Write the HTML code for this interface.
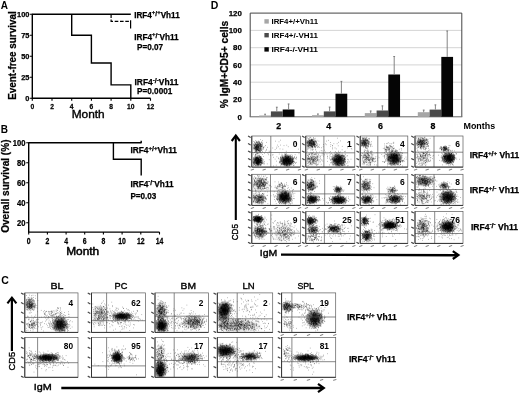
<!DOCTYPE html>
<html><head><meta charset="utf-8"><title>Figure</title>
<style>html,body{margin:0;padding:0;background:#fff}svg{display:block;will-change:transform}text{font-family:'Liberation Sans', sans-serif;fill:#000}</style>
</head><body>
<svg width="520" height="396" viewBox="0 0 520 396">
<defs><radialGradient id="g"><stop offset="0" stop-color="#000" stop-opacity="1"/><stop offset=".45" stop-color="#000" stop-opacity=".75"/><stop offset="1" stop-color="#000" stop-opacity="0"/></radialGradient></defs>
<rect width="520" height="396" fill="#fff"/>
<g id="panelA">
<text x="0.8" y="8.6" font-size="10" font-weight="bold" >A</text>
<path d="M32.3 13.8V98.3H150.5" stroke="#000" stroke-width="1.4" fill="none"/>
<path d="M29.799999999999997 98.3h2.5M29.799999999999997 77.3h2.5M29.799999999999997 56.3h2.5M29.799999999999997 35.3h2.5M29.799999999999997 14.3h2.5M32.3 98.3v2.5M52.0 98.3v2.5M71.7 98.3v2.5M91.4 98.3v2.5M111.1 98.3v2.5M130.8 98.3v2.5M150.5 98.3v2.5" stroke="#000" stroke-width="1.1" fill="none"/>
<text x="29.4" y="100.9" font-size="7.4" font-weight="bold" text-anchor="end" stroke="#000" stroke-width=".25">0</text>
<text x="29.4" y="79.9" font-size="7.4" font-weight="bold" text-anchor="end" stroke="#000" stroke-width=".25">25</text>
<text x="29.4" y="58.9" font-size="7.4" font-weight="bold" text-anchor="end" stroke="#000" stroke-width=".25">50</text>
<text x="29.4" y="37.9" font-size="7.4" font-weight="bold" text-anchor="end" stroke="#000" stroke-width=".25">75</text>
<text x="29.4" y="16.9" font-size="7.4" font-weight="bold" text-anchor="end" stroke="#000" stroke-width=".25">100</text>
<text transform="translate(32.3 108.8) scale(0.86 1)" font-size="7.8" font-weight="bold" text-anchor="middle" stroke="#000" stroke-width=".25">0</text>
<text transform="translate(52.0 108.8) scale(0.86 1)" font-size="7.8" font-weight="bold" text-anchor="middle" stroke="#000" stroke-width=".25">2</text>
<text transform="translate(71.7 108.8) scale(0.86 1)" font-size="7.8" font-weight="bold" text-anchor="middle" stroke="#000" stroke-width=".25">4</text>
<text transform="translate(91.4 108.8) scale(0.86 1)" font-size="7.8" font-weight="bold" text-anchor="middle" stroke="#000" stroke-width=".25">6</text>
<text transform="translate(111.1 108.8) scale(0.86 1)" font-size="7.8" font-weight="bold" text-anchor="middle" stroke="#000" stroke-width=".25">8</text>
<text transform="translate(130.8 108.8) scale(0.86 1)" font-size="7.8" font-weight="bold" text-anchor="middle" stroke="#000" stroke-width=".25">10</text>
<text transform="translate(150.5 108.8) scale(0.86 1)" font-size="7.8" font-weight="bold" text-anchor="middle" stroke="#000" stroke-width=".25">12</text>
<text x="71.7" y="118.0" font-size="10.5" textLength="33" lengthAdjust="spacingAndGlyphs" stroke="#000" stroke-width=".35">Month</text>
<text transform="translate(16 99.8) rotate(-90)" font-size="10.5" font-weight="bold" textLength="88.5" lengthAdjust="spacingAndGlyphs" stroke="#000" stroke-width=".25">Event-free survival</text>
<path d="M32.3 14.299999999999997H130.8" stroke="#000" stroke-width="1.4" fill="none"/>
<path d="M71.7 14.299999999999997V35.3H91.4V63.0H111.1V84.9H130.8V98.3" stroke="#000" stroke-width="1.4" fill="none"/>
<path d="M111.1 14.299999999999997V21.3H130.5" stroke="#000" stroke-width="1.2" stroke-dasharray="3.6 1.7" fill="none"/>
<path d="M130.6 20.2V28.6" stroke="#000" stroke-width="1.2" fill="none"/>
<text x="134.2" y="17.6" font-size="8.5" font-weight="bold" textLength="45.5" lengthAdjust="spacingAndGlyphs" stroke="#000" stroke-width=".25">IRF4<tspan font-size="6.2" dy="-3.3">+</tspan><tspan font-size="7.2" dy="1.3">/</tspan><tspan font-size="6.2" dy="-1.3">+</tspan><tspan dy="3.3">Vh11</tspan></text>
<text x="134.2" y="39.6" font-size="8.5" font-weight="bold" textLength="44.5" lengthAdjust="spacingAndGlyphs" stroke="#000" stroke-width=".25">IRF4<tspan font-size="6.2" dy="-3.3">+</tspan><tspan font-size="7.2" dy="1.3">/</tspan><tspan font-size="6.2" dy="-1.3">-</tspan><tspan dy="3.3">Vh11</tspan></text>
<text x="137" y="50" font-size="8.5" font-weight="bold" textLength="26" lengthAdjust="spacingAndGlyphs" stroke="#000" stroke-width=".25">P=0.07</text>
<text x="134.5" y="85.2" font-size="8.5" font-weight="bold" textLength="44" lengthAdjust="spacingAndGlyphs" stroke="#000" stroke-width=".25">IRF4<tspan font-size="6.2" dy="-3.3">-</tspan><tspan font-size="7.2" dy="1.3">/</tspan><tspan font-size="6.2" dy="-1.3">-</tspan><tspan dy="3.3">Vh11</tspan></text>
<text x="137" y="93.8" font-size="8.5" font-weight="bold" textLength="35.3" lengthAdjust="spacingAndGlyphs" stroke="#000" stroke-width=".25">P=0.0001</text>
</g>
<g id="panelB">
<text x="0.8" y="133.2" font-size="10" font-weight="bold" >B</text>
<path d="M28.7 142.2V232.1H159.5" stroke="#000" stroke-width="1.4" fill="none"/>
<path d="M26.2 222.7h2.5M26.2 202.7h2.5M26.2 182.7h2.5M26.2 162.7h2.5M26.2 142.7h2.5M28.7 232.1v2.5M47.4 232.1v2.5M66.1 232.1v2.5M84.7 232.1v2.5M103.4 232.1v2.5M122.1 232.1v2.5M140.8 232.1v2.5M159.5 232.1v2.5" stroke="#000" stroke-width="1.1" fill="none"/>
<text transform="translate(25.4 225.6) scale(0.93 1)" font-size="8.2" font-weight="bold" text-anchor="end" stroke="#000" stroke-width=".25">20</text>
<text transform="translate(25.4 205.6) scale(0.93 1)" font-size="8.2" font-weight="bold" text-anchor="end" stroke="#000" stroke-width=".25">40</text>
<text transform="translate(25.4 185.6) scale(0.93 1)" font-size="8.2" font-weight="bold" text-anchor="end" stroke="#000" stroke-width=".25">60</text>
<text transform="translate(25.4 165.6) scale(0.93 1)" font-size="8.2" font-weight="bold" text-anchor="end" stroke="#000" stroke-width=".25">80</text>
<text transform="translate(25.4 145.6) scale(0.93 1)" font-size="8.2" font-weight="bold" text-anchor="end" stroke="#000" stroke-width=".25">100</text>
<text transform="translate(28.7 244.2) scale(0.82 1)" font-size="8.4" font-weight="bold" text-anchor="middle" stroke="#000" stroke-width=".25">0</text>
<text transform="translate(47.4 244.2) scale(0.82 1)" font-size="8.4" font-weight="bold" text-anchor="middle" stroke="#000" stroke-width=".25">2</text>
<text transform="translate(66.1 244.2) scale(0.82 1)" font-size="8.4" font-weight="bold" text-anchor="middle" stroke="#000" stroke-width=".25">4</text>
<text transform="translate(84.7 244.2) scale(0.82 1)" font-size="8.4" font-weight="bold" text-anchor="middle" stroke="#000" stroke-width=".25">6</text>
<text transform="translate(103.4 244.2) scale(0.82 1)" font-size="8.4" font-weight="bold" text-anchor="middle" stroke="#000" stroke-width=".25">8</text>
<text transform="translate(122.1 244.2) scale(0.82 1)" font-size="8.4" font-weight="bold" text-anchor="middle" stroke="#000" stroke-width=".25">10</text>
<text transform="translate(140.8 244.2) scale(0.82 1)" font-size="8.4" font-weight="bold" text-anchor="middle" stroke="#000" stroke-width=".25">12</text>
<text transform="translate(159.5 244.2) scale(0.82 1)" font-size="8.4" font-weight="bold" text-anchor="middle" stroke="#000" stroke-width=".25">14</text>
<text x="66.2" y="254.6" font-size="10" textLength="33" lengthAdjust="spacingAndGlyphs" stroke="#000" stroke-width=".45">Month</text>
<text transform="translate(9.1 232.8) rotate(-90)" font-size="10.3" font-weight="bold" textLength="93.3" lengthAdjust="spacingAndGlyphs" stroke="#000" stroke-width=".25">Overall survival (%)</text>
<path d="M28.7 142.7H141.2m0 .6v-2.6" stroke="#000" stroke-width="1.4" fill="none"/>
<path d="M113.4 142.7V159.2H141.2V175.4" stroke="#000" stroke-width="1.4" fill="none"/>
<text x="130.4" y="152.9" font-size="8.5" font-weight="bold" textLength="46.6" lengthAdjust="spacingAndGlyphs" stroke="#000" stroke-width=".25">IRF4<tspan font-size="6.2" dy="-3.3">+</tspan><tspan font-size="7.2" dy="1.3">/</tspan><tspan font-size="6.2" dy="-1.3">+</tspan><tspan dy="3.3">Vh11</tspan></text>
<text x="130.4" y="186.5" font-size="8.5" font-weight="bold" textLength="43.3" lengthAdjust="spacingAndGlyphs" stroke="#000" stroke-width=".25">IRF4<tspan font-size="6.2" dy="-3.3">-</tspan><tspan font-size="7.2" dy="1.3">/</tspan><tspan font-size="6.2" dy="-1.3">-</tspan><tspan dy="3.3">Vh11</tspan></text>
<text x="130.4" y="198.5" font-size="8.5" font-weight="bold" textLength="26" lengthAdjust="spacingAndGlyphs" stroke="#000" stroke-width=".25">P=0.03</text>
</g>
<g id="panelC">
<text x="1.3" y="283.8" font-size="10.5" font-weight="bold" >C</text>
<text x="50.4" y="289.2" font-size="9.6" textLength="13" lengthAdjust="spacingAndGlyphs" stroke="#000" stroke-width=".35">BL</text>
<text x="114.6" y="289.2" font-size="9.6" textLength="12.8" lengthAdjust="spacingAndGlyphs" stroke="#000" stroke-width=".35">PC</text>
<text x="180.6" y="289.2" font-size="9.6" textLength="15.4" lengthAdjust="spacingAndGlyphs" stroke="#000" stroke-width=".35">BM</text>
<text x="242.4" y="289.2" font-size="9.6" textLength="12.2" lengthAdjust="spacingAndGlyphs" stroke="#000" stroke-width=".35">LN</text>
<text x="297.4" y="289.2" font-size="9.6" textLength="16.6" lengthAdjust="spacingAndGlyphs" stroke="#000" stroke-width=".35">SPL</text>
<rect x="24.8" y="292.9" width="53.2" height="39.5" fill="#fff" stroke="#5a5a5a" stroke-width=".7"/>
<clipPath id="c1"><rect x="24.8" y="292.9" width="53.2" height="39.5"/></clipPath><g clip-path="url(#c1)">
<ellipse cx="29.6" cy="304.4" rx="6.4" ry="7.4" fill="url(#g)" opacity="0.35"/>
<ellipse cx="59.9" cy="324.5" rx="8.8" ry="8.7" fill="url(#g)" opacity="0.87"/>
</g>
<path transform="translate(24.8 292.9) scale(.1)" d="M40 131h6M41 103h6M20 107h6M80 128h6M78 122h6M59 120h6M62 131h6M21 98h6M56 113h6M63 92h6M56 127h6M28 172h6M64 154h6M29 89h6M37 110h6M66 122h6M34 82h6M32 155h6M24 122h6M60 64h6M49 158h6M44 87h6M62 112h6M67 146h6M90 126h6M51 70h6M65 94h6M34 72h6M19 96h6M85 46h6M90 133h6M58 89h6M15 147h6M80 119h6M55 129h6M94 135h6M63 132h6M75 132h6M72 53h6M42 148h6M64 109h6M57 136h6M51 153h6M28 100h6M78 115h6M22 146h6M90 99h6M43 104h6M88 80h6M84 71h6M24 135h6M80 143h6M57 119h6M52 133h6M42 123h6M64 114h6M70 133h6M106 125h6M35 102h6M47 145h6M38 127h6M101 28h6M14 122h6M59 122h6M35 136h6M56 97h6M118 126h6M31 111h6M41 112h6M77 75h6M45 146h6M72 164h6M37 135h6M79 24h6M79 65h6M67 64h6M53 154h6M43 120h6M71 119h6M45 166h6M78 104h6M128 76h6M74 105h6M51 138h6M54 135h6M65 82h6M17 65h6M84 139h6M90 83h6M47 76h6M70 167h6M21 166h6M76 108h6M45 94h6M59 128h6M91 80h6M81 164h6M90 108h6M26 148h6M51 118h6M89 105h6M57 94h6M47 142h6M50 159h6M46 149h6M91 168h6M28 144h6M11 114h6M42 113h6M30 122h6M100 116h6M63 148h6M42 72h6M31 150h6M77 141h6M48 141h6M52 74h6M74 95h6M21 88h6M13 126h6M29 49h6M69 105h6M56 99h6M70 139h6M67 125h6M86 136h6M61 44h6M74 158h6M39 98h6M104 55h6M61 195h6M20 137h6M103 110h6M64 144h6M21 111h6M56 142h6M46 107h6M18 102h6M73 117h6M22 86h6M125 152h6M66 27h6M66 130h6M97 128h6M45 132h6M57 90h6M86 175h6M56 120h6M36 81h6M109 149h6M12 69h6M97 147h6M101 141h6M22 123h6M46 132h6M26 110h6M61 127h6M66 121h6M38 141h6M49 86h6M29 114h6M44 119h6M47 120h6M43 72h6M60 149h6M60 108h6M60 82h6M20 139h6M16 26h6M17 167h6M36 68h6M25 132h6M62 120h6M91 138h6M47 134h6M96 147h6M77 78h6M43 139h6M39 150h6M65 145h6M41 200h6M84 107h6M50 201h6M37 143h6M76 114h6M13 120h6M58 152h6M70 115h6M72 132h6M53 116h6M40 137h6M17 93h6M48 65h6M35 47h6M27 133h6M64 112h6M41 66h6M101 131h6M79 84h6M42 53h6M70 145h6M66 55h6M29 67h6M48 122h6M66 138h6M91 153h6M16 78h6M45 114h6M62 61h6M11 113h6M42 104h6M46 89h6M68 126h6M45 91h6M42 23h6M19 115h6M52 68h6M40 104h6M61 135h6M67 282h6M64 313h6M94 327h6M44 262h6M56 286h6M30 311h6M52 320h6M87 299h6M149 303h6M107 320h6M107 222h6M43 325h6M80 366h6M95 353h6M86 309h6M86 273h6M110 275h6M61 316h6M109 317h6M41 326h6M89 344h6M126 316h6M78 299h6M118 288h6M92 297h6M45 344h6M115 315h6M45 348h6M67 328h6M121 360h6M69 347h6M46 314h6M116 267h6M17 251h6M109 297h6M67 303h6M64 273h6M69 259h6M66 328h6M85 306h6M37 322h6M52 377h6M95 311h6M52 288h6M36 302h6M79 336h6M44 316h6M165 242h6M51 322h6M74 332h6M60 330h6M70 346h6M69 275h6M33 340h6M46 341h6M94 328h6M86 311h6M20 314h6M84 295h6M65 345h6M38 341h6M133 294h6M74 310h6M122 328h6M100 288h6M68 315h6M100 246h6M94 310h6M84 330h6M17 307h6M120 293h6M33 262h6M26 329h6M127 332h6M51 289h6M87 337h6M34 269h6M79 325h6M23 308h6M50 334h6M65 312h6M56 357h6M117 301h6M98 286h6M71 345h6M121 300h6M66 323h6M17 316h6M45 330h6M30 237h6M70 326h6M50 351h6M59 292h6M85 254h6M45 315h6M98 309h6M79 290h6M79 381h6M46 316h6M75 356h6M26 233h6M90 347h6M76 326h6M101 330h6M126 267h6M56 179h6M97 301h6M68 305h6M51 282h6M47 341h6M70 318h6M63 352h6M86 310h6M92 310h6M29 373h6M85 278h6M106 329h6M15 379h6M80 351h6M76 310h6M15 354h6M70 304h6M81 319h6M92 301h6M67 231h6M334 342h6M404 301h6M346 378h6M338 344h6M418 317h6M400 287h6M359 312h6M355 360h6M446 289h6M328 335h6M309 335h6M373 305h6M372 254h6M381 254h6M323 294h6M335 349h6M354 300h6M372 378h6M351 330h6M400 326h6M439 237h6M349 332h6M389 342h6M340 274h6M355 356h6M307 275h6M350 239h6M340 298h6M369 288h6M315 300h6M349 289h6M351 345h6M398 383h6M319 299h6M322 314h6M371 262h6M369 314h6M278 327h6M398 242h6M383 324h6M370 333h6M403 307h6M385 299h6M380 283h6M346 384h6M368 309h6M305 284h6M358 353h6M368 336h6M349 369h6M335 294h6M386 318h6M340 293h6M340 340h6M365 268h6M368 323h6M311 346h6M339 302h6M382 368h6M323 333h6M331 363h6M325 348h6M439 215h6M333 335h6M347 289h6M436 319h6M285 349h6M282 361h6M328 321h6M401 320h6M295 249h6M398 345h6M318 349h6M370 341h6M260 304h6M387 344h6M386 218h6M357 335h6M452 278h6M337 317h6M386 298h6M396 284h6M361 295h6M357 288h6M287 359h6M363 293h6M359 355h6M312 311h6M372 336h6M337 232h6M400 328h6M351 304h6M361 299h6M310 286h6M327 291h6M304 341h6M298 342h6M310 329h6M405 324h6M321 317h6M357 247h6M326 322h6M332 319h6M380 346h6M387 339h6M339 315h6M340 303h6M343 247h6M337 315h6M312 315h6M371 309h6M433 213h6M342 243h6M251 321h6M371 304h6M373 227h6M385 330h6M352 292h6M376 296h6M360 295h6M261 314h6M359 345h6M316 314h6M375 321h6M314 240h6M385 376h6M387 348h6M326 287h6M386 279h6M278 276h6M323 287h6M360 286h6M403 312h6M307 367h6M327 324h6M350 303h6M364 288h6M277 228h6M300 286h6M350 318h6M373 320h6M319 287h6M266 309h6M370 336h6M346 309h6M388 316h6M380 339h6M359 367h6M328 301h6M318 284h6M352 338h6M398 347h6M399 266h6M325 333h6M408 320h6M316 301h6M324 282h6M411 291h6M398 329h6M326 332h6M415 340h6M401 319h6M371 308h6M368 367h6M294 313h6M360 293h6M338 347h6M430 340h6M364 254h6M428 319h6M349 271h6M348 272h6M353 334h6M352 327h6M317 372h6M325 244h6M343 285h6M310 301h6M362 269h6M345 372h6M378 309h6M356 311h6M349 344h6M347 221h6M350 280h6M377 291h6M309 271h6M294 221h6M276 330h6M325 242h6M291 340h6M320 301h6M364 369h6M428 356h6M356 323h6M423 372h6M338 334h6M362 318h6M331 263h6M329 255h6M399 337h6M303 371h6M386 240h6M424 347h6M433 267h6M372 332h6M359 322h6M393 256h6M301 260h6M328 292h6M365 326h6M352 289h6M333 353h6M381 319h6M338 377h6M327 341h6M397 305h6M384 271h6M391 323h6M287 342h6M315 366h6M324 309h6M362 302h6M361 294h6M377 316h6M359 207h6M397 317h6M279 319h6M369 358h6M307 377h6M345 342h6M336 271h6M394 351h6M412 349h6M328 250h6M325 289h6M318 339h6M364 305h6M358 310h6M359 345h6M389 288h6M290 372h6M355 359h6M285 302h6M352 259h6M330 344h6M394 378h6M316 260h6M371 353h6M358 264h6M382 347h6M373 296h6M363 347h6M328 243h6M364 334h6M351 351h6M327 312h6M338 338h6M414 306h6M433 376h6M382 339h6M421 308h6M346 274h6M369 369h6M372 332h6M343 322h6M294 357h6M334 272h6M321 283h6M385 357h6M296 352h6M386 293h6M291 286h6M325 329h6M336 235h6M360 255h6M387 268h6M323 282h6M329 367h6M385 339h6M363 254h6M330 294h6M312 336h6M321 287h6M309 234h6M374 368h6M358 277h6M243 322h6M399 327h6M388 374h6M396 298h6M393 346h6M289 299h6M294 311h6M374 273h6M269 367h6M366 374h6M298 357h6M342 326h6M344 355h6M392 319h6M296 345h6M332 340h6M361 380h6M396 298h6M329 333h6M398 365h6M371 263h6M300 325h6M316 360h6M381 249h6M318 322h6M331 309h6M369 284h6M369 290h6M329 337h6M328 327h6M414 317h6M345 345h6M336 358h6M299 340h6M330 284h6M421 282h6M421 342h6M409 277h6M398 373h6M346 310h6M449 323h6M334 291h6M368 329h6M358 383h6M338 334h6M409 276h6M297 272h6M309 243h6M369 242h6M371 373h6M286 303h6M274 346h6M321 305h6M353 337h6M337 316h6M329 320h6M304 318h6M274 296h6M427 319h6M300 326h6M312 250h6M321 345h6M366 312h6M314 273h6M404 325h6M313 232h6M305 312h6M359 309h6M340 261h6M309 382h6M320 349h6M283 305h6M361 356h6M306 339h6M366 286h6M370 280h6M319 315h6M242 311h6M311 258h6M334 346h6M334 366h6M304 264h6M413 331h6M388 283h6M383 326h6M376 317h6M399 290h6M312 257h6M397 286h6M309 278h6M333 265h6M339 291h6M329 278h6M352 297h6M355 325h6M364 229h6M329 284h6M382 253h6M322 304h6M337 355h6M333 354h6M292 244h6M399 333h6M370 320h6M370 267h6M388 294h6M390 319h6M272 265h6M396 310h6M335 325h6M334 294h6M355 321h6M411 317h6M419 357h6M356 321h6M345 287h6M348 290h6M416 337h6M333 240h6M348 299h6M307 271h6M261 338h6M349 310h6M408 321h6M357 301h6M326 375h6M391 383h6M337 317h6M315 354h6M295 338h6M394 371h6M313 359h6M322 286h6M298 361h6M416 292h6M320 302h6M451 355h6M329 245h6M324 362h6M425 305h6M323 295h6M275 351h6M307 357h6M282 265h6M362 285h6M382 316h6M304 340h6M384 240h6M423 335h6M381 242h6M322 302h6M394 258h6M315 235h6M341 329h6M283 292h6M371 378h6M377 304h6M304 279h6M324 321h6M349 381h6M362 273h6M412 353h6M355 287h6M276 275h6M387 284h6M298 323h6M360 339h6M377 371h6M317 354h6M311 343h6M358 325h6M389 315h6M395 350h6M356 293h6M321 295h6M343 315h6M470 341h6M381 282h6M322 303h6M358 275h6M415 293h6M394 223h6M350 326h6M358 339h6M362 322h6M275 287h6M257 340h6M363 308h6M318 293h6M424 384h6M348 366h6M287 239h6M331 281h6M328 323h6M471 289h6M353 326h6M349 352h6M421 266h6M357 305h6M365 255h6M280 224h6M372 323h6M354 222h6M336 286h6M294 279h6M378 337h6M350 336h6M327 318h6M352 337h6M348 310h6M345 290h6M440 336h6M407 254h6M378 349h6M426 367h6M381 269h6M316 326h6M371 275h6M335 300h6M353 329h6M339 267h6M400 379h6M346 356h6M368 342h6M370 285h6M374 355h6M430 345h6M337 292h6M318 320h6M349 342h6M441 314h6M378 334h6M362 307h6M346 283h6M358 315h6M363 282h6M352 317h6M375 274h6M367 354h6M374 301h6M331 306h6M380 377h6M265 187h6M302 211h6M213 185h6M269 223h6M194 177h6M311 171h6M284 215h6M268 177h6M272 196h6M299 182h6M352 159h6M264 205h6M343 188h6M314 189h6M327 253h6M248 217h6M212 232h6M360 206h6M198 216h6M356 235h6M332 154h6M229 244h6M191 236h6M406 226h6M354 196h6M191 202h6M262 204h6M324 201h6M289 217h6M276 256h6M307 207h6M262 188h6M369 209h6M202 189h6M267 193h6M351 173h6M310 209h6M195 206h6M270 219h6M245 213h6M161 175h6M330 234h6M275 188h6M351 147h6M221 223h6M321 176h6M146 245h6M287 180h6M280 230h6M97 236h6M327 147h6M329 156h6M355 216h6M432 188h6M276 234h6M232 185h6M250 203h6M201 218h6M314 207h6M394 196h6M367 190h6M328 151h6M290 200h6M242 188h6M252 185h6M124 188h6M238 190h6M203 201h6M330 198h6M242 242h6M344 230h6M356 196h6M267 236h6M238 202h6M302 215h6M257 232h6M264 225h6M350 223h6M327 173h6M185 188h6M309 246h6M192 213h6M217 185h6M257 224h6M291 238h6M208 229h6M340 207h6M238 293h6M154 299h6M186 381h6M223 328h6M252 285h6M261 330h6M132 339h6M242 333h6M297 299h6M240 345h6M164 363h6M135 264h6M240 272h6M206 251h6M216 271h6M230 255h6M236 305h6M216 313h6M219 263h6M76 317h6M163 298h6M235 237h6M172 291h6M156 328h6M205 283h6M160 347h6M177 339h6M236 241h6M155 316h6M230 346h6M255 356h6M192 307h6M254 299h6M269 253h6M247 309h6M108 354h6" stroke="#000" stroke-width="6" opacity=".72" fill="none"/>
<path d="M37.6 292.9V332.4M24.8 317.4H78.0" stroke="#555" stroke-width=".7" fill="none"/>
<path d="M21.5 293.2l1.7 .9M21.5 302.8l1.7 .9M21.5 312.3l1.7 .9M21.5 321.9l1.7 .9M21.5 331.5l1.7 .9" stroke="#4a4a4a" stroke-width="1.3" stroke-linecap="round" fill="none"/>
<path d="M24.8 292.9V332.4H78.0" stroke="#2a2a2a" stroke-width=".9" fill="none"/>
<text x="73.0" y="306.0" font-size="8.3" font-weight="bold" text-anchor="end" >4</text>
<rect x="91.5" y="292.9" width="54.0" height="39.5" fill="#fff" stroke="#5a5a5a" stroke-width=".7"/>
<clipPath id="c2"><rect x="91.5" y="292.9" width="54.0" height="39.5"/></clipPath><g clip-path="url(#c2)">
<ellipse cx="122.3" cy="316.2" rx="11.3" ry="4.3" fill="url(#g)" opacity="0.87"/>
<ellipse cx="99.6" cy="314.6" rx="9.5" ry="11.3" fill="url(#g)" opacity="0.14"/>
</g>
<path transform="translate(91.5 292.9) scale(.1)" d="M323 233h6M252 223h6M385 216h6M129 216h6M246 230h6M287 215h6M264 253h6M233 271h6M279 211h6M348 244h6M254 247h6M213 214h6M365 228h6M241 243h6M354 232h6M215 226h6M329 248h6M402 228h6M283 232h6M369 214h6M374 178h6M348 219h6M331 246h6M247 231h6M320 244h6M260 213h6M209 283h6M297 228h6M231 251h6M280 261h6M351 233h6M345 211h6M291 221h6M242 233h6M300 261h6M135 219h6M260 223h6M329 241h6M309 223h6M333 240h6M213 227h6M237 209h6M315 234h6M313 215h6M297 215h6M327 246h6M397 258h6M266 224h6M259 239h6M409 247h6M194 208h6M241 243h6M307 238h6M399 216h6M264 271h6M325 217h6M203 202h6M182 234h6M310 252h6M300 219h6M269 270h6M217 236h6M309 245h6M287 242h6M349 230h6M284 229h6M258 228h6M292 237h6M376 258h6M284 244h6M322 248h6M308 238h6M283 217h6M352 258h6M341 241h6M321 224h6M216 246h6M318 222h6M258 258h6M215 267h6M340 279h6M270 232h6M281 236h6M297 218h6M362 217h6M281 244h6M280 224h6M326 225h6M243 231h6M296 266h6M251 252h6M267 226h6M291 238h6M352 267h6M275 259h6M358 249h6M268 250h6M302 240h6M293 246h6M365 255h6M297 252h6M382 214h6M383 206h6M335 244h6M383 238h6M283 217h6M243 248h6M295 218h6M335 217h6M285 223h6M392 261h6M299 202h6M321 234h6M325 244h6M291 251h6M350 237h6M286 223h6M343 211h6M299 218h6M236 244h6M306 233h6M352 203h6M304 238h6M350 211h6M344 237h6M377 255h6M335 275h6M307 224h6M290 214h6M306 195h6M303 241h6M358 226h6M379 220h6M300 195h6M268 217h6M382 243h6M252 243h6M331 228h6M308 227h6M280 198h6M303 257h6M379 227h6M270 228h6M352 239h6M278 240h6M297 242h6M287 204h6M310 247h6M252 230h6M351 225h6M275 272h6M349 252h6M260 264h6M225 223h6M344 258h6M261 220h6M317 195h6M339 243h6M285 243h6M346 238h6M333 262h6M284 236h6M281 252h6M287 242h6M314 234h6M393 231h6M378 248h6M373 229h6M353 247h6M277 238h6M301 232h6M372 219h6M224 199h6M285 220h6M308 243h6M394 238h6M330 219h6M336 258h6M374 195h6M351 263h6M348 204h6M292 244h6M328 217h6M263 251h6M241 260h6M308 238h6M241 221h6M341 205h6M410 206h6M247 233h6M331 246h6M289 229h6M296 222h6M180 251h6M320 236h6M276 237h6M307 231h6M362 200h6M320 212h6M292 261h6M254 231h6M278 251h6M259 201h6M333 226h6M292 253h6M264 225h6M315 240h6M282 252h6M418 225h6M399 193h6M377 226h6M314 226h6M276 208h6M288 257h6M363 226h6M281 219h6M248 267h6M340 235h6M283 213h6M372 247h6M260 251h6M253 245h6M260 225h6M332 241h6M357 217h6M385 258h6M307 241h6M269 230h6M242 234h6M317 258h6M354 248h6M289 228h6M291 237h6M212 247h6M230 223h6M308 223h6M389 231h6M385 255h6M283 240h6M371 226h6M312 222h6M310 226h6M311 252h6M376 235h6M317 249h6M293 212h6M362 215h6M353 214h6M397 213h6M349 261h6M260 261h6M267 199h6M343 246h6M297 185h6M305 227h6M289 227h6M219 222h6M396 262h6M289 219h6M327 253h6M343 210h6M315 235h6M378 255h6M333 256h6M288 262h6M286 240h6M353 215h6M273 199h6M315 232h6M291 242h6M203 232h6M312 228h6M346 266h6M285 215h6M278 234h6M336 216h6M357 213h6M348 241h6M330 273h6M294 229h6M331 249h6M241 238h6M271 245h6M375 234h6M302 236h6M162 247h6M335 236h6M288 219h6M298 256h6M302 258h6M181 224h6M321 232h6M226 220h6M369 208h6M259 212h6M280 245h6M337 194h6M379 221h6M278 264h6M303 209h6M276 219h6M258 226h6M351 239h6M239 285h6M259 235h6M309 247h6M291 241h6M411 234h6M254 239h6M268 226h6M317 239h6M293 249h6M298 208h6M351 226h6M367 220h6M336 239h6M174 204h6M252 259h6M214 250h6M361 242h6M341 223h6M307 237h6M328 246h6M297 219h6M280 240h6M225 209h6M287 222h6M294 182h6M291 228h6M346 195h6M292 242h6M331 255h6M359 213h6M339 226h6M268 262h6M276 216h6M287 216h6M357 240h6M376 240h6M277 252h6M275 224h6M299 233h6M366 221h6M325 232h6M245 212h6M296 240h6M323 242h6M310 224h6M328 213h6M241 226h6M237 223h6M270 222h6M305 217h6M286 200h6M314 216h6M327 179h6M268 237h6M187 226h6M312 235h6M233 237h6M315 214h6M344 232h6M308 224h6M334 234h6M364 241h6M277 228h6M353 226h6M326 243h6M298 188h6M314 237h6M314 218h6M367 230h6M276 219h6M325 212h6M258 271h6M372 253h6M375 244h6M224 255h6M369 242h6M210 256h6M375 223h6M314 247h6M303 254h6M311 246h6M312 204h6M258 293h6M321 258h6M364 265h6M335 221h6M308 196h6M298 250h6M200 236h6M348 258h6M261 220h6M214 213h6M334 272h6M250 259h6M329 223h6M417 184h6M304 237h6M413 267h6M420 235h6M356 259h6M333 239h6M298 225h6M246 270h6M285 193h6M320 232h6M316 267h6M302 227h6M270 232h6M285 236h6M463 240h6M265 270h6M350 248h6M343 248h6M341 260h6M358 258h6M282 233h6M271 251h6M349 224h6M336 283h6M369 211h6M303 245h6M306 240h6M366 239h6M252 246h6M302 235h6M279 206h6M245 226h6M254 180h6M365 210h6M271 243h6M187 258h6M269 245h6M283 238h6M313 233h6M216 204h6M305 260h6M280 243h6M315 242h6M357 204h6M321 229h6M292 216h6M268 213h6M252 281h6M392 233h6M344 214h6M168 197h6M314 260h6M305 213h6M295 213h6M238 228h6M287 217h6M263 215h6M319 259h6M297 276h6M226 238h6M249 229h6M312 243h6M364 222h6M245 229h6M322 219h6M352 265h6M236 240h6M358 196h6M318 228h6M236 258h6M318 223h6M329 245h6M346 244h6M328 210h6M286 235h6M169 274h6M288 212h6M216 237h6M309 221h6M286 215h6M270 231h6M275 246h6M300 235h6M328 257h6M337 237h6M299 217h6M290 246h6M319 225h6M241 203h6M323 252h6M326 206h6M297 237h6M261 239h6M297 216h6M245 248h6M325 215h6M257 250h6M337 227h6M387 227h6M255 254h6M298 239h6M309 213h6M31 207h6M140 167h6M138 228h6M34 230h6M104 172h6M34 239h6M46 143h6M70 225h6M57 158h6M89 129h6M103 241h6M151 261h6M95 230h6M82 151h6M142 243h6M68 160h6M143 243h6M31 250h6M160 216h6M97 196h6M54 270h6M210 223h6M75 256h6M68 253h6M115 166h6M36 213h6M115 231h6M133 148h6M101 186h6M85 233h6M40 205h6M32 230h6M45 192h6M90 184h6M129 185h6M116 231h6M37 206h6M45 199h6M69 307h6M63 295h6M99 152h6M124 236h6M72 204h6M91 202h6M58 198h6M129 186h6M96 159h6M51 148h6M72 251h6M93 192h6M106 199h6M96 230h6M103 94h6M26 255h6M76 328h6M71 189h6M143 244h6M160 242h6M72 253h6M48 195h6M57 206h6M113 193h6M94 192h6M117 80h6M72 225h6M35 267h6M90 280h6M121 249h6M74 163h6M71 194h6M91 194h6M208 137h6M130 193h6M70 263h6M81 157h6M98 207h6M36 180h6M101 232h6M68 324h6M98 186h6M90 211h6M23 319h6M73 203h6M57 265h6M82 301h6M113 298h6M76 235h6M62 208h6M41 184h6M131 230h6M132 259h6M119 266h6M55 256h6M67 190h6M130 324h6M40 303h6M115 175h6M92 235h6M96 199h6M27 218h6M116 256h6M108 271h6M39 215h6M95 266h6M87 242h6M86 321h6M184 228h6M21 183h6M90 302h6M100 250h6M123 227h6M45 212h6M95 203h6M53 199h6M18 166h6M77 199h6M82 286h6M93 215h6M32 163h6M96 174h6M98 164h6M86 213h6M122 197h6M65 229h6M83 300h6M70 190h6M67 240h6M90 251h6M23 339h6M157 215h6M30 224h6M98 106h6M81 144h6M100 285h6M123 142h6M138 262h6M65 242h6M144 200h6M80 189h6M129 110h6M140 169h6M119 136h6M42 187h6M115 137h6M106 185h6M132 201h6M101 208h6M155 199h6M79 315h6M84 251h6M50 227h6M54 142h6M22 273h6M98 142h6M156 182h6M65 229h6M33 137h6M50 275h6M120 139h6M131 218h6M101 219h6M98 167h6M43 182h6M65 247h6M30 296h6M54 188h6M110 238h6M66 164h6M39 138h6M128 270h6M158 241h6M94 254h6M120 204h6M95 323h6M10 147h6M40 254h6M130 200h6M108 214h6M93 190h6M79 217h6M128 327h6M80 265h6M125 255h6M114 170h6M10 299h6M131 170h6M134 250h6M39 274h6M52 180h6M16 206h6M123 184h6M157 251h6M58 157h6M12 244h6M135 164h6M80 203h6M70 242h6M168 185h6M116 271h6M69 209h6M25 270h6M58 184h6M83 174h6M37 202h6M142 207h6M102 144h6M64 141h6M76 247h6M91 171h6M114 264h6M99 195h6M79 185h6M75 233h6M68 265h6M189 190h6M95 258h6M107 205h6M61 267h6M107 242h6M47 248h6M114 208h6M107 324h6M32 149h6M71 244h6M83 159h6M20 189h6M81 176h6M18 304h6M45 209h6M58 188h6M82 202h6M106 158h6M18 314h6M77 255h6M130 244h6M82 139h6M14 265h6M109 245h6M11 111h6M36 158h6M87 166h6M147 186h6M57 260h6M94 172h6M115 312h6M29 204h6M157 152h6M335 294h6M372 279h6M58 255h6M199 193h6M154 297h6M238 362h6M319 154h6M363 323h6M273 191h6M455 186h6M261 154h6M138 165h6M384 320h6M227 183h6M263 277h6M109 194h6M259 294h6M277 280h6M138 122h6M302 207h6M256 236h6M320 215h6M422 258h6M325 290h6M379 278h6M85 222h6M466 282h6M329 281h6M202 220h6M201 319h6M308 352h6M322 359h6M318 192h6M453 275h6M395 268h6M235 265h6M151 192h6M175 228h6M126 251h6M302 366h6M464 254h6M363 244h6M311 254h6M212 260h6M113 280h6M239 197h6M231 286h6M197 282h6M330 341h6M154 250h6M324 338h6M297 297h6M114 224h6M446 241h6M500 217h6M240 169h6M337 271h6M484 265h6M243 179h6M261 308h6M348 323h6M362 254h6M334 266h6M127 350h6M309 199h6M311 272h6M376 335h6M433 204h6M71 272h6M305 275h6M151 231h6M290 297h6M504 272h6M205 127h6M384 249h6M258 202h6M348 158h6M281 263h6M302 328h6M259 261h6M361 171h6M238 260h6M372 212h6M356 277h6M110 175h6M116 264h6M292 296h6M358 226h6M384 301h6M320 283h6M132 276h6M159 191h6M232 264h6M264 238h6M162 267h6M190 179h6M280 336h6M226 198h6M418 350h6M238 245h6M284 311h6M317 156h6M151 188h6M316 262h6M462 241h6M303 260h6M284 384h6M300 337h6M409 223h6M343 235h6M281 265h6M272 230h6M437 242h6M345 349h6M337 313h6M419 316h6M455 178h6M480 258h6M81 221h6M119 255h6M109 201h6M301 265h6M184 243h6M259 260h6M269 244h6M364 168h6M216 264h6M226 226h6M222 268h6M404 246h6M241 276h6M243 149h6M298 235h6M208 291h6M274 225h6M35 161h6M271 250h6M317 269h6M218 186h6M151 249h6M146 298h6M126 157h6M249 158h6M445 201h6M264 243h6M181 159h6M69 304h6M380 376h6M112 287h6M268 303h6M214 296h6M366 290h6M426 247h6M436 218h6M450 104h6M271 212h6M270 313h6M347 262h6M453 175h6M182 340h6M305 142h6M306 191h6M429 320h6M210 328h6M179 307h6M332 249h6M116 241h6M22 225h6M70 323h6M165 122h6M333 277h6M215 373h6M353 260h6M200 93h6M321 309h6M206 178h6M265 164h6M270 299h6M433 271h6M291 298h6M421 239h6M137 212h6M134 207h6M256 275h6" stroke="#000" stroke-width="6" opacity=".72" fill="none"/>
<path d="M106.6 292.9V332.4M91.5 320.7H145.5" stroke="#555" stroke-width=".7" fill="none"/>
<path d="M88.2 293.2l1.7 .9M88.2 302.8l1.7 .9M88.2 312.3l1.7 .9M88.2 321.9l1.7 .9M88.2 331.5l1.7 .9" stroke="#4a4a4a" stroke-width="1.3" stroke-linecap="round" fill="none"/>
<path d="M91.5 292.9V332.4H145.5" stroke="#2a2a2a" stroke-width=".9" fill="none"/>
<text x="140.5" y="306.0" font-size="8.3" font-weight="bold" text-anchor="end" >62</text>
<rect x="155.0" y="292.9" width="53.4" height="39.5" fill="#fff" stroke="#5a5a5a" stroke-width=".7"/>
<clipPath id="c3"><rect x="155.0" y="292.9" width="53.4" height="39.5"/></clipPath><g clip-path="url(#c3)">
<ellipse cx="161.4" cy="325.7" rx="7.0" ry="7.8" fill="url(#g)" opacity="0.92"/>
<ellipse cx="161.4" cy="311.5" rx="6.5" ry="11.3" fill="url(#g)" opacity="0.32"/>
<ellipse cx="193.4" cy="322.1" rx="11.7" ry="7.8" fill="url(#g)" opacity="0.28"/>
</g>
<path transform="translate(155.0 292.9) scale(.1)" d="M69 330h6M52 342h6M92 354h6M112 317h6M70 342h6M53 362h6M51 292h6M62 312h6M90 314h6M68 320h6M74 305h6M99 277h6M51 302h6M84 329h6M79 316h6M41 288h6M53 308h6M73 340h6M95 324h6M40 290h6M66 340h6M126 334h6M30 370h6M100 375h6M63 361h6M48 325h6M57 361h6M66 302h6M71 351h6M41 350h6M41 296h6M71 319h6M32 269h6M64 336h6M49 334h6M15 341h6M77 337h6M44 330h6M68 365h6M72 336h6M40 358h6M101 310h6M84 338h6M62 282h6M120 261h6M73 314h6M100 312h6M65 349h6M78 309h6M85 341h6M95 309h6M62 313h6M37 336h6M77 378h6M53 341h6M100 323h6M66 332h6M42 292h6M99 333h6M61 283h6M67 369h6M27 296h6M99 378h6M113 308h6M83 301h6M80 314h6M70 375h6M74 319h6M65 337h6M47 335h6M83 383h6M24 358h6M141 334h6M67 368h6M47 310h6M74 307h6M99 327h6M49 360h6M37 371h6M94 332h6M95 384h6M107 327h6M62 366h6M17 306h6M79 347h6M74 343h6M22 321h6M72 319h6M65 349h6M33 307h6M30 267h6M88 320h6M94 314h6M131 352h6M68 331h6M57 356h6M127 313h6M29 348h6M97 275h6M42 292h6M81 345h6M40 288h6M85 255h6M84 322h6M124 362h6M45 318h6M55 302h6M66 361h6M16 319h6M111 353h6M38 299h6M37 271h6M100 330h6M42 277h6M51 309h6M118 311h6M67 365h6M85 321h6M82 312h6M61 294h6M35 275h6M79 345h6M69 355h6M80 332h6M36 348h6M101 349h6M103 311h6M33 371h6M45 336h6M58 328h6M55 309h6M70 260h6M35 288h6M40 238h6M56 353h6M82 284h6M102 269h6M46 315h6M103 331h6M60 299h6M66 329h6M87 376h6M87 328h6M59 383h6M70 327h6M120 382h6M81 324h6M44 364h6M49 361h6M39 331h6M76 332h6M71 341h6M28 289h6M60 295h6M43 329h6M101 308h6M81 334h6M52 295h6M59 302h6M80 266h6M99 354h6M82 379h6M82 268h6M65 343h6M42 288h6M77 345h6M50 319h6M48 308h6M62 365h6M13 316h6M114 338h6M68 356h6M32 285h6M12 277h6M71 357h6M51 304h6M76 349h6M72 261h6M47 240h6M71 298h6M43 379h6M105 344h6M72 333h6M45 326h6M123 297h6M43 333h6M91 356h6M33 323h6M55 285h6M66 311h6M92 342h6M39 330h6M52 305h6M48 364h6M51 268h6M39 355h6M131 291h6M53 316h6M20 341h6M62 337h6M133 318h6M88 356h6M44 307h6M112 352h6M68 290h6M91 346h6M132 378h6M89 337h6M66 308h6M73 336h6M84 365h6M73 309h6M89 381h6M38 342h6M81 346h6M79 324h6M118 279h6M43 310h6M14 340h6M62 309h6M110 368h6M51 350h6M62 367h6M82 326h6M81 303h6M88 379h6M52 347h6M12 360h6M91 292h6M118 331h6M10 280h6M91 318h6M98 274h6M61 361h6M42 351h6M52 339h6M25 354h6M104 289h6M96 225h6M56 268h6M73 302h6M46 298h6M73 311h6M35 320h6M76 298h6M98 270h6M76 314h6M113 305h6M43 281h6M125 349h6M30 316h6M34 380h6M77 257h6M70 359h6M64 344h6M60 335h6M70 303h6M74 333h6M62 304h6M32 336h6M89 244h6M47 374h6M92 303h6M106 293h6M50 320h6M12 292h6M27 323h6M53 306h6M44 353h6M111 313h6M114 383h6M105 338h6M17 351h6M51 334h6M71 295h6M71 304h6M138 253h6M35 341h6M45 248h6M72 356h6M39 378h6M79 369h6M16 327h6M105 327h6M69 306h6M98 303h6M67 256h6M65 335h6M128 276h6M47 320h6M24 280h6M25 350h6M62 356h6M30 348h6M50 330h6M93 329h6M53 270h6M66 355h6M44 325h6M76 372h6M54 269h6M52 273h6M73 322h6M96 314h6M74 334h6M78 276h6M86 358h6M35 379h6M64 351h6M81 358h6M44 307h6M75 349h6M82 339h6M48 366h6M78 365h6M43 332h6M49 316h6M70 339h6M38 239h6M39 346h6M37 342h6M52 294h6M60 326h6M94 281h6M36 367h6M92 310h6M39 340h6M19 310h6M56 241h6M82 354h6M97 277h6M23 299h6M33 316h6M70 343h6M110 289h6M91 333h6M26 333h6M19 384h6M40 363h6M105 306h6M35 332h6M30 359h6M69 300h6M42 353h6M39 320h6M90 373h6M84 331h6M118 351h6M77 348h6M87 337h6M58 271h6M129 281h6M125 371h6M44 337h6M63 257h6M53 338h6M101 285h6M74 330h6M68 333h6M52 279h6M78 341h6M82 372h6M24 244h6M34 342h6M63 353h6M166 309h6M58 306h6M71 346h6M33 374h6M100 343h6M60 319h6M11 351h6M32 310h6M95 295h6M47 358h6M123 303h6M99 304h6M76 345h6M27 364h6M121 329h6M72 286h6M121 330h6M23 355h6M17 303h6M134 305h6M43 307h6M45 347h6M110 292h6M78 263h6M112 324h6M41 382h6M60 376h6M38 329h6M75 320h6M112 302h6M96 376h6M35 308h6M76 321h6M66 311h6M61 345h6M87 300h6M60 300h6M58 276h6M94 351h6M60 303h6M49 304h6M169 284h6M26 348h6M83 271h6M48 330h6M63 307h6M59 317h6M103 324h6M63 309h6M43 301h6M99 336h6M117 363h6M70 322h6M28 336h6M53 271h6M70 345h6M70 311h6M78 366h6M54 346h6M96 310h6M69 301h6M83 314h6M100 300h6M118 316h6M37 295h6M85 297h6M121 373h6M80 277h6M63 302h6M134 308h6M90 373h6M33 315h6M72 344h6M27 335h6M60 361h6M12 307h6M47 316h6M87 305h6M151 302h6M90 364h6M94 320h6M37 318h6M85 332h6M82 348h6M35 294h6M110 310h6M37 294h6M95 287h6M36 365h6M68 329h6M43 319h6M48 327h6M88 282h6M34 253h6M112 325h6M63 325h6M96 339h6M91 321h6M60 325h6M13 292h6M85 329h6M123 377h6M35 324h6M96 320h6M60 315h6M107 240h6M104 365h6M61 347h6M33 367h6M162 295h6M108 325h6M53 310h6M58 283h6M63 347h6M74 344h6M15 294h6M84 363h6M27 307h6M29 351h6M75 329h6M43 340h6M65 301h6M74 304h6M94 350h6M42 348h6M66 302h6M34 268h6M27 340h6M102 305h6M69 340h6M89 343h6M103 355h6M39 341h6M64 348h6M54 357h6M106 298h6M46 337h6M79 332h6M90 285h6M88 369h6M99 343h6M56 342h6M61 104h6M46 183h6M48 137h6M57 166h6M66 183h6M69 236h6M68 206h6M28 34h6M52 220h6M54 153h6M27 231h6M48 198h6M97 213h6M129 178h6M92 221h6M44 188h6M47 133h6M72 145h6M113 147h6M48 190h6M48 188h6M46 112h6M108 208h6M68 161h6M59 201h6M23 144h6M37 250h6M33 245h6M50 325h6M61 187h6M103 230h6M91 130h6M97 271h6M61 160h6M32 237h6M72 185h6M27 268h6M89 184h6M107 136h6M89 134h6M105 171h6M100 164h6M75 244h6M37 190h6M39 229h6M46 166h6M58 245h6M33 184h6M54 157h6M40 177h6M69 106h6M70 124h6M64 302h6M35 182h6M56 236h6M50 93h6M16 194h6M71 240h6M48 219h6M32 252h6M61 150h6M69 275h6M39 121h6M34 126h6M62 203h6M59 195h6M98 170h6M27 68h6M71 150h6M56 206h6M77 105h6M35 189h6M59 244h6M49 79h6M98 101h6M35 205h6M32 313h6M71 213h6M51 299h6M79 148h6M100 98h6M46 200h6M68 136h6M110 261h6M36 204h6M45 163h6M93 192h6M60 190h6M29 248h6M42 252h6M50 162h6M107 195h6M45 158h6M81 281h6M82 165h6M31 151h6M60 198h6M44 251h6M35 148h6M78 210h6M52 235h6M22 269h6M128 285h6M67 286h6M65 253h6M58 195h6M79 95h6M57 273h6M91 202h6M69 256h6M73 88h6M36 170h6M68 162h6M61 271h6M91 216h6M64 188h6M74 198h6M42 225h6M39 183h6M53 126h6M81 182h6M29 181h6M23 259h6M79 287h6M47 221h6M35 141h6M61 206h6M91 171h6M96 235h6M38 176h6M37 273h6M47 230h6M90 172h6M49 203h6M41 120h6M35 202h6M69 275h6M10 211h6M30 244h6M84 192h6M107 166h6M48 131h6M44 191h6M83 251h6M56 148h6M54 163h6M50 165h6M38 182h6M49 177h6M23 193h6M80 218h6M48 127h6M26 125h6M45 169h6M12 219h6M19 150h6M43 227h6M117 167h6M56 165h6M58 177h6M135 130h6M60 145h6M74 159h6M80 130h6M125 196h6M12 221h6M50 126h6M76 159h6M85 157h6M90 193h6M74 193h6M53 167h6M77 221h6M52 299h6M113 127h6M95 182h6M70 145h6M112 143h6M61 148h6M120 249h6M25 162h6M74 163h6M53 131h6M71 130h6M88 307h6M54 268h6M74 151h6M54 137h6M67 221h6M91 171h6M29 181h6M112 199h6M62 80h6M51 213h6M36 253h6M47 141h6M47 181h6M93 157h6M12 181h6M79 263h6M31 260h6M83 208h6M41 141h6M36 232h6M70 239h6M116 186h6M62 282h6M26 163h6M53 166h6M68 143h6M97 117h6M40 100h6M23 215h6M82 175h6M88 216h6M47 183h6M74 287h6M51 204h6M79 247h6M76 239h6M33 172h6M131 198h6M66 199h6M68 119h6M44 177h6M68 142h6M61 149h6M25 152h6M40 228h6M102 215h6M57 158h6M18 159h6M109 243h6M70 173h6M64 207h6M63 207h6M41 188h6M53 239h6M28 251h6M61 160h6M64 192h6M57 207h6M47 101h6M84 184h6M112 205h6M44 213h6M128 240h6M32 181h6M17 219h6M80 134h6M77 232h6M87 152h6M44 129h6M26 201h6M65 251h6M71 169h6M22 263h6M68 184h6M35 133h6M82 137h6M80 217h6M53 105h6M75 256h6M40 122h6M95 193h6M46 247h6M56 208h6M52 148h6M70 143h6M12 159h6M99 240h6M126 235h6M110 198h6M51 209h6M36 222h6M51 199h6M39 179h6M92 175h6M44 200h6M89 176h6M30 108h6M25 239h6M61 209h6M95 200h6M77 161h6M17 217h6M61 214h6M33 179h6M122 144h6M66 251h6M57 192h6M51 250h6M61 167h6M76 174h6M49 262h6M92 191h6M87 227h6M80 188h6M66 206h6M80 203h6M48 182h6M77 137h6M63 223h6M68 172h6M63 162h6M92 167h6M16 126h6M72 196h6M50 121h6M59 144h6M45 186h6M42 201h6M42 163h6M57 258h6M109 232h6M42 186h6M90 226h6M17 183h6M42 223h6M417 274h6M496 283h6M512 287h6M380 357h6M356 276h6M461 291h6M409 250h6M477 326h6M403 316h6M358 276h6M302 305h6M449 321h6M432 316h6M336 248h6M417 298h6M436 283h6M338 307h6M355 237h6M352 263h6M326 274h6M434 372h6M474 278h6M444 290h6M405 269h6M380 236h6M478 266h6M415 273h6M398 253h6M364 323h6M415 227h6M428 248h6M399 310h6M350 282h6M371 306h6M432 338h6M401 360h6M334 353h6M370 318h6M377 295h6M336 305h6M490 297h6M383 293h6M421 285h6M384 300h6M452 325h6M329 271h6M385 321h6M435 285h6M495 287h6M457 340h6M467 299h6M414 241h6M291 272h6M422 328h6M379 328h6M414 344h6M301 264h6M334 257h6M470 261h6M341 279h6M430 277h6M423 311h6M351 213h6M336 250h6M470 268h6M328 305h6M387 261h6M441 323h6M399 267h6M338 223h6M404 306h6M336 293h6M295 313h6M362 276h6M417 288h6M436 310h6M445 296h6M271 338h6M295 328h6M397 245h6M387 322h6M331 294h6M345 258h6M352 335h6M420 291h6M380 297h6M399 298h6M294 323h6M339 204h6M421 251h6M377 289h6M353 310h6M370 283h6M334 283h6M330 294h6M453 326h6M406 246h6M438 324h6M492 216h6M385 281h6M441 255h6M364 371h6M436 225h6M385 338h6M352 312h6M389 243h6M351 331h6M446 272h6M443 268h6M397 291h6M318 303h6M364 199h6M340 263h6M340 259h6M348 209h6M431 295h6M397 283h6M387 283h6M327 241h6M388 327h6M396 347h6M312 283h6M352 334h6M473 274h6M422 284h6M332 288h6M329 345h6M415 332h6M403 210h6M426 295h6M259 295h6M437 350h6M330 319h6M401 286h6M369 310h6M414 314h6M363 247h6M453 336h6M354 291h6M426 232h6M410 374h6M398 268h6M491 292h6M395 277h6M393 231h6M317 242h6M431 289h6M445 223h6M352 341h6M342 228h6M345 280h6M383 336h6M454 345h6M415 275h6M358 242h6M451 335h6M389 262h6M419 309h6M392 252h6M397 273h6M423 312h6M407 277h6M464 318h6M451 320h6M419 305h6M328 230h6M335 313h6M432 298h6M389 354h6M363 231h6M303 281h6M421 317h6M372 320h6M381 267h6M364 318h6M434 254h6M332 296h6M495 252h6M318 306h6M411 271h6M383 308h6M293 291h6M415 323h6M445 289h6M308 338h6M424 270h6M438 327h6M377 211h6M359 266h6M340 289h6M327 305h6M483 251h6M438 274h6M412 287h6M451 268h6M422 265h6M396 291h6M441 238h6M313 339h6M404 350h6M330 299h6M416 352h6M381 277h6M421 288h6M345 318h6M284 257h6M455 275h6M367 304h6M443 310h6M334 272h6M439 288h6M351 322h6M444 366h6M328 268h6M348 304h6M359 330h6M244 325h6M350 282h6M414 299h6M331 343h6M414 275h6M395 254h6M320 282h6M403 295h6M344 245h6M297 346h6M403 265h6M446 310h6M362 271h6M443 303h6M469 304h6M354 271h6M347 300h6M397 312h6M408 256h6M373 260h6M409 247h6M354 263h6M352 283h6M463 283h6M309 282h6M423 311h6M396 360h6M442 295h6M447 246h6M375 262h6M393 347h6M358 346h6M331 340h6M296 263h6M436 289h6M392 291h6M393 286h6M333 282h6M390 261h6M408 352h6M299 273h6M369 292h6M389 267h6M382 292h6M380 344h6M391 241h6M303 312h6M366 271h6M314 281h6M379 268h6M366 322h6M425 310h6M375 246h6M424 343h6M450 332h6M398 305h6M383 335h6M370 365h6M424 281h6M384 237h6M346 282h6M511 264h6M432 294h6M369 313h6M281 324h6M484 302h6M381 297h6M418 275h6M390 309h6M366 305h6M401 316h6M333 274h6M362 333h6M397 235h6M318 358h6M402 248h6M337 297h6M458 347h6M365 282h6M484 258h6M465 303h6M389 336h6M409 263h6M305 292h6M411 338h6M249 338h6M416 344h6M425 299h6M406 305h6M351 288h6M391 276h6M308 242h6M410 310h6M390 252h6M428 278h6M276 345h6M307 369h6M412 277h6M262 268h6M461 338h6M397 233h6M364 282h6M408 288h6M402 236h6M351 341h6M309 323h6M504 314h6M312 334h6M288 303h6M363 334h6M445 298h6M477 325h6M359 258h6M512 278h6M405 288h6M359 237h6M376 288h6M435 274h6M303 255h6M382 300h6M422 279h6M412 297h6M472 290h6M391 311h6M447 260h6M359 282h6M273 336h6M440 293h6M489 346h6M431 243h6M463 306h6M322 294h6M423 325h6M393 274h6M424 266h6M380 318h6M309 305h6M282 260h6M320 289h6M421 290h6M431 295h6M373 309h6M372 296h6M438 272h6M444 254h6M373 232h6M356 346h6M402 335h6M308 257h6M408 320h6M427 234h6M411 289h6M390 308h6M369 234h6M329 242h6M316 287h6M452 267h6M344 252h6M294 294h6M359 284h6M334 309h6M322 311h6M350 319h6M338 307h6M407 289h6M469 298h6M338 316h6M341 273h6M385 298h6M473 232h6M371 331h6M376 303h6M463 250h6M386 319h6M353 232h6M332 298h6M394 355h6M453 239h6M438 323h6M468 287h6M355 297h6M464 313h6M372 321h6M194 218h6M384 189h6M213 258h6M169 243h6M235 246h6M249 330h6M176 253h6M103 316h6M293 362h6M308 260h6M209 258h6M145 320h6M192 235h6M280 282h6M194 263h6M201 353h6M318 234h6M237 355h6M217 378h6M275 314h6M78 325h6M266 309h6M277 306h6M200 328h6M245 216h6M160 285h6M266 149h6M79 336h6M120 262h6M193 308h6M350 369h6M161 347h6M145 294h6M253 312h6M177 353h6M234 275h6M219 215h6M296 295h6M275 383h6M172 260h6M240 325h6M226 330h6M276 175h6M186 159h6M217 252h6M286 286h6M235 349h6M286 205h6M186 295h6M373 265h6M226 291h6M301 271h6M263 252h6M197 230h6M291 244h6M283 299h6M316 122h6M164 206h6M227 322h6M438 365h6M346 298h6M210 307h6M69 330h6M240 312h6M159 213h6M190 274h6M267 256h6M267 315h6M149 270h6M118 244h6M311 235h6M386 305h6M309 282h6M307 339h6M248 246h6M225 250h6M184 179h6M201 295h6M202 232h6M272 302h6M206 294h6M164 326h6M163 257h6M250 252h6M358 176h6M249 203h6M264 201h6M285 307h6M374 345h6M204 331h6M204 270h6M201 174h6M287 159h6M221 306h6" stroke="#000" stroke-width="6" opacity=".72" fill="none"/>
<path d="M174.2 292.9V332.4M155.0 316.2H208.4" stroke="#555" stroke-width=".7" fill="none"/>
<path d="M151.7 293.2l1.7 .9M151.7 302.8l1.7 .9M151.7 312.3l1.7 .9M151.7 321.9l1.7 .9M151.7 331.5l1.7 .9" stroke="#4a4a4a" stroke-width="1.3" stroke-linecap="round" fill="none"/>
<path d="M155.0 292.9V332.4H208.4" stroke="#2a2a2a" stroke-width=".9" fill="none"/>
<text x="203.4" y="306.0" font-size="8.3" font-weight="bold" text-anchor="end" >2</text>
<rect x="217.3" y="292.9" width="55.4" height="39.5" fill="#fff" stroke="#5a5a5a" stroke-width=".7"/>
<clipPath id="c4"><rect x="217.3" y="292.9" width="55.4" height="39.5"/></clipPath><g clip-path="url(#c4)">
<ellipse cx="223.9" cy="310.3" rx="7.9" ry="10.0" fill="url(#g)" opacity="0.92" transform="rotate(20 223.9 310.3)"/>
<ellipse cx="238.4" cy="325.7" rx="24.4" ry="7.4" fill="url(#g)" opacity="0.21"/>
<ellipse cx="223.9" cy="322.5" rx="7.3" ry="8.7" fill="url(#g)" opacity="0.21"/>
</g>
<path transform="translate(217.3 292.9) scale(.1)" d="M94 109h6M34 194h6M78 253h6M39 199h6M12 147h6M99 155h6M69 128h6M123 132h6M41 149h6M24 257h6M88 142h6M80 195h6M76 174h6M99 130h6M33 141h6M19 189h6M111 248h6M76 193h6M63 111h6M106 118h6M78 171h6M90 184h6M78 150h6M14 138h6M73 225h6M127 149h6M24 191h6M12 275h6M99 114h6M24 232h6M67 125h6M20 123h6M137 204h6M75 122h6M84 158h6M17 221h6M94 142h6M116 189h6M80 186h6M96 213h6M44 199h6M51 174h6M136 149h6M38 144h6M30 221h6M125 174h6M78 161h6M78 209h6M79 214h6M132 189h6M92 174h6M64 183h6M59 187h6M40 157h6M64 117h6M50 144h6M85 107h6M75 123h6M36 171h6M98 199h6M56 149h6M135 122h6M126 125h6M44 168h6M33 240h6M83 177h6M97 186h6M22 210h6M96 245h6M41 200h6M69 287h6M28 111h6M98 208h6M100 48h6M83 171h6M62 183h6M95 171h6M42 147h6M13 101h6M142 169h6M35 251h6M99 191h6M94 171h6M21 204h6M46 242h6M63 155h6M80 170h6M69 132h6M70 190h6M127 194h6M149 183h6M42 157h6M83 108h6M98 144h6M16 121h6M58 261h6M105 197h6M53 156h6M106 163h6M65 219h6M45 138h6M81 179h6M70 150h6M36 250h6M136 122h6M66 178h6M88 116h6M59 178h6M39 178h6M63 191h6M67 152h6M56 221h6M97 181h6M34 212h6M71 217h6M70 134h6M82 149h6M91 223h6M94 233h6M63 132h6M83 227h6M86 126h6M11 166h6M49 135h6M65 223h6M110 187h6M45 196h6M47 108h6M43 239h6M100 185h6M106 168h6M52 89h6M61 214h6M79 176h6M36 214h6M86 113h6M121 163h6M79 178h6M97 196h6M104 197h6M58 146h6M100 147h6M100 175h6M48 126h6M34 246h6M91 183h6M57 170h6M32 224h6M79 156h6M87 134h6M33 154h6M149 151h6M85 106h6M68 184h6M111 127h6M56 139h6M23 266h6M60 169h6M37 200h6M133 253h6M133 147h6M101 187h6M91 233h6M113 111h6M78 154h6M80 180h6M125 119h6M43 161h6M83 160h6M64 175h6M103 181h6M102 100h6M113 81h6M81 174h6M77 143h6M39 203h6M78 177h6M46 176h6M106 187h6M72 119h6M83 136h6M76 80h6M14 242h6M83 116h6M18 190h6M76 187h6M52 191h6M110 212h6M82 113h6M57 244h6M107 128h6M52 230h6M37 186h6M81 257h6M40 81h6M68 207h6M55 168h6M34 219h6M34 129h6M29 117h6M65 174h6M129 186h6M72 192h6M52 238h6M68 181h6M62 172h6M49 214h6M66 176h6M53 205h6M36 207h6M36 195h6M126 206h6M81 123h6M90 183h6M106 157h6M56 256h6M84 164h6M23 157h6M79 206h6M44 117h6M49 119h6M53 181h6M127 205h6M140 121h6M105 226h6M68 213h6M57 261h6M120 110h6M43 228h6M65 142h6M50 182h6M82 149h6M74 206h6M52 115h6M77 144h6M48 160h6M58 198h6M87 202h6M118 146h6M81 196h6M41 132h6M80 182h6M32 135h6M104 227h6M48 231h6M38 155h6M103 171h6M20 184h6M158 86h6M90 122h6M78 110h6M163 176h6M78 144h6M40 142h6M46 250h6M52 243h6M29 163h6M75 102h6M194 208h6M86 144h6M63 123h6M106 169h6M58 179h6M21 168h6M53 190h6M53 170h6M68 220h6M28 206h6M36 153h6M68 181h6M46 210h6M19 228h6M84 181h6M60 216h6M30 188h6M105 176h6M54 118h6M93 145h6M140 228h6M27 145h6M107 221h6M16 205h6M16 261h6M38 192h6M92 161h6M43 220h6M84 177h6M54 252h6M90 205h6M101 111h6M78 154h6M100 157h6M97 134h6M107 153h6M56 197h6M55 170h6M74 261h6M19 113h6M74 221h6M49 172h6M25 267h6M78 121h6M34 101h6M116 173h6M121 224h6M69 205h6M78 222h6M42 138h6M46 171h6M77 118h6M15 240h6M150 163h6M79 176h6M27 193h6M38 243h6M86 166h6M105 154h6M85 213h6M10 144h6M65 209h6M71 175h6M59 157h6M82 129h6M92 167h6M91 158h6M78 184h6M89 204h6M100 178h6M68 162h6M26 153h6M91 219h6M33 176h6M112 125h6M73 191h6M87 193h6M39 67h6M138 181h6M89 242h6M86 126h6M112 188h6M76 200h6M82 228h6M40 97h6M71 175h6M94 177h6M29 256h6M94 239h6M113 153h6M64 169h6M43 123h6M90 124h6M77 200h6M63 156h6M79 201h6M97 126h6M50 150h6M17 118h6M29 198h6M60 148h6M47 145h6M104 194h6M29 220h6M98 136h6M56 141h6M46 224h6M45 159h6M88 125h6M41 193h6M132 108h6M94 170h6M100 215h6M127 210h6M65 134h6M10 179h6M71 214h6M101 115h6M56 158h6M60 207h6M109 203h6M13 105h6M22 169h6M42 217h6M109 167h6M97 185h6M61 235h6M29 157h6M129 160h6M71 181h6M72 113h6M58 124h6M98 197h6M108 132h6M81 185h6M112 156h6M72 241h6M140 156h6M51 98h6M89 210h6M91 141h6M83 256h6M67 168h6M98 209h6M117 173h6M82 163h6M51 154h6M49 191h6M55 173h6M58 112h6M129 150h6M112 235h6M52 169h6M69 146h6M110 183h6M109 156h6M23 221h6M73 124h6M44 215h6M72 141h6M72 222h6M64 158h6M13 282h6M33 244h6M55 188h6M73 161h6M73 111h6M14 162h6M46 162h6M68 150h6M13 242h6M37 139h6M74 122h6M21 198h6M95 190h6M162 247h6M120 154h6M77 257h6M26 244h6M56 116h6M77 139h6M104 135h6M99 93h6M49 217h6M52 183h6M119 141h6M22 161h6M79 166h6M15 212h6M31 148h6M54 203h6M64 134h6M146 163h6M95 177h6M51 166h6M53 183h6M83 134h6M18 266h6M118 223h6M78 163h6M119 172h6M28 192h6M46 129h6M139 124h6M62 178h6M97 116h6M64 157h6M115 239h6M28 201h6M90 177h6M62 159h6M24 128h6M75 245h6M134 180h6M123 81h6M76 117h6M119 114h6M48 115h6M67 213h6M84 141h6M78 177h6M89 198h6M122 249h6M33 198h6M107 141h6M53 131h6M40 222h6M46 170h6M76 223h6M93 134h6M127 236h6M87 257h6M107 208h6M72 205h6M27 179h6M22 191h6M12 271h6M65 197h6M40 150h6M69 161h6M65 132h6M97 167h6M33 179h6M42 156h6M63 129h6M71 136h6M19 173h6M78 109h6M50 176h6M75 194h6M66 201h6M62 134h6M93 164h6M57 201h6M79 236h6M49 150h6M106 121h6M15 183h6M60 128h6M85 205h6M102 171h6M62 156h6M107 93h6M32 194h6M41 161h6M63 197h6M68 121h6M160 174h6M150 121h6M73 167h6M99 281h6M114 143h6M51 132h6M45 178h6M44 154h6M94 251h6M19 111h6M34 223h6M26 249h6M57 237h6M42 150h6M92 210h6M63 202h6M19 238h6M49 235h6M78 182h6M73 121h6M84 215h6M103 169h6M39 146h6M56 169h6M113 148h6M40 196h6M63 276h6M97 145h6M44 128h6M65 185h6M73 147h6M61 168h6M85 184h6M57 115h6M117 188h6M61 170h6M109 174h6M76 166h6M101 139h6M58 219h6M96 213h6M52 242h6M69 240h6M43 114h6M97 172h6M66 129h6M134 142h6M91 117h6M27 264h6M155 183h6M65 89h6M94 133h6M58 121h6M75 168h6M102 191h6M102 240h6M109 241h6M61 197h6M91 110h6M16 190h6M25 155h6M28 171h6M67 152h6M72 72h6M88 121h6M51 185h6M91 215h6M137 133h6M65 246h6M96 133h6M87 157h6M29 210h6M77 125h6M15 247h6M28 191h6M55 224h6M71 131h6M61 123h6M149 213h6M37 222h6M91 174h6M83 192h6M79 255h6M57 168h6M42 222h6M67 211h6M106 158h6M50 232h6M85 218h6M63 155h6M42 152h6M86 114h6M116 156h6M66 201h6M75 92h6M92 202h6M41 217h6M110 145h6M90 100h6M37 229h6M26 198h6M21 143h6M72 256h6M70 210h6M160 94h6M139 228h6M65 185h6M77 149h6M68 168h6M78 210h6M90 210h6M107 373h6M248 310h6M414 292h6M86 311h6M257 353h6M224 349h6M136 308h6M226 284h6M232 315h6M286 295h6M155 309h6M172 295h6M184 284h6M270 349h6M210 321h6M116 296h6M188 298h6M85 333h6M210 314h6M124 326h6M137 314h6M232 351h6M293 308h6M342 290h6M193 370h6M467 332h6M173 315h6M81 323h6M166 303h6M341 302h6M394 355h6M281 308h6M157 263h6M241 319h6M253 306h6M264 279h6M327 225h6M350 316h6M194 278h6M105 350h6M133 326h6M307 285h6M160 290h6M63 305h6M330 329h6M284 323h6M166 330h6M404 340h6M276 263h6M126 354h6M342 315h6M187 313h6M297 328h6M373 366h6M179 308h6M186 299h6M167 325h6M307 276h6M62 302h6M179 342h6M127 376h6M155 320h6M217 365h6M243 328h6M154 333h6M255 316h6M209 268h6M155 366h6M363 325h6M167 360h6M145 372h6M335 293h6M188 288h6M241 314h6M51 293h6M238 278h6M327 342h6M192 373h6M113 350h6M67 317h6M280 310h6M199 349h6M374 370h6M260 319h6M57 383h6M411 257h6M304 326h6M287 338h6M191 327h6M207 365h6M183 310h6M281 348h6M258 337h6M368 364h6M234 321h6M282 266h6M155 304h6M229 315h6M474 351h6M211 317h6M342 354h6M310 367h6M172 306h6M134 331h6M318 293h6M154 284h6M424 353h6M234 288h6M101 306h6M215 286h6M187 367h6M213 331h6M196 305h6M64 325h6M102 310h6M41 324h6M308 300h6M246 278h6M273 345h6M170 356h6M118 329h6M390 327h6M91 365h6M268 318h6M17 266h6M49 376h6M242 300h6M334 375h6M121 343h6M36 340h6M404 281h6M217 307h6M201 330h6M241 357h6M266 362h6M319 363h6M139 341h6M171 300h6M419 337h6M216 258h6M186 353h6M189 310h6M368 317h6M176 324h6M186 362h6M272 325h6M173 320h6M391 317h6M280 276h6M245 350h6M346 338h6M273 338h6M232 301h6M274 324h6M279 353h6M227 313h6M244 287h6M240 298h6M259 331h6M188 288h6M216 305h6M196 350h6M312 285h6M310 372h6M331 336h6M202 384h6M177 277h6M221 337h6M101 287h6M421 331h6M294 308h6M50 322h6M353 305h6M21 322h6M181 328h6M101 317h6M153 356h6M227 356h6M206 257h6M304 356h6M203 269h6M159 341h6M357 316h6M152 302h6M319 356h6M18 367h6M114 279h6M42 304h6M79 305h6M228 341h6M161 275h6M168 305h6M21 332h6M56 270h6M372 358h6M365 331h6M168 325h6M66 352h6M240 317h6M13 324h6M384 375h6M304 316h6M226 346h6M232 362h6M141 251h6M65 349h6M325 327h6M268 330h6M230 312h6M168 366h6M183 326h6M338 360h6M170 336h6M104 332h6M245 327h6M229 339h6M219 311h6M109 320h6M382 320h6M142 312h6M85 343h6M107 357h6M308 346h6M321 325h6M25 325h6M279 277h6M82 363h6M258 372h6M282 330h6M257 355h6M208 320h6M245 317h6M467 302h6M50 285h6M323 314h6M228 320h6M241 280h6M220 309h6M327 348h6M77 296h6M272 367h6M293 322h6M330 250h6M154 295h6M102 346h6M241 337h6M197 348h6M295 309h6M311 297h6M399 285h6M181 292h6M216 371h6M362 340h6M149 357h6M314 326h6M477 305h6M69 320h6M273 383h6M23 333h6M347 305h6M163 287h6M294 355h6M275 335h6M318 323h6M288 354h6M351 344h6M221 351h6M45 269h6M385 332h6M99 308h6M195 330h6M130 360h6M95 382h6M283 272h6M80 329h6M241 313h6M213 333h6M88 329h6M456 306h6M102 349h6M356 362h6M143 325h6M233 320h6M255 363h6M271 327h6M291 330h6M343 357h6M437 268h6M222 317h6M133 330h6M270 345h6M196 284h6M272 347h6M442 358h6M213 289h6M507 305h6M233 352h6M266 371h6M99 305h6M230 287h6M145 373h6M244 324h6M149 329h6M208 292h6M297 285h6M351 316h6M243 299h6M409 373h6M441 357h6M359 307h6M354 313h6M206 282h6M218 341h6M205 291h6M310 358h6M202 353h6M320 295h6M208 265h6M98 342h6M115 340h6M251 259h6M158 378h6M213 331h6M134 274h6M191 298h6M224 263h6M365 384h6M129 338h6M112 356h6M119 323h6M355 345h6M175 277h6M36 367h6M268 329h6M350 332h6M131 324h6M201 327h6M487 347h6M242 319h6M136 294h6M44 265h6M108 260h6M363 369h6M284 243h6M214 294h6M19 319h6M339 342h6M50 305h6M127 366h6M201 295h6M110 261h6M118 357h6M199 355h6M84 358h6M31 326h6M188 331h6M101 356h6M471 378h6M105 308h6M292 332h6M126 369h6M269 362h6M191 370h6M159 290h6M210 280h6M350 352h6M24 333h6M305 315h6M257 308h6M203 324h6M265 295h6M85 338h6M154 345h6M155 283h6M293 336h6M292 316h6M171 370h6M268 325h6M221 348h6M125 337h6M104 265h6M233 331h6M283 346h6M289 354h6M93 368h6M509 308h6M70 350h6M313 361h6M382 281h6M253 343h6M350 297h6M213 315h6M192 322h6M194 268h6M206 330h6M168 208h6M133 305h6M114 381h6M314 321h6M102 343h6M144 377h6M334 323h6M279 301h6M34 356h6M393 317h6M152 267h6M450 287h6M102 321h6M345 329h6M208 328h6M305 326h6M228 325h6M87 373h6M133 283h6M162 328h6M302 278h6M69 333h6M253 290h6M84 333h6M194 273h6M113 377h6M92 363h6M40 377h6M389 306h6M134 349h6M72 346h6M346 336h6M246 322h6M322 300h6M388 327h6M174 272h6M161 335h6M349 273h6M196 304h6M77 328h6M126 357h6M268 316h6M224 295h6M93 303h6M204 299h6M163 298h6M236 289h6M208 331h6M317 302h6M83 277h6M295 306h6M320 325h6M180 265h6M135 354h6M142 350h6M27 362h6M520 365h6M246 286h6M151 305h6M231 259h6M114 354h6M226 352h6M305 289h6M60 343h6M214 330h6M120 362h6M265 366h6M171 351h6M203 296h6M201 272h6M190 333h6M287 292h6M62 303h6M501 332h6M126 304h6M407 288h6M197 325h6M128 303h6M23 299h6M355 375h6M179 351h6M261 331h6M195 368h6M273 320h6M184 359h6M144 303h6M180 311h6M350 339h6M200 310h6M367 342h6M442 358h6M186 309h6M178 333h6M298 344h6M385 276h6M213 280h6M96 307h6M138 295h6M41 366h6M174 360h6M87 249h6M144 357h6M148 341h6M90 374h6M258 363h6M179 370h6M218 311h6M139 329h6M109 287h6M224 351h6M178 356h6M386 285h6M239 295h6M138 333h6M303 346h6M169 364h6M371 344h6M12 322h6M177 273h6M203 353h6M181 321h6M373 307h6M105 329h6M335 347h6M218 311h6M347 357h6M17 339h6M278 306h6M67 317h6M15 346h6M153 268h6M208 367h6M69 315h6M412 334h6M148 334h6M297 294h6M199 272h6M34 276h6M304 338h6M291 368h6M215 335h6M255 343h6M92 318h6M287 160h6M221 148h6M336 170h6M370 213h6M366 222h6M397 251h6M374 116h6M443 207h6M309 80h6M353 134h6M260 14h6M476 79h6M182 189h6M367 104h6M303 174h6M322 193h6M390 133h6M124 303h6M261 91h6M387 197h6M236 316h6M43 244h6M300 178h6M339 142h6M340 70h6M260 282h6M18 240h6M56 100h6M402 130h6M240 56h6M291 145h6M233 52h6M321 186h6M431 192h6M473 238h6M292 87h6M352 222h6M132 74h6M381 120h6M466 172h6M243 68h6M371 41h6M159 69h6M493 272h6M279 132h6M382 241h6M214 306h6M281 234h6M41 154h6M227 291h6M280 72h6M521 111h6M304 73h6M379 170h6M272 130h6M241 109h6M148 239h6M403 64h6M175 185h6M269 140h6M332 146h6M425 224h6M365 264h6M278 120h6M344 85h6M422 16h6M289 131h6M184 233h6M260 188h6M245 168h6M254 162h6M293 112h6M353 145h6M196 87h6M353 247h6M158 129h6M354 228h6M383 78h6M308 218h6M331 142h6M172 169h6M297 160h6M471 237h6M216 173h6M270 164h6M486 219h6M309 113h6M286 182h6M249 232h6M306 78h6M274 149h6M414 233h6M466 263h6M339 165h6M100 295h6M24 278h6M88 320h6M29 343h6M76 236h6M82 336h6M84 283h6M39 340h6M74 295h6M53 255h6M103 326h6M43 356h6M58 256h6M99 351h6M53 247h6M64 199h6M68 356h6M75 267h6M90 276h6M108 282h6M134 282h6M72 259h6M23 309h6M78 257h6M85 279h6M48 293h6M79 325h6M107 311h6M42 269h6M78 248h6M60 281h6M63 303h6M101 361h6M95 336h6M30 337h6M109 242h6M150 273h6M68 264h6M47 338h6M75 281h6M104 259h6M38 273h6M41 323h6M58 254h6M51 217h6M72 300h6M86 286h6M79 259h6M67 302h6M25 319h6M71 298h6M50 375h6M66 265h6M38 319h6M59 264h6M42 333h6M69 337h6M65 249h6M95 308h6M44 283h6M34 329h6M52 315h6M75 285h6M78 286h6M27 279h6M27 326h6M88 273h6M87 305h6M98 259h6M67 257h6M43 350h6M82 326h6M40 215h6M103 332h6M42 349h6M60 320h6M60 359h6M49 211h6M56 303h6M75 267h6M58 251h6M58 299h6M74 361h6M80 250h6M68 295h6M33 324h6M129 322h6M92 338h6M62 334h6M39 303h6M89 347h6M56 284h6M82 293h6M71 327h6M41 330h6M79 285h6M24 271h6M64 333h6M72 251h6M94 311h6M80 257h6M29 331h6M112 310h6M60 278h6M63 344h6M42 337h6M42 319h6M111 268h6M96 295h6M35 304h6M87 268h6M57 273h6M41 288h6M93 276h6M107 281h6M43 338h6M112 270h6M85 250h6M53 281h6M89 247h6M49 269h6M69 248h6M73 237h6M93 244h6M107 263h6M30 314h6M133 319h6M88 249h6M99 301h6M66 350h6M38 339h6M93 271h6M70 300h6M85 258h6M58 299h6M67 297h6M74 288h6M50 336h6M45 283h6M37 251h6" stroke="#000" stroke-width="6" opacity=".72" fill="none"/>
<path d="M237.2 292.9V332.4M217.3 318.8H272.7" stroke="#555" stroke-width=".7" fill="none"/>
<path d="M214.0 293.2l1.7 .9M214.0 302.8l1.7 .9M214.0 312.3l1.7 .9M214.0 321.9l1.7 .9M214.0 331.5l1.7 .9" stroke="#4a4a4a" stroke-width="1.3" stroke-linecap="round" fill="none"/>
<path d="M217.3 292.9V332.4H272.7" stroke="#2a2a2a" stroke-width=".9" fill="none"/>
<text x="267.7" y="306.0" font-size="8.3" font-weight="bold" text-anchor="end" >2</text>
<rect x="281.6" y="292.9" width="54.1" height="39.5" fill="#fff" stroke="#5a5a5a" stroke-width=".7"/>
<clipPath id="c5"><rect x="281.6" y="292.9" width="54.1" height="39.5"/></clipPath><g clip-path="url(#c5)">
<ellipse cx="287.0" cy="306.7" rx="7.1" ry="5.6" fill="url(#g)" opacity="0.39"/>
<ellipse cx="314.6" cy="319.0" rx="9.5" ry="10.0" fill="url(#g)" opacity="0.83"/>
</g>
<path transform="translate(281.6 292.9) scale(.1)" d="M68 137h6M49 149h6M48 155h6M111 147h6M45 180h6M76 96h6M96 143h6M81 109h6M26 121h6M71 109h6M31 162h6M33 141h6M25 95h6M51 135h6M80 160h6M37 109h6M51 142h6M48 123h6M22 119h6M51 125h6M107 131h6M68 126h6M48 113h6M38 100h6M20 149h6M50 123h6M77 124h6M67 128h6M84 162h6M56 165h6M70 177h6M50 99h6M60 144h6M42 132h6M45 106h6M108 118h6M19 98h6M27 137h6M101 153h6M30 106h6M18 136h6M81 126h6M105 186h6M59 83h6M88 135h6M75 163h6M22 139h6M59 119h6M76 134h6M41 185h6M59 179h6M49 164h6M30 141h6M88 83h6M71 131h6M88 142h6M51 105h6M147 119h6M43 120h6M44 143h6M11 164h6M45 153h6M44 128h6M32 145h6M66 113h6M43 165h6M81 135h6M30 169h6M39 147h6M35 155h6M109 142h6M17 133h6M50 129h6M90 167h6M117 151h6M75 117h6M34 161h6M58 109h6M35 60h6M53 107h6M52 108h6M24 125h6M142 108h6M16 124h6M87 158h6M75 130h6M57 118h6M48 117h6M114 148h6M30 135h6M39 168h6M52 122h6M75 146h6M32 118h6M58 97h6M24 163h6M81 166h6M39 123h6M45 126h6M94 132h6M96 120h6M65 178h6M30 121h6M34 97h6M44 121h6M123 126h6M83 137h6M62 156h6M36 139h6M58 179h6M98 142h6M11 160h6M52 167h6M55 142h6M74 119h6M32 195h6M26 161h6M75 158h6M97 104h6M83 86h6M55 146h6M86 165h6M24 131h6M48 120h6M27 121h6M90 172h6M77 180h6M56 110h6M33 143h6M86 168h6M25 162h6M36 153h6M82 175h6M37 144h6M67 127h6M56 153h6M126 149h6M36 91h6M23 151h6M75 149h6M72 122h6M104 109h6M69 131h6M44 156h6M93 142h6M32 132h6M51 174h6M80 178h6M77 118h6M82 162h6M49 149h6M43 106h6M50 157h6M42 81h6M28 165h6M60 166h6M29 127h6M22 118h6M69 141h6M38 145h6M12 128h6M10 110h6M103 172h6M93 123h6M73 109h6M36 144h6M72 85h6M49 141h6M17 152h6M57 119h6M105 144h6M76 185h6M38 132h6M67 201h6M71 143h6M13 116h6M57 145h6M24 132h6M28 153h6M73 124h6M39 107h6M38 193h6M53 159h6M71 175h6M43 115h6M86 161h6M32 165h6M53 137h6M111 151h6M63 130h6M59 164h6M67 119h6M67 135h6M63 133h6M41 82h6M75 126h6M63 81h6M61 163h6M59 105h6M84 124h6M35 143h6M43 189h6M49 192h6M67 106h6M53 139h6M99 170h6M134 121h6M39 197h6M25 147h6M104 112h6M42 119h6M70 148h6M52 154h6M28 128h6M68 189h6M52 139h6M95 140h6M94 144h6M90 142h6M24 116h6M67 186h6M112 130h6M132 109h6M26 161h6M65 154h6M15 147h6M83 136h6M86 138h6M64 130h6M10 134h6M69 118h6M95 132h6M29 169h6M48 99h6M39 115h6M47 114h6M55 149h6M35 133h6M48 159h6M30 157h6M243 127h6M126 125h6M83 121h6M114 127h6M157 138h6M183 136h6M175 134h6M117 140h6M246 147h6M106 136h6M91 142h6M166 123h6M138 126h6M177 115h6M180 134h6M205 129h6M177 166h6M231 135h6M103 140h6M208 88h6M169 136h6M179 131h6M169 152h6M198 125h6M165 163h6M131 122h6M195 132h6M193 151h6M238 137h6M180 129h6M165 146h6M110 113h6M153 115h6M138 149h6M58 139h6M107 126h6M147 114h6M98 131h6M20 96h6M157 147h6M276 125h6M135 125h6M202 145h6M127 137h6M176 148h6M156 127h6M132 109h6M192 141h6M237 134h6M153 115h6M115 118h6M195 131h6M55 128h6M162 113h6M176 138h6M122 108h6M160 134h6M164 154h6M185 114h6M219 120h6M214 131h6M243 114h6M216 137h6M129 141h6M299 135h6M136 127h6M247 134h6M257 120h6M248 105h6M169 125h6M151 149h6M145 135h6M277 143h6M155 118h6M70 136h6M225 147h6M190 164h6M219 93h6M130 142h6M156 143h6M315 118h6M296 129h6M99 131h6M226 121h6M262 116h6M167 144h6M166 121h6M177 140h6M271 151h6M278 129h6M88 129h6M156 114h6M150 129h6M181 144h6M129 148h6M180 141h6M245 110h6M264 119h6M199 147h6M227 105h6M336 312h6M324 257h6M332 335h6M306 217h6M282 236h6M319 276h6M326 182h6M261 291h6M361 199h6M370 150h6M430 287h6M258 283h6M328 240h6M314 250h6M325 219h6M305 286h6M352 200h6M308 331h6M360 335h6M271 213h6M236 172h6M313 212h6M282 229h6M321 298h6M354 180h6M394 245h6M286 259h6M312 197h6M397 234h6M303 285h6M402 282h6M291 280h6M377 278h6M358 238h6M326 184h6M298 209h6M330 328h6M232 200h6M289 256h6M380 225h6M295 315h6M346 284h6M366 226h6M339 230h6M298 266h6M348 202h6M296 288h6M337 291h6M316 224h6M363 288h6M206 300h6M296 291h6M398 247h6M287 272h6M333 286h6M269 271h6M368 292h6M357 315h6M294 316h6M339 215h6M317 273h6M344 322h6M338 237h6M424 245h6M294 302h6M311 224h6M283 314h6M283 265h6M310 252h6M294 267h6M356 308h6M314 207h6M265 261h6M222 321h6M331 266h6M269 231h6M297 291h6M312 288h6M352 173h6M319 318h6M307 266h6M324 205h6M424 254h6M357 240h6M390 313h6M381 304h6M360 324h6M347 267h6M365 220h6M219 297h6M336 228h6M318 217h6M293 269h6M335 298h6M326 289h6M359 229h6M256 229h6M319 236h6M425 230h6M350 226h6M359 203h6M371 269h6M312 206h6M402 234h6M392 151h6M277 343h6M407 261h6M373 288h6M314 267h6M280 200h6M335 294h6M336 205h6M366 265h6M362 248h6M318 308h6M389 206h6M281 305h6M345 263h6M287 307h6M338 271h6M346 237h6M347 267h6M361 278h6M274 229h6M318 313h6M301 312h6M376 300h6M427 260h6M343 316h6M347 306h6M324 325h6M345 174h6M377 252h6M291 247h6M317 313h6M344 258h6M329 220h6M302 240h6M320 208h6M312 306h6M349 261h6M345 250h6M278 301h6M427 284h6M359 372h6M277 285h6M315 248h6M258 257h6M347 188h6M320 239h6M286 289h6M401 280h6M374 295h6M327 287h6M387 242h6M323 199h6M249 224h6M368 277h6M341 320h6M253 323h6M333 296h6M390 224h6M292 279h6M327 235h6M324 228h6M335 244h6M403 214h6M355 264h6M398 217h6M309 339h6M301 244h6M312 217h6M383 329h6M323 227h6M271 291h6M306 286h6M225 242h6M357 280h6M205 274h6M335 260h6M315 241h6M336 284h6M192 260h6M370 251h6M383 219h6M413 304h6M392 332h6M278 256h6M350 308h6M333 202h6M383 253h6M349 246h6M325 199h6M359 233h6M252 279h6M328 304h6M365 206h6M322 261h6M333 213h6M333 305h6M383 326h6M362 147h6M318 236h6M203 330h6M369 260h6M345 283h6M320 323h6M409 298h6M305 272h6M372 293h6M300 304h6M361 287h6M311 260h6M247 259h6M310 247h6M317 246h6M333 265h6M303 255h6M326 283h6M349 245h6M294 187h6M275 279h6M290 333h6M323 243h6M323 236h6M302 264h6M267 267h6M326 220h6M374 277h6M377 231h6M276 207h6M261 176h6M398 239h6M338 237h6M323 331h6M254 216h6M335 220h6M360 319h6M368 294h6M322 306h6M295 207h6M318 249h6M383 216h6M379 226h6M275 185h6M328 196h6M339 263h6M312 174h6M307 281h6M252 292h6M330 236h6M338 290h6M329 226h6M364 230h6M345 304h6M386 332h6M374 267h6M321 269h6M358 223h6M396 189h6M373 203h6M282 238h6M317 200h6M356 255h6M388 215h6M251 291h6M320 304h6M228 204h6M333 348h6M276 175h6M310 324h6M398 199h6M303 178h6M293 217h6M348 312h6M433 244h6M365 270h6M335 347h6M360 331h6M343 299h6M352 256h6M299 242h6M330 243h6M315 229h6M367 249h6M324 251h6M386 236h6M391 222h6M396 288h6M308 281h6M379 218h6M320 274h6M321 247h6M330 274h6M363 327h6M315 340h6M324 195h6M311 245h6M376 170h6M302 255h6M358 278h6M367 253h6M319 315h6M404 278h6M336 222h6M421 278h6M356 188h6M356 370h6M323 251h6M396 252h6M366 348h6M279 223h6M359 266h6M331 253h6M335 276h6M309 248h6M340 212h6M349 162h6M357 255h6M279 321h6M279 353h6M298 315h6M327 333h6M320 307h6M316 176h6M347 282h6M347 336h6M298 196h6M341 229h6M325 260h6M294 309h6M324 341h6M340 308h6M317 231h6M307 221h6M349 267h6M283 191h6M293 178h6M292 192h6M360 208h6M304 255h6M331 279h6M363 289h6M315 317h6M346 229h6M394 207h6M350 317h6M335 276h6M335 290h6M339 261h6M360 175h6M341 247h6M414 273h6M301 290h6M313 207h6M318 283h6M381 308h6M340 253h6M338 315h6M324 313h6M296 260h6M363 292h6M338 237h6M253 241h6M293 242h6M397 226h6M366 259h6M282 265h6M362 207h6M280 243h6M361 233h6M348 281h6M330 281h6M384 252h6M344 212h6M299 256h6M364 230h6M270 302h6M431 145h6M284 266h6M350 218h6M344 310h6M318 293h6M335 219h6M304 233h6M386 312h6M340 190h6M309 242h6M248 259h6M342 201h6M312 240h6M408 290h6M362 264h6M275 302h6M301 174h6M361 245h6M330 283h6M320 279h6M384 246h6M315 261h6M357 242h6M333 230h6M326 285h6M295 252h6M268 229h6M333 284h6M286 256h6M290 274h6M341 280h6M321 196h6M306 200h6M301 258h6M375 231h6M297 269h6M242 349h6M265 306h6M371 303h6M325 293h6M315 303h6M302 224h6M346 240h6M358 222h6M341 216h6M325 356h6M284 205h6M262 250h6M398 240h6M369 252h6M303 350h6M375 178h6M288 279h6M357 250h6M343 284h6M315 305h6M294 294h6M368 269h6M315 259h6M236 272h6M270 170h6M362 219h6M345 262h6M256 220h6M318 281h6M333 204h6M307 265h6M276 241h6M307 165h6M402 299h6M310 303h6M286 329h6M314 267h6M305 264h6M343 262h6M295 294h6M353 260h6M374 227h6M383 253h6M393 240h6M319 270h6M376 325h6M310 228h6M362 316h6M359 246h6M383 259h6M337 288h6M306 159h6M339 292h6M348 285h6M336 307h6M334 327h6M332 296h6M307 274h6M347 266h6M394 262h6M377 276h6M375 220h6M314 303h6M295 278h6M353 269h6M348 284h6M320 279h6M308 240h6M263 256h6M258 262h6M338 212h6M333 273h6M315 219h6M325 279h6M368 347h6M247 276h6M348 232h6M343 354h6M334 321h6M374 240h6M233 312h6M394 181h6M321 229h6M338 263h6M377 234h6M410 184h6M339 380h6M325 288h6M367 245h6M249 270h6M360 169h6M309 285h6M229 252h6M263 200h6M347 311h6M378 231h6M351 181h6M268 285h6M313 215h6M251 250h6M423 170h6M286 311h6M249 232h6M332 311h6M326 342h6M328 255h6M348 276h6M267 218h6M320 276h6M278 228h6M298 275h6M312 287h6M346 219h6M317 204h6M334 297h6M288 181h6M351 247h6M328 281h6M345 302h6M310 161h6M309 246h6M312 278h6M319 319h6M303 260h6M314 356h6M289 215h6M314 295h6M330 252h6M268 167h6M321 249h6M404 277h6M347 304h6M292 205h6M314 327h6M371 234h6M277 302h6M376 211h6M397 225h6M361 251h6M316 233h6M359 288h6M364 248h6M294 357h6M402 252h6M281 328h6M335 263h6M366 276h6M334 350h6M250 289h6M288 264h6M322 272h6M227 292h6M428 242h6M368 288h6M342 237h6M356 272h6M391 298h6M42 204h6M112 325h6M70 286h6M144 355h6M68 295h6M83 356h6M81 341h6M73 320h6M24 312h6M66 305h6M57 318h6M46 301h6M36 265h6M47 293h6M30 221h6M117 344h6M52 327h6M29 250h6M75 328h6M42 307h6M98 314h6M70 328h6M24 316h6M44 241h6M93 301h6M96 379h6M11 262h6M99 358h6M77 320h6M87 331h6M23 334h6M96 293h6M35 290h6M46 326h6M89 308h6M55 245h6M51 272h6M47 320h6M36 289h6M28 299h6M55 343h6M85 289h6M42 315h6M81 302h6M59 308h6M29 317h6M83 309h6M28 308h6M61 319h6M51 337h6M99 337h6M72 351h6M63 302h6M18 308h6M104 274h6M89 263h6M74 372h6M66 267h6M74 303h6M90 289h6M83 344h6M73 309h6M86 301h6M50 316h6M100 290h6M80 285h6M41 314h6M21 278h6M26 287h6M238 268h6M336 180h6M211 85h6M325 153h6M364 162h6M213 153h6M198 123h6M343 157h6M341 156h6M282 156h6M261 152h6M393 175h6M171 243h6M378 221h6M290 171h6M266 182h6M327 177h6M244 140h6M404 243h6M217 153h6M294 200h6M289 187h6M320 221h6M212 220h6M325 198h6M199 169h6M280 202h6M341 204h6M213 226h6M301 213h6M296 150h6M466 203h6M346 160h6M282 220h6M325 245h6M374 136h6M197 222h6M335 167h6M277 156h6M412 171h6M207 212h6M291 191h6M271 176h6M175 198h6M252 163h6M317 226h6M157 172h6M331 216h6M237 190h6M322 213h6M256 170h6M263 221h6M366 161h6M287 186h6M238 173h6M352 207h6M252 153h6M289 122h6M316 182h6M210 169h6M253 167h6M239 229h6" stroke="#000" stroke-width="6" opacity=".72" fill="none"/>
<path d="M291.9 292.9V332.4M281.6 317.0H335.7" stroke="#555" stroke-width=".7" fill="none"/>
<path d="M278.3 293.2l1.7 .9M278.3 302.8l1.7 .9M278.3 312.3l1.7 .9M278.3 321.9l1.7 .9M278.3 331.5l1.7 .9" stroke="#4a4a4a" stroke-width="1.3" stroke-linecap="round" fill="none"/>
<path d="M281.0 335.4l2.4 -.8M294.1 335.4l2.4 -.8M307.3 335.4l2.4 -.8M320.4 335.4l2.4 -.8M333.6 335.4l2.4 -.8" stroke="#888" stroke-width="1.1" stroke-linecap="round" fill="none"/>
<path d="M281.6 292.9V332.4H335.7" stroke="#2a2a2a" stroke-width=".9" fill="none"/>
<text x="328.9" y="306.0" font-size="8.3" font-weight="bold" text-anchor="end" >19</text>
<rect x="24.8" y="337.4" width="53.2" height="39.9" fill="#fff" stroke="#5a5a5a" stroke-width=".7"/>
<clipPath id="c6"><rect x="24.8" y="337.4" width="53.2" height="39.9"/></clipPath><g clip-path="url(#c6)">
<ellipse cx="47.1" cy="357.7" rx="13.5" ry="4.4" fill="url(#g)" opacity="0.92"/>
</g>
<path transform="translate(24.8 337.4) scale(.1)" d="M163 218h6M235 231h6M218 203h6M226 167h6M369 199h6M203 182h6M214 234h6M176 212h6M285 221h6M197 170h6M247 214h6M202 195h6M329 173h6M191 192h6M127 190h6M173 227h6M115 177h6M238 174h6M100 191h6M148 185h6M212 212h6M182 198h6M265 200h6M267 192h6M252 227h6M137 260h6M202 197h6M212 212h6M148 204h6M186 230h6M116 216h6M203 189h6M230 199h6M224 208h6M295 196h6M324 152h6M333 226h6M317 207h6M239 184h6M303 181h6M173 203h6M236 210h6M151 197h6M252 226h6M268 211h6M206 193h6M190 201h6M254 194h6M347 184h6M272 199h6M213 196h6M315 198h6M255 205h6M268 214h6M323 189h6M172 235h6M300 205h6M204 208h6M301 189h6M310 202h6M200 196h6M94 209h6M142 193h6M167 208h6M266 204h6M233 211h6M320 214h6M318 202h6M243 191h6M258 187h6M251 191h6M200 226h6M231 218h6M207 168h6M312 200h6M182 221h6M153 189h6M292 190h6M291 198h6M209 205h6M191 223h6M289 205h6M259 213h6M324 173h6M284 220h6M203 204h6M201 227h6M152 215h6M300 214h6M193 195h6M93 184h6M289 186h6M122 199h6M131 212h6M169 221h6M215 177h6M175 191h6M170 227h6M161 210h6M186 214h6M135 174h6M253 230h6M138 197h6M191 186h6M281 204h6M137 199h6M303 190h6M190 188h6M232 193h6M276 188h6M133 212h6M28 185h6M239 208h6M187 195h6M254 273h6M173 200h6M194 214h6M223 214h6M322 198h6M204 210h6M350 197h6M325 226h6M55 185h6M162 211h6M303 204h6M232 244h6M244 244h6M167 234h6M191 158h6M171 194h6M219 218h6M264 213h6M176 237h6M295 204h6M187 202h6M208 190h6M221 191h6M261 191h6M252 209h6M232 213h6M159 252h6M180 217h6M223 195h6M328 224h6M205 214h6M264 233h6M284 200h6M207 181h6M238 220h6M198 216h6M230 195h6M148 224h6M377 214h6M156 184h6M238 216h6M315 158h6M335 206h6M231 211h6M200 198h6M287 171h6M215 214h6M122 200h6M316 210h6M265 217h6M236 210h6M173 199h6M335 180h6M212 179h6M190 189h6M147 208h6M165 213h6M333 155h6M212 164h6M215 210h6M235 226h6M232 171h6M314 185h6M217 209h6M169 205h6M314 171h6M120 195h6M212 179h6M82 221h6M246 178h6M258 202h6M232 178h6M209 212h6M115 183h6M282 241h6M263 202h6M156 196h6M207 212h6M207 250h6M304 162h6M151 203h6M283 211h6M54 172h6M305 214h6M379 218h6M251 232h6M195 193h6M161 208h6M250 221h6M311 215h6M298 198h6M164 217h6M285 229h6M213 194h6M200 210h6M220 200h6M238 198h6M243 192h6M128 197h6M339 188h6M279 229h6M189 208h6M83 214h6M317 207h6M101 192h6M177 205h6M240 195h6M204 188h6M258 207h6M244 194h6M253 197h6M241 200h6M182 182h6M109 177h6M251 266h6M122 188h6M222 271h6M210 181h6M249 243h6M51 181h6M299 181h6M216 191h6M270 175h6M242 207h6M257 211h6M232 169h6M203 185h6M255 199h6M232 224h6M216 235h6M274 175h6M187 227h6M192 226h6M188 201h6M286 173h6M228 194h6M233 236h6M253 177h6M282 194h6M233 225h6M204 222h6M234 186h6M204 177h6M295 206h6M282 182h6M275 180h6M240 203h6M187 209h6M225 186h6M177 178h6M307 206h6M201 216h6M170 181h6M245 234h6M241 206h6M330 173h6M410 182h6M218 177h6M149 198h6M373 185h6M185 208h6M161 198h6M273 161h6M204 197h6M192 201h6M113 195h6M191 183h6M300 242h6M272 186h6M310 213h6M173 215h6M188 214h6M279 225h6M158 201h6M223 179h6M248 216h6M138 192h6M155 178h6M158 230h6M182 195h6M283 223h6M309 163h6M269 169h6M184 195h6M188 241h6M213 226h6M212 202h6M254 212h6M254 169h6M254 209h6M260 202h6M248 178h6M292 180h6M309 223h6M219 197h6M271 197h6M150 208h6M148 194h6M333 219h6M195 202h6M183 203h6M134 216h6M224 191h6M185 254h6M196 194h6M187 193h6M303 216h6M249 210h6M153 156h6M315 217h6M236 208h6M235 203h6M207 160h6M258 204h6M283 209h6M205 215h6M234 194h6M200 195h6M205 194h6M283 260h6M216 225h6M102 140h6M194 200h6M178 177h6M171 193h6M232 196h6M150 196h6M315 186h6M227 223h6M174 192h6M400 227h6M191 206h6M229 206h6M251 197h6M87 184h6M232 176h6M203 232h6M237 190h6M231 223h6M118 179h6M182 194h6M218 192h6M230 205h6M152 191h6M147 209h6M239 216h6M169 193h6M87 203h6M124 210h6M289 212h6M261 207h6M246 221h6M300 242h6M207 219h6M276 211h6M239 178h6M289 186h6M183 186h6M257 184h6M251 214h6M229 196h6M259 228h6M195 183h6M186 186h6M208 200h6M82 231h6M173 195h6M103 165h6M161 207h6M275 168h6M237 232h6M206 221h6M242 185h6M284 191h6M245 195h6M210 206h6M304 170h6M155 205h6M282 199h6M211 213h6M319 185h6M125 198h6M270 178h6M292 221h6M271 187h6M144 216h6M239 216h6M141 146h6M291 222h6M206 203h6M251 217h6M211 193h6M163 223h6M229 137h6M244 192h6M145 193h6M145 194h6M190 213h6M161 168h6M186 176h6M268 199h6M121 186h6M221 202h6M110 200h6M241 222h6M290 201h6M143 196h6M263 185h6M300 184h6M154 219h6M217 209h6M204 204h6M187 240h6M263 201h6M252 219h6M191 206h6M235 192h6M176 199h6M205 195h6M104 204h6M263 204h6M328 220h6M201 190h6M253 196h6M124 205h6M205 199h6M260 207h6M346 189h6M217 209h6M196 193h6M330 175h6M244 169h6M244 166h6M152 225h6M317 205h6M57 223h6M238 182h6M201 177h6M217 201h6M230 218h6M184 160h6M152 179h6M200 195h6M220 229h6M225 182h6M204 186h6M208 214h6M154 217h6M332 232h6M322 205h6M141 242h6M220 207h6M201 185h6M261 176h6M139 214h6M200 187h6M253 230h6M206 200h6M257 221h6M286 216h6M182 213h6M223 170h6M298 214h6M306 202h6M267 202h6M233 220h6M226 215h6M221 227h6M263 171h6M324 211h6M192 191h6M344 205h6M254 214h6M187 237h6M351 188h6M292 172h6M202 204h6M226 214h6M248 210h6M215 209h6M189 241h6M227 227h6M229 200h6M212 178h6M349 211h6M231 194h6M301 197h6M195 193h6M317 209h6M214 191h6M301 209h6M203 220h6M276 184h6M293 224h6M208 178h6M290 196h6M211 198h6M207 219h6M157 213h6M293 223h6M267 208h6M211 201h6M170 235h6M216 184h6M274 232h6M240 197h6M156 215h6M209 190h6M260 178h6M268 157h6M186 176h6M209 218h6M145 229h6M182 194h6M283 189h6M311 199h6M218 185h6M293 202h6M194 185h6M185 201h6M180 218h6M221 191h6M251 230h6M98 210h6M289 206h6M273 174h6M179 222h6M218 204h6M261 210h6M251 194h6M206 228h6M194 176h6M203 220h6M331 206h6M187 215h6M242 225h6M255 217h6M254 211h6M169 200h6M320 228h6M282 211h6M217 210h6M204 224h6M205 189h6M127 232h6M179 187h6M248 237h6M264 197h6M68 168h6M47 200h6M54 229h6M67 270h6M75 188h6M60 167h6M37 186h6M80 173h6M13 161h6M22 192h6M46 155h6M33 183h6M64 222h6M88 189h6M70 202h6M25 175h6M110 193h6M96 230h6M96 192h6M78 188h6M25 155h6M65 138h6M63 166h6M63 147h6M76 190h6M14 145h6M55 137h6M62 217h6M37 252h6M91 211h6M65 217h6M47 249h6M40 104h6M54 216h6M75 157h6M90 168h6M70 227h6M58 242h6M41 276h6M66 183h6M121 199h6M12 253h6M94 177h6M28 242h6M55 163h6M41 202h6M79 258h6M38 257h6M15 226h6M50 216h6M43 172h6M61 242h6M43 159h6M19 219h6M68 223h6M38 183h6M99 185h6M57 237h6M97 213h6M63 272h6M43 131h6M34 187h6M88 211h6M85 203h6M55 177h6M22 218h6M63 221h6M40 183h6M64 222h6M105 166h6M79 233h6M47 204h6M52 257h6M436 258h6M206 279h6M267 241h6M289 277h6M194 276h6M42 203h6M201 252h6M107 297h6M195 252h6M223 273h6M179 272h6M158 197h6M269 252h6M299 181h6M236 225h6M211 234h6M196 224h6M311 188h6M89 259h6M392 221h6M152 207h6M143 290h6M283 278h6M255 255h6M179 214h6M278 331h6M196 290h6M169 248h6M366 244h6M279 228h6M381 205h6M273 239h6M243 259h6M335 277h6M313 259h6M139 293h6M353 263h6M292 239h6M108 280h6M167 312h6M283 246h6M176 251h6M143 234h6M358 237h6M378 244h6M261 215h6M202 232h6M112 313h6M275 244h6M136 248h6M140 214h6M211 321h6M83 266h6M181 148h6M110 242h6M231 221h6M373 265h6M174 191h6M241 224h6M311 211h6M325 231h6M242 238h6M278 286h6M181 216h6M382 280h6M384 280h6M237 303h6M171 232h6M193 270h6M156 241h6M156 239h6M319 285h6M208 334h6M168 263h6M187 171h6M128 289h6M89 347h6M216 256h6M329 248h6M173 226h6M148 266h6M187 264h6M102 232h6M396 259h6M217 288h6M249 299h6M130 273h6M138 270h6M429 299h6M155 261h6M264 222h6M246 210h6M306 278h6M212 271h6M423 241h6M71 258h6M188 220h6M300 281h6M275 303h6M173 233h6M260 154h6M208 249h6M146 255h6M313 225h6M272 242h6M212 251h6M350 265h6M282 252h6M47 279h6M224 250h6M183 194h6" stroke="#000" stroke-width="6" opacity=".72" fill="none"/>
<path d="M37.6 337.4V377.3M24.8 362.7H78.0" stroke="#555" stroke-width=".7" fill="none"/>
<path d="M21.5 337.7l1.7 .9M21.5 347.4l1.7 .9M21.5 357.1l1.7 .9M21.5 366.7l1.7 .9M21.5 376.4l1.7 .9" stroke="#4a4a4a" stroke-width="1.3" stroke-linecap="round" fill="none"/>
<path d="M24.8 337.4V377.3H78.0" stroke="#2a2a2a" stroke-width=".9" fill="none"/>
<text x="73.0" y="349.3" font-size="8.3" font-weight="bold" text-anchor="end" >80</text>
<rect x="91.5" y="337.4" width="54.0" height="39.9" fill="#fff" stroke="#5a5a5a" stroke-width=".7"/>
<clipPath id="c7"><rect x="91.5" y="337.4" width="54.0" height="39.9"/></clipPath><g clip-path="url(#c7)">
<ellipse cx="116.9" cy="357.4" rx="5.9" ry="6.1" fill="url(#g)" opacity="0.92"/>
</g>
<path transform="translate(91.5 337.4) scale(.1)" d="M293 248h6M295 150h6M268 168h6M249 185h6M238 178h6M241 220h6M296 224h6M254 195h6M247 199h6M238 194h6M276 193h6M232 196h6M256 197h6M247 218h6M253 172h6M269 180h6M274 221h6M267 207h6M218 194h6M257 216h6M224 195h6M213 204h6M256 202h6M297 219h6M249 184h6M242 220h6M278 186h6M251 187h6M272 204h6M235 175h6M288 162h6M206 117h6M307 185h6M276 214h6M276 229h6M241 199h6M280 214h6M234 179h6M216 206h6M240 158h6M239 208h6M259 193h6M258 216h6M222 177h6M280 219h6M217 180h6M292 219h6M250 226h6M290 237h6M217 164h6M240 198h6M244 206h6M293 228h6M280 199h6M298 211h6M260 199h6M205 257h6M253 223h6M314 194h6M223 226h6M260 174h6M279 199h6M229 132h6M227 209h6M226 225h6M312 208h6M260 197h6M277 200h6M281 237h6M277 173h6M272 192h6M262 225h6M236 205h6M293 177h6M249 218h6M248 226h6M227 159h6M264 195h6M262 225h6M282 190h6M243 147h6M228 206h6M260 160h6M275 198h6M283 190h6M280 170h6M204 178h6M272 210h6M203 203h6M272 244h6M275 213h6M212 209h6M201 191h6M244 173h6M227 195h6M269 182h6M262 218h6M253 250h6M245 180h6M203 228h6M272 194h6M262 196h6M277 199h6M260 197h6M230 140h6M268 166h6M264 216h6M304 179h6M258 224h6M236 184h6M266 254h6M283 224h6M228 217h6M284 166h6M254 194h6M271 153h6M273 199h6M247 143h6M198 185h6M271 210h6M274 154h6M259 235h6M212 216h6M234 214h6M256 156h6M226 233h6M251 232h6M263 223h6M243 205h6M244 223h6M238 228h6M296 167h6M249 213h6M301 229h6M256 153h6M276 184h6M259 210h6M216 227h6M278 214h6M270 208h6M216 186h6M276 190h6M254 209h6M256 206h6M267 199h6M224 192h6M279 181h6M266 207h6M230 125h6M253 179h6M237 224h6M233 208h6M257 204h6M307 147h6M279 195h6M246 181h6M255 200h6M229 242h6M234 195h6M220 203h6M263 228h6M280 186h6M296 196h6M295 244h6M243 171h6M268 237h6M264 228h6M270 222h6M289 191h6M216 196h6M233 168h6M249 218h6M205 159h6M275 176h6M243 235h6M284 208h6M268 127h6M268 209h6M217 204h6M266 196h6M275 222h6M255 193h6M222 229h6M238 207h6M294 219h6M220 197h6M235 156h6M232 214h6M263 194h6M258 168h6M233 195h6M275 191h6M249 208h6M293 166h6M268 204h6M252 206h6M201 200h6M247 167h6M276 196h6M245 219h6M229 180h6M276 222h6M307 187h6M215 160h6M222 202h6M247 181h6M227 181h6M244 230h6M270 235h6M275 219h6M285 211h6M295 229h6M302 205h6M233 265h6M246 213h6M244 181h6M265 170h6M249 236h6M257 221h6M271 209h6M256 215h6M228 214h6M225 179h6M238 164h6M201 209h6M267 216h6M312 204h6M273 179h6M272 169h6M306 174h6M243 219h6M195 234h6M228 204h6M280 203h6M278 186h6M269 142h6M294 182h6M231 199h6M299 181h6M253 190h6M229 165h6M269 218h6M233 205h6M265 209h6M249 200h6M261 171h6M250 220h6M239 234h6M247 170h6M246 163h6M270 157h6M254 193h6M245 210h6M261 184h6M275 187h6M277 234h6M263 223h6M218 214h6M214 194h6M272 129h6M233 179h6M228 200h6M270 169h6M237 150h6M235 144h6M213 211h6M277 178h6M263 179h6M282 245h6M188 176h6M236 186h6M295 240h6M253 216h6M211 191h6M246 195h6M261 158h6M226 255h6M207 201h6M273 212h6M255 157h6M241 158h6M306 208h6M273 204h6M243 230h6M277 216h6M269 218h6M246 210h6M255 192h6M271 255h6M199 237h6M242 231h6M226 194h6M281 197h6M263 167h6M223 243h6M258 197h6M217 172h6M226 198h6M250 183h6M235 202h6M284 162h6M216 229h6M215 188h6M256 247h6M199 123h6M251 227h6M257 178h6M258 145h6M275 238h6M248 221h6M225 238h6M236 178h6M233 152h6M271 252h6M215 194h6M265 184h6M212 208h6M280 202h6M225 191h6M202 197h6M286 228h6M251 210h6M240 202h6M237 203h6M240 204h6M272 199h6M219 212h6M247 186h6M268 177h6M278 214h6M235 181h6M250 175h6M279 140h6M257 190h6M224 216h6M240 211h6M242 192h6M267 224h6M280 198h6M293 190h6M217 150h6M215 176h6M206 208h6M254 198h6M260 196h6M247 191h6M254 169h6M287 240h6M254 259h6M228 223h6M210 215h6M234 226h6M256 224h6M269 213h6M246 241h6M263 212h6M291 192h6M300 228h6M255 161h6M286 191h6M256 202h6M279 216h6M205 182h6M263 204h6M274 214h6M297 180h6M288 209h6M261 217h6M244 218h6M248 218h6M233 230h6M213 182h6M252 205h6M232 188h6M260 227h6M288 186h6M252 191h6M213 187h6M283 164h6M329 225h6M299 204h6M192 211h6M296 184h6M287 219h6M274 219h6M269 216h6M285 210h6M270 210h6M257 176h6M206 172h6M221 160h6M272 190h6M287 282h6M274 187h6M264 194h6M261 254h6M296 233h6M261 246h6M275 223h6M222 183h6M258 193h6M240 146h6M234 196h6M262 171h6M250 247h6M258 147h6M249 199h6M287 204h6M290 208h6M285 235h6M294 204h6M271 303h6M221 204h6M266 180h6M276 195h6M275 204h6M229 227h6M307 224h6M261 153h6M262 198h6M233 148h6M265 225h6M272 260h6M203 208h6M253 237h6M253 173h6M252 211h6M234 178h6M261 222h6M247 212h6M240 190h6M259 225h6M296 196h6M265 251h6M276 190h6M264 161h6M198 179h6M235 164h6M281 187h6M256 201h6M248 168h6M305 147h6M253 218h6M248 196h6M262 205h6M245 228h6M267 239h6M256 146h6M210 186h6M266 156h6M239 232h6M263 180h6M251 202h6M243 191h6M237 205h6M295 238h6M221 261h6M251 162h6M214 203h6M260 182h6M233 193h6M261 217h6M268 136h6M238 206h6M264 220h6M215 241h6M222 194h6M241 187h6M233 221h6M274 209h6M220 182h6M252 210h6M239 192h6M323 201h6M246 134h6M234 243h6M276 167h6M274 204h6M233 220h6M238 191h6M254 205h6M242 207h6M254 204h6M264 182h6M218 197h6M286 208h6M260 179h6M224 166h6M230 189h6M213 196h6M213 217h6M253 152h6M239 205h6M264 220h6M245 195h6M248 214h6M236 195h6M258 190h6M225 235h6M267 175h6M388 167h6M180 188h6M283 287h6M344 237h6M249 243h6M186 170h6M283 218h6M261 153h6M262 131h6M312 208h6M197 182h6M447 374h6M193 280h6M31 267h6M245 221h6M174 138h6M261 184h6M281 264h6M235 236h6M257 220h6M206 220h6M276 211h6M211 130h6M166 291h6M318 223h6M265 199h6M294 258h6M226 224h6M314 123h6M175 177h6M159 184h6M182 186h6M279 145h6M251 281h6M258 142h6M200 269h6M225 174h6M301 169h6M163 240h6M245 173h6M278 266h6M323 213h6M277 234h6M136 296h6M196 178h6M184 156h6M324 208h6M202 110h6M256 205h6M169 202h6M111 242h6M155 234h6M251 95h6M162 173h6M302 239h6M290 296h6M223 180h6M107 153h6M285 163h6M180 258h6M64 282h6M338 112h6M278 207h6M310 189h6M235 283h6M201 230h6M290 201h6M308 235h6M304 117h6M169 223h6M329 284h6M245 168h6M165 104h6M208 238h6M239 129h6M237 210h6M190 285h6M276 266h6M251 156h6M323 266h6M202 137h6M303 177h6M160 203h6M284 168h6M247 260h6M298 125h6M296 302h6M311 203h6M271 124h6M202 180h6M395 208h6M173 298h6M333 120h6M230 118h6M319 86h6M379 151h6M168 320h6M283 226h6M306 155h6M307 193h6M419 208h6M441 179h6M369 216h6M466 214h6M401 216h6M374 205h6M362 205h6M424 236h6M392 221h6M440 183h6M398 168h6M382 212h6M353 198h6M424 231h6M340 211h6M389 159h6M379 214h6M405 217h6M397 216h6M380 185h6M401 170h6M437 198h6M380 187h6M380 206h6M396 220h6M375 202h6M366 194h6M440 201h6M428 202h6M377 186h6M376 210h6M411 259h6M448 219h6M380 205h6M382 248h6M386 226h6M370 218h6M373 194h6M409 206h6M403 202h6M383 201h6M403 185h6M420 207h6M386 228h6M390 167h6M438 196h6M443 211h6M382 225h6M417 221h6M406 233h6" stroke="#000" stroke-width="6" opacity=".72" fill="none"/>
<path d="M106.6 337.4V377.3M91.5 365.9H145.5" stroke="#555" stroke-width=".7" fill="none"/>
<path d="M88.2 337.7l1.7 .9M88.2 347.4l1.7 .9M88.2 357.1l1.7 .9M88.2 366.7l1.7 .9M88.2 376.4l1.7 .9" stroke="#4a4a4a" stroke-width="1.3" stroke-linecap="round" fill="none"/>
<path d="M91.5 337.4V377.3H145.5" stroke="#2a2a2a" stroke-width=".9" fill="none"/>
<text x="140.5" y="349.3" font-size="8.3" font-weight="bold" text-anchor="end" >95</text>
<rect x="155.0" y="337.4" width="53.4" height="39.9" fill="#fff" stroke="#5a5a5a" stroke-width=".7"/>
<clipPath id="c8"><rect x="155.0" y="337.4" width="53.4" height="39.9"/></clipPath><g clip-path="url(#c8)">
<ellipse cx="160.3" cy="370.1" rx="6.5" ry="10.5" fill="url(#g)" opacity="0.92"/>
<ellipse cx="160.3" cy="354.2" rx="5.9" ry="12.3" fill="url(#g)" opacity="0.1"/>
<ellipse cx="190.8" cy="357.7" rx="11.2" ry="5.7" fill="url(#g)" opacity="0.45"/>
</g>
<path transform="translate(155.0 337.4) scale(.1)" d="M79 312h6M11 325h6M55 282h6M40 379h6M27 282h6M80 319h6M60 374h6M99 270h6M70 338h6M47 300h6M68 234h6M64 286h6M63 293h6M68 316h6M33 352h6M74 253h6M17 315h6M43 388h6M98 349h6M84 312h6M15 341h6M61 381h6M35 253h6M48 350h6M47 304h6M56 318h6M92 267h6M61 256h6M52 347h6M63 341h6M32 260h6M80 311h6M74 198h6M126 334h6M62 384h6M54 250h6M49 307h6M61 318h6M69 271h6M38 303h6M65 248h6M56 373h6M55 339h6M64 348h6M19 321h6M29 283h6M48 376h6M79 300h6M95 358h6M70 353h6M105 377h6M94 274h6M39 327h6M53 324h6M124 318h6M48 321h6M44 261h6M85 328h6M63 329h6M31 253h6M45 352h6M50 361h6M31 313h6M57 322h6M41 333h6M35 352h6M59 293h6M25 272h6M45 334h6M39 322h6M57 337h6M108 344h6M72 304h6M38 363h6M36 296h6M11 340h6M50 352h6M29 270h6M84 328h6M75 274h6M17 210h6M61 373h6M38 290h6M47 290h6M12 325h6M57 291h6M54 267h6M44 311h6M40 323h6M17 265h6M30 361h6M26 284h6M109 315h6M42 286h6M94 351h6M19 249h6M84 347h6M38 364h6M17 343h6M81 368h6M43 308h6M41 359h6M42 320h6M82 322h6M60 321h6M53 224h6M26 344h6M35 298h6M31 283h6M51 288h6M41 372h6M82 344h6M86 374h6M40 364h6M57 362h6M17 344h6M38 310h6M52 325h6M101 324h6M60 376h6M96 282h6M61 265h6M38 314h6M87 347h6M76 305h6M44 310h6M97 257h6M51 276h6M60 317h6M49 350h6M75 257h6M15 322h6M20 358h6M29 311h6M41 348h6M16 262h6M39 346h6M60 332h6M52 301h6M46 383h6M65 386h6M32 332h6M35 265h6M78 314h6M60 261h6M46 321h6M42 374h6M66 333h6M59 306h6M33 314h6M24 319h6M50 379h6M38 333h6M52 298h6M51 244h6M84 300h6M52 242h6M69 267h6M91 278h6M32 358h6M89 234h6M65 256h6M40 359h6M33 335h6M59 354h6M43 324h6M37 345h6M76 280h6M20 329h6M109 337h6M56 325h6M95 228h6M103 270h6M95 320h6M69 301h6M40 336h6M44 276h6M45 357h6M31 343h6M15 331h6M20 363h6M23 356h6M84 288h6M54 286h6M66 362h6M89 292h6M56 352h6M58 265h6M54 204h6M104 318h6M116 277h6M67 364h6M12 311h6M66 358h6M64 203h6M98 254h6M64 370h6M25 252h6M60 306h6M50 317h6M49 341h6M38 325h6M37 285h6M62 287h6M68 325h6M83 354h6M71 332h6M54 378h6M72 263h6M55 374h6M57 266h6M75 355h6M85 335h6M56 367h6M64 337h6M74 364h6M50 289h6M78 371h6M63 297h6M56 281h6M124 295h6M28 301h6M15 334h6M46 327h6M54 304h6M56 323h6M32 312h6M37 265h6M52 238h6M67 325h6M57 381h6M79 306h6M62 383h6M48 344h6M64 277h6M60 308h6M45 347h6M71 284h6M45 317h6M26 344h6M47 293h6M79 322h6M20 322h6M47 340h6M116 353h6M93 318h6M66 350h6M50 338h6M40 359h6M49 344h6M57 250h6M65 285h6M58 307h6M45 254h6M16 300h6M23 338h6M13 337h6M68 291h6M26 310h6M113 331h6M70 336h6M52 276h6M43 379h6M91 298h6M53 348h6M48 241h6M61 281h6M44 297h6M95 234h6M34 363h6M96 292h6M69 317h6M102 287h6M70 302h6M50 305h6M49 329h6M35 340h6M16 365h6M26 238h6M76 310h6M38 370h6M64 259h6M38 295h6M65 352h6M57 221h6M38 325h6M32 317h6M28 273h6M87 234h6M81 272h6M45 231h6M71 279h6M123 282h6M59 358h6M25 287h6M22 353h6M61 375h6M12 282h6M49 305h6M61 380h6M56 289h6M51 292h6M47 323h6M17 338h6M73 359h6M20 332h6M78 304h6M72 303h6M52 299h6M11 287h6M57 313h6M52 299h6M77 318h6M64 304h6M89 322h6M65 252h6M34 342h6M15 256h6M49 251h6M83 347h6M44 384h6M33 270h6M78 327h6M46 376h6M49 357h6M59 382h6M68 304h6M95 310h6M101 266h6M54 220h6M42 349h6M62 343h6M84 254h6M72 333h6M89 328h6M70 324h6M25 303h6M48 263h6M51 304h6M104 315h6M56 331h6M72 250h6M29 284h6M86 341h6M30 362h6M44 342h6M26 322h6M113 230h6M39 340h6M47 348h6M85 273h6M108 200h6M68 374h6M34 285h6M21 317h6M21 360h6M33 351h6M72 371h6M80 329h6M98 310h6M40 326h6M60 335h6M46 375h6M113 308h6M12 305h6M14 266h6M24 377h6M57 360h6M50 375h6M78 337h6M12 274h6M60 277h6M48 319h6M92 294h6M57 305h6M32 347h6M80 259h6M57 351h6M24 308h6M62 323h6M92 285h6M46 352h6M51 315h6M50 346h6M74 277h6M28 273h6M65 239h6M122 301h6M53 350h6M48 315h6M111 233h6M60 292h6M43 324h6M59 353h6M36 362h6M40 363h6M91 356h6M13 330h6M59 266h6M25 346h6M44 320h6M41 327h6M98 285h6M68 350h6M34 275h6M28 354h6M58 375h6M63 332h6M54 338h6M54 358h6M29 377h6M99 323h6M69 271h6M56 259h6M81 329h6M83 380h6M32 365h6M50 353h6M35 357h6M49 330h6M67 319h6M111 222h6M73 328h6M65 256h6M70 352h6M99 366h6M36 292h6M21 304h6M50 386h6M100 330h6M70 319h6M17 352h6M33 251h6M15 324h6M67 308h6M26 327h6M100 358h6M59 354h6M46 286h6M25 330h6M45 327h6M29 290h6M20 276h6M46 360h6M50 327h6M72 381h6M45 385h6M55 284h6M68 373h6M60 326h6M46 358h6M17 303h6M59 385h6M53 284h6M130 342h6M32 299h6M56 264h6M78 331h6M41 337h6M20 336h6M63 383h6M110 298h6M64 290h6M57 381h6M71 313h6M104 369h6M88 331h6M91 320h6M78 329h6M53 255h6M81 354h6M35 330h6M70 357h6M86 334h6M59 340h6M34 302h6M46 253h6M83 272h6M96 371h6M111 299h6M45 306h6M76 285h6M44 218h6M54 337h6M110 288h6M81 354h6M78 275h6M81 335h6M33 308h6M97 249h6M74 325h6M37 241h6M68 298h6M42 342h6M50 380h6M25 252h6M79 311h6M14 378h6M68 246h6M56 263h6M97 360h6M10 366h6M29 303h6M39 378h6M68 355h6M40 303h6M84 298h6M45 354h6M48 374h6M69 358h6M120 301h6M114 266h6M30 208h6M34 289h6M74 387h6M121 302h6M84 318h6M43 234h6M78 282h6M72 295h6M67 281h6M64 261h6M30 334h6M77 267h6M27 249h6M104 341h6M63 306h6M109 355h6M50 386h6M70 313h6M43 327h6M94 258h6M70 254h6M77 335h6M24 250h6M16 344h6M49 358h6M79 283h6M42 363h6M34 376h6M71 371h6M36 365h6M47 338h6M72 300h6M52 211h6M33 357h6M22 224h6M15 150h6M71 197h6M16 190h6M21 229h6M63 131h6M41 163h6M38 233h6M61 135h6M65 89h6M57 149h6M38 164h6M59 84h6M63 335h6M74 133h6M63 261h6M25 261h6M44 275h6M31 226h6M38 238h6M77 186h6M31 227h6M63 105h6M68 157h6M50 111h6M59 216h6M31 213h6M60 113h6M57 92h6M102 190h6M81 114h6M88 158h6M83 190h6M62 227h6M38 144h6M82 193h6M39 105h6M77 159h6M20 190h6M65 297h6M61 24h6M29 210h6M41 164h6M51 249h6M62 158h6M37 224h6M35 191h6M64 210h6M73 183h6M104 212h6M34 115h6M35 243h6M25 256h6M64 133h6M28 161h6M72 163h6M71 177h6M88 139h6M50 103h6M45 110h6M15 154h6M70 39h6M21 87h6M62 199h6M61 156h6M34 178h6M31 154h6M63 153h6M83 43h6M13 224h6M39 140h6M39 163h6M49 188h6M76 272h6M31 179h6M28 171h6M60 165h6M59 204h6M26 164h6M79 220h6M78 120h6M36 223h6M53 184h6M44 219h6M57 111h6M62 147h6M46 199h6M57 134h6M24 142h6M50 99h6M37 299h6M37 171h6M22 149h6M59 176h6M10 169h6M28 229h6M50 257h6M62 101h6M77 139h6M50 172h6M20 233h6M57 108h6M19 193h6M83 190h6M61 143h6M80 198h6M33 132h6M128 160h6M64 210h6M48 288h6M28 119h6M94 219h6M72 161h6M52 175h6M64 133h6M79 266h6M40 113h6M56 307h6M29 243h6M36 124h6M80 157h6M52 207h6M81 181h6M92 129h6M40 206h6M69 69h6M45 206h6M49 269h6M13 179h6M32 77h6M47 164h6M43 132h6M75 109h6M37 88h6M82 84h6M96 115h6M52 259h6M26 242h6M20 141h6M67 187h6M61 185h6M92 77h6M36 217h6M16 129h6M114 244h6M66 172h6M49 118h6M31 112h6M21 175h6M64 115h6M56 93h6M62 150h6M51 179h6M86 180h6M37 177h6M63 198h6M79 122h6M23 203h6M25 193h6M122 238h6M16 121h6M63 152h6M71 182h6M61 199h6M14 233h6M17 118h6M63 147h6M23 45h6M67 103h6M44 182h6M354 214h6M437 222h6M309 202h6M346 181h6M389 193h6M369 220h6M458 188h6M392 260h6M434 211h6M322 208h6M327 193h6M275 196h6M261 229h6M383 193h6M359 207h6M345 211h6M349 215h6M318 205h6M438 182h6M319 228h6M373 208h6M366 193h6M332 217h6M366 221h6M379 262h6M362 241h6M365 263h6M405 184h6M434 189h6M406 184h6M375 208h6M427 147h6M265 230h6M394 190h6M362 158h6M339 187h6M400 210h6M350 234h6M326 224h6M346 216h6M343 241h6M337 257h6M396 182h6M336 239h6M429 172h6M366 220h6M473 222h6M348 228h6M362 182h6M356 198h6M347 206h6M375 184h6M390 163h6M390 217h6M378 165h6M334 210h6M380 224h6M284 205h6M410 174h6M299 192h6M345 197h6M418 212h6M265 225h6M362 227h6M356 241h6M365 192h6M300 229h6M351 159h6M399 239h6M256 219h6M390 250h6M417 185h6M380 224h6M286 242h6M382 227h6M315 226h6M356 197h6M359 214h6M284 205h6M376 162h6M440 272h6M390 205h6M307 176h6M298 228h6M315 210h6M336 228h6M420 229h6M390 233h6M441 182h6M371 188h6M360 199h6M363 224h6M295 137h6M371 233h6M339 243h6M467 207h6M347 218h6M395 166h6M382 151h6M306 211h6M373 174h6M360 239h6M278 220h6M420 170h6M416 217h6M343 206h6M356 206h6M348 186h6M402 250h6M348 242h6M320 172h6M389 211h6M380 180h6M338 232h6M435 212h6M376 136h6M326 239h6M450 183h6M234 218h6M294 194h6M328 195h6M311 222h6M372 171h6M281 260h6M385 211h6M275 262h6M307 208h6M374 186h6M364 193h6M257 169h6M327 191h6M378 249h6M346 263h6M336 208h6M346 161h6M354 200h6M317 225h6M377 197h6M314 213h6M318 183h6M333 230h6M343 201h6M341 221h6M349 227h6M349 227h6M342 186h6M377 200h6M335 243h6M333 185h6M340 243h6M292 236h6M382 195h6M340 186h6M258 181h6M289 163h6M335 221h6M311 197h6M319 200h6M375 237h6M385 215h6M423 224h6M380 220h6M396 178h6M313 208h6M270 198h6M340 214h6M389 240h6M241 211h6M372 243h6M326 216h6M348 181h6M367 231h6M338 208h6M408 201h6M340 213h6M377 216h6M415 217h6M297 163h6M351 250h6M357 194h6M368 219h6M415 172h6M392 210h6M395 234h6M247 230h6M379 185h6M349 233h6M282 229h6M393 252h6M314 189h6M403 198h6M375 137h6M470 157h6M275 219h6M379 184h6M248 220h6M366 181h6M361 190h6M305 224h6M355 207h6M295 187h6M341 190h6M371 206h6M344 201h6M374 232h6M302 231h6M398 226h6M328 211h6M456 170h6M395 199h6M435 209h6M395 189h6M330 248h6M293 192h6M342 172h6M385 173h6M357 199h6M248 209h6M280 206h6M242 191h6M394 213h6M409 248h6M390 200h6M349 222h6M294 178h6M354 252h6M301 212h6M320 224h6M371 205h6M398 199h6M274 261h6M349 214h6M392 184h6M332 185h6M382 216h6M364 171h6M315 167h6M288 186h6M369 218h6M267 222h6M372 247h6M396 166h6M378 212h6M370 186h6M424 208h6M326 157h6M342 169h6M283 249h6M351 231h6M408 225h6M334 174h6M346 209h6M347 197h6M361 167h6M406 174h6M360 182h6M420 190h6M310 195h6M397 172h6M291 191h6M391 127h6M399 265h6M346 230h6M348 156h6M334 222h6M300 197h6M322 216h6M475 207h6M291 250h6M340 194h6M379 226h6M365 215h6M363 173h6M392 229h6M316 158h6M325 210h6M423 211h6M196 189h6M358 212h6M280 196h6M361 224h6M394 249h6M321 194h6M333 218h6M452 210h6M362 181h6M292 253h6M350 243h6M395 192h6M367 181h6M385 201h6M393 239h6M326 227h6M376 191h6M368 238h6M363 231h6M372 239h6M348 196h6M386 144h6M329 246h6M318 255h6M434 192h6M318 216h6M399 252h6M430 186h6M397 191h6M408 218h6M425 203h6M395 171h6M307 219h6M360 229h6M468 188h6M297 177h6M325 236h6M374 197h6M388 201h6M368 205h6M289 227h6M364 265h6M360 189h6M364 185h6M353 195h6M372 180h6M350 194h6M307 203h6M390 225h6M371 202h6M402 197h6M389 158h6M296 185h6M411 198h6M378 175h6M281 281h6M437 252h6M356 187h6M368 198h6M333 138h6M367 145h6M330 163h6M454 170h6M336 215h6M340 211h6M402 187h6M381 201h6M291 212h6M303 233h6M356 209h6M405 182h6M316 243h6M392 216h6M257 205h6M309 188h6M275 160h6M334 215h6M331 200h6M360 241h6M327 208h6M493 204h6M397 172h6M303 192h6M509 187h6M427 191h6M294 154h6M364 233h6M316 193h6M301 185h6M407 190h6M304 221h6M370 203h6M460 212h6M415 171h6M353 239h6M394 229h6M282 197h6M441 244h6M201 153h6M426 226h6M424 128h6M361 226h6M419 178h6M410 226h6M330 247h6M421 229h6M333 212h6M355 249h6M482 181h6M459 216h6M322 185h6M435 213h6M323 199h6M337 201h6M449 186h6M341 122h6M383 230h6M463 187h6M342 193h6M293 204h6M317 198h6M365 225h6M360 269h6M374 218h6M384 201h6M407 208h6M288 190h6M434 160h6M448 207h6M371 238h6M369 191h6M244 187h6M296 223h6M362 178h6M418 228h6M472 211h6M293 207h6M397 228h6M289 217h6M392 215h6M273 192h6M351 198h6M405 193h6M262 146h6M382 182h6M355 234h6M330 203h6M282 171h6M321 304h6M206 230h6M297 217h6M273 219h6M322 213h6M222 167h6M195 160h6M254 294h6M147 194h6M195 265h6M238 223h6M178 226h6M234 197h6M398 267h6M252 257h6M480 273h6M217 238h6M373 265h6M241 245h6M162 223h6M228 227h6M393 242h6M375 240h6M127 305h6M216 234h6M369 315h6M281 308h6M221 275h6M182 292h6M214 275h6M155 317h6M418 226h6M273 188h6M248 162h6M334 236h6M375 240h6M245 195h6M326 233h6M155 160h6M356 234h6M260 210h6M218 239h6M285 176h6M497 289h6M89 243h6M372 205h6M140 268h6M209 239h6M421 240h6M391 198h6M97 219h6M230 276h6M308 134h6M163 216h6M199 205h6M236 248h6M127 190h6M182 303h6M251 160h6M312 289h6M116 174h6M308 242h6M323 325h6M329 292h6M221 314h6M202 257h6M79 218h6M340 190h6M223 124h6M234 169h6M272 214h6M203 221h6M228 239h6M242 300h6M365 106h6M392 228h6M300 191h6M323 270h6M214 179h6M315 263h6M183 125h6M163 260h6M385 187h6M214 181h6M299 197h6M423 270h6M249 217h6M361 218h6M231 244h6M365 314h6M235 174h6M183 230h6M326 100h6M327 260h6M286 160h6M276 211h6M180 271h6M383 249h6M321 291h6M271 216h6M405 206h6M240 256h6M229 188h6M369 238h6M204 208h6M322 282h6M287 299h6M267 322h6M352 178h6M260 256h6M267 186h6M312 235h6" stroke="#000" stroke-width="6" opacity=".72" fill="none"/>
<path d="M174.2 337.4V377.3M155.0 360.5H208.4" stroke="#555" stroke-width=".7" fill="none"/>
<path d="M151.7 337.7l1.7 .9M151.7 347.4l1.7 .9M151.7 357.1l1.7 .9M151.7 366.7l1.7 .9M151.7 376.4l1.7 .9" stroke="#4a4a4a" stroke-width="1.3" stroke-linecap="round" fill="none"/>
<path d="M155.0 337.4V377.3H208.4" stroke="#2a2a2a" stroke-width=".9" fill="none"/>
<text x="203.4" y="349.3" font-size="8.3" font-weight="bold" text-anchor="end" >17</text>
<rect x="217.3" y="337.4" width="55.4" height="39.9" fill="#fff" stroke="#5a5a5a" stroke-width=".7"/>
<clipPath id="c9"><rect x="217.3" y="337.4" width="55.4" height="39.9"/></clipPath><g clip-path="url(#c9)">
<ellipse cx="225.1" cy="351.0" rx="12.2" ry="7.0" fill="url(#g)" opacity="0.92"/>
<ellipse cx="250.0" cy="356.6" rx="10.4" ry="4.6" fill="url(#g)" opacity="0.52"/>
</g>
<path transform="translate(217.3 337.4) scale(.1)" d="M57 165h6M76 141h6M132 128h6M79 132h6M129 114h6M100 111h6M83 170h6M35 150h6M83 142h6M108 137h6M106 193h6M41 100h6M120 147h6M189 115h6M119 117h6M52 116h6M34 104h6M61 130h6M82 161h6M30 132h6M31 162h6M29 123h6M36 169h6M13 98h6M58 123h6M29 171h6M49 68h6M68 92h6M43 119h6M30 121h6M57 155h6M217 112h6M54 171h6M172 160h6M65 197h6M84 173h6M50 95h6M152 106h6M22 139h6M29 156h6M83 128h6M49 182h6M154 171h6M85 190h6M108 113h6M145 120h6M169 94h6M114 131h6M57 126h6M43 130h6M34 200h6M57 142h6M61 176h6M110 167h6M71 155h6M43 140h6M26 123h6M98 119h6M33 130h6M96 148h6M15 121h6M16 103h6M208 174h6M117 126h6M125 185h6M145 158h6M25 212h6M120 163h6M97 147h6M57 80h6M175 219h6M104 157h6M77 160h6M70 132h6M112 80h6M154 123h6M108 155h6M165 189h6M87 82h6M112 131h6M35 162h6M27 111h6M77 163h6M67 124h6M88 123h6M104 171h6M84 150h6M39 178h6M101 121h6M72 109h6M53 146h6M114 119h6M16 158h6M100 235h6M178 139h6M90 147h6M85 102h6M59 196h6M46 122h6M11 115h6M141 147h6M48 123h6M120 117h6M32 125h6M31 159h6M75 168h6M46 215h6M106 128h6M92 68h6M13 69h6M61 205h6M94 88h6M110 128h6M155 143h6M186 162h6M188 50h6M117 160h6M157 154h6M97 145h6M86 153h6M163 83h6M51 88h6M43 144h6M85 148h6M115 149h6M57 131h6M17 121h6M70 147h6M71 85h6M66 154h6M80 122h6M26 142h6M83 145h6M54 175h6M84 162h6M59 149h6M65 172h6M42 152h6M92 84h6M138 116h6M12 114h6M121 122h6M117 105h6M88 80h6M58 177h6M45 141h6M62 150h6M53 102h6M55 125h6M17 130h6M21 119h6M91 142h6M61 148h6M167 146h6M80 132h6M92 155h6M125 150h6M40 131h6M32 178h6M36 83h6M61 108h6M84 140h6M27 86h6M55 94h6M63 141h6M51 140h6M51 187h6M134 96h6M106 128h6M73 90h6M50 130h6M48 63h6M81 124h6M65 99h6M24 144h6M42 157h6M96 151h6M28 105h6M10 138h6M57 173h6M54 176h6M57 167h6M125 144h6M80 125h6M59 157h6M158 113h6M137 120h6M55 124h6M70 110h6M39 127h6M22 133h6M126 108h6M82 111h6M56 166h6M108 138h6M36 177h6M110 147h6M104 128h6M110 171h6M123 102h6M20 146h6M104 134h6M65 123h6M126 67h6M76 116h6M102 124h6M163 140h6M42 83h6M56 133h6M155 146h6M80 106h6M82 104h6M47 92h6M132 172h6M95 83h6M26 104h6M84 241h6M119 131h6M26 91h6M32 140h6M58 150h6M99 99h6M115 135h6M157 130h6M52 131h6M136 150h6M134 167h6M89 207h6M66 127h6M131 98h6M88 165h6M24 75h6M204 106h6M155 158h6M108 112h6M107 111h6M102 110h6M94 144h6M43 163h6M104 129h6M70 120h6M100 141h6M146 104h6M59 125h6M163 145h6M139 153h6M87 146h6M131 148h6M108 132h6M33 145h6M51 152h6M144 182h6M94 101h6M52 97h6M95 135h6M82 76h6M149 150h6M77 123h6M51 108h6M128 71h6M83 159h6M117 87h6M151 129h6M60 145h6M132 138h6M56 141h6M95 198h6M76 105h6M178 181h6M155 104h6M43 91h6M68 176h6M126 136h6M88 149h6M68 101h6M37 186h6M24 98h6M106 124h6M57 139h6M68 82h6M127 141h6M169 161h6M44 120h6M37 65h6M116 113h6M130 140h6M70 185h6M25 189h6M56 202h6M139 118h6M172 148h6M95 122h6M74 121h6M58 159h6M121 173h6M142 132h6M118 126h6M108 154h6M98 109h6M13 188h6M34 115h6M98 122h6M100 177h6M110 91h6M117 181h6M79 149h6M61 165h6M49 135h6M41 112h6M140 133h6M126 85h6M13 106h6M181 171h6M199 121h6M111 146h6M63 153h6M76 150h6M23 187h6M126 104h6M105 117h6M16 106h6M240 137h6M73 174h6M93 100h6M195 204h6M121 108h6M74 138h6M17 217h6M78 117h6M63 124h6M141 142h6M102 132h6M115 102h6M16 116h6M56 116h6M84 172h6M28 86h6M72 156h6M156 164h6M85 136h6M120 132h6M61 148h6M102 151h6M101 87h6M47 83h6M121 215h6M34 130h6M91 112h6M170 141h6M195 206h6M104 111h6M150 126h6M34 128h6M139 109h6M65 162h6M62 162h6M144 119h6M13 97h6M147 152h6M82 122h6M136 120h6M226 145h6M91 134h6M67 172h6M51 183h6M36 163h6M24 127h6M118 110h6M106 134h6M148 162h6M91 129h6M28 178h6M64 95h6M34 76h6M30 120h6M90 163h6M122 78h6M51 153h6M95 134h6M34 156h6M72 127h6M71 127h6M93 168h6M81 114h6M70 129h6M103 158h6M166 162h6M204 148h6M46 177h6M110 109h6M24 180h6M118 69h6M36 152h6M29 82h6M48 117h6M91 81h6M90 123h6M52 147h6M161 147h6M127 141h6M44 140h6M121 147h6M39 97h6M35 125h6M32 138h6M50 138h6M74 133h6M97 118h6M121 141h6M73 135h6M134 133h6M161 138h6M89 134h6M92 149h6M41 159h6M216 151h6M82 109h6M34 109h6M90 113h6M163 121h6M27 106h6M70 130h6M126 112h6M94 164h6M60 80h6M88 166h6M97 134h6M65 97h6M57 139h6M78 106h6M207 173h6M130 154h6M54 98h6M80 185h6M101 117h6M124 113h6M60 150h6M84 143h6M87 166h6M29 72h6M25 59h6M182 114h6M73 144h6M33 119h6M89 134h6M120 126h6M38 89h6M92 121h6M142 50h6M111 97h6M57 127h6M34 125h6M91 208h6M75 156h6M120 105h6M102 121h6M124 116h6M134 106h6M49 160h6M131 161h6M185 166h6M75 163h6M30 159h6M97 129h6M35 167h6M51 108h6M41 143h6M183 188h6M65 121h6M109 108h6M53 181h6M94 89h6M91 149h6M78 91h6M119 190h6M111 133h6M96 170h6M46 174h6M89 140h6M99 144h6M24 183h6M48 126h6M106 131h6M70 122h6M109 114h6M31 144h6M154 152h6M38 93h6M121 150h6M72 154h6M108 150h6M148 86h6M39 117h6M20 196h6M95 147h6M119 127h6M121 128h6M117 152h6M147 87h6M25 110h6M30 146h6M128 123h6M134 162h6M43 155h6M154 119h6M91 154h6M104 133h6M75 109h6M183 183h6M68 108h6M99 184h6M78 108h6M127 142h6M32 127h6M84 99h6M91 174h6M134 173h6M117 132h6M110 173h6M78 151h6M42 135h6M49 101h6M98 204h6M87 111h6M85 161h6M108 152h6M176 141h6M144 117h6M27 118h6M52 163h6M117 135h6M27 139h6M53 123h6M108 228h6M223 136h6M198 122h6M229 133h6M120 189h6M130 190h6M87 87h6M85 107h6M122 68h6M23 98h6M82 167h6M60 94h6M49 130h6M140 139h6M152 45h6M174 204h6M48 220h6M104 142h6M93 129h6M30 103h6M51 81h6M70 150h6M49 177h6M88 164h6M28 141h6M90 202h6M94 123h6M134 138h6M77 139h6M130 186h6M51 135h6M207 128h6M50 106h6M199 199h6M133 143h6M37 181h6M63 142h6M67 140h6M12 119h6M66 132h6M53 168h6M63 107h6M153 131h6M137 152h6M62 166h6M54 59h6M53 128h6M146 154h6M88 177h6M82 174h6M125 202h6M135 117h6M111 171h6M113 205h6M340 182h6M368 215h6M325 202h6M333 196h6M343 183h6M361 198h6M408 197h6M331 166h6M432 186h6M302 185h6M326 189h6M406 181h6M315 182h6M355 157h6M373 183h6M259 221h6M264 205h6M327 177h6M248 176h6M362 189h6M299 211h6M328 192h6M285 162h6M304 197h6M307 197h6M314 186h6M324 198h6M221 190h6M317 181h6M372 214h6M380 206h6M347 193h6M362 177h6M320 197h6M319 165h6M322 182h6M296 203h6M377 192h6M272 187h6M317 169h6M297 193h6M298 199h6M264 204h6M293 193h6M327 180h6M375 154h6M335 203h6M314 189h6M272 189h6M334 178h6M326 183h6M277 189h6M289 208h6M289 219h6M325 190h6M291 199h6M277 158h6M346 147h6M379 179h6M400 195h6M403 160h6M305 195h6M299 191h6M318 204h6M393 146h6M355 166h6M403 160h6M286 200h6M317 204h6M343 174h6M248 214h6M315 188h6M311 185h6M291 191h6M337 165h6M251 201h6M367 179h6M318 180h6M344 188h6M299 174h6M346 197h6M305 198h6M178 181h6M334 149h6M298 195h6M385 198h6M267 208h6M312 207h6M259 157h6M250 202h6M382 195h6M334 188h6M335 169h6M384 206h6M371 188h6M366 210h6M445 212h6M290 174h6M367 200h6M352 191h6M287 193h6M256 196h6M434 205h6M285 172h6M440 203h6M301 202h6M310 168h6M332 200h6M387 164h6M396 185h6M231 210h6M373 201h6M365 172h6M350 157h6M294 241h6M405 198h6M350 192h6M356 194h6M281 183h6M234 172h6M318 198h6M433 157h6M427 181h6M305 188h6M431 168h6M308 201h6M372 198h6M331 210h6M279 222h6M302 198h6M281 178h6M374 202h6M317 206h6M481 140h6M227 194h6M244 211h6M286 190h6M286 232h6M399 156h6M358 184h6M397 197h6M290 181h6M328 224h6M331 179h6M307 207h6M311 226h6M369 193h6M331 183h6M212 214h6M399 186h6M340 163h6M316 194h6M322 191h6M374 205h6M364 178h6M301 190h6M249 161h6M342 190h6M330 214h6M223 198h6M315 164h6M358 219h6M255 191h6M373 191h6M304 210h6M243 189h6M295 189h6M265 194h6M386 199h6M264 180h6M289 160h6M362 200h6M317 220h6M361 178h6M328 187h6M326 217h6M387 171h6M421 158h6M313 240h6M359 214h6M333 201h6M295 220h6M317 180h6M254 235h6M254 170h6M350 191h6M410 203h6M342 174h6M353 161h6M290 218h6M340 167h6M296 188h6M342 194h6M366 130h6M361 152h6M304 193h6M377 178h6M262 174h6M339 239h6M267 180h6M292 213h6M354 187h6M341 223h6M313 168h6M328 165h6M337 208h6M309 209h6M385 228h6M309 202h6M366 207h6M373 200h6M360 209h6M350 202h6M340 189h6M239 189h6M328 180h6M305 216h6M314 145h6M301 188h6M386 197h6M352 180h6M299 159h6M357 191h6M293 192h6M380 210h6M365 214h6M339 191h6M327 201h6M245 197h6M329 173h6M300 214h6M308 189h6M398 171h6M325 182h6M302 187h6M353 185h6M372 206h6M275 192h6M318 165h6M242 211h6M341 216h6M402 206h6M345 217h6M321 183h6M374 204h6M302 182h6M266 233h6M309 181h6M298 180h6M333 192h6M365 140h6M333 225h6M329 179h6M422 180h6M360 196h6M320 171h6M334 195h6M414 160h6M253 202h6M255 134h6M311 214h6M240 160h6M398 173h6M284 187h6M403 187h6M364 187h6M276 196h6M240 211h6M250 193h6M224 189h6M346 176h6M419 191h6M348 161h6M302 195h6M362 203h6M260 161h6M273 213h6M243 166h6M332 190h6M323 174h6M343 188h6M317 195h6M315 187h6M380 205h6M330 193h6M391 164h6M235 191h6M245 169h6M337 195h6M310 175h6M257 176h6M287 190h6M370 185h6M272 199h6M384 197h6M305 183h6M311 169h6M370 184h6M418 215h6M303 242h6M303 175h6M242 191h6M345 183h6M321 200h6M289 189h6M313 221h6M358 188h6M277 188h6M288 183h6M343 207h6M374 179h6M335 190h6M366 235h6M374 209h6M338 201h6M232 197h6M319 190h6M360 254h6M339 166h6M308 207h6M360 194h6M352 175h6M397 149h6M310 175h6M304 195h6M331 210h6M416 201h6M282 191h6M290 175h6M307 210h6M289 197h6M291 208h6M381 162h6M361 173h6M342 189h6M366 166h6M416 198h6M296 216h6M390 201h6M303 175h6M284 223h6M329 190h6M309 215h6M309 208h6M242 175h6M342 172h6M417 150h6M345 201h6M347 190h6M321 262h6M339 178h6M199 228h6M325 227h6M325 213h6M390 180h6M218 214h6M417 161h6M303 189h6M314 203h6M321 203h6M288 159h6M412 196h6M345 168h6M348 190h6M349 193h6M376 219h6M310 183h6M361 162h6M293 184h6M228 229h6M314 187h6M271 202h6M305 167h6M342 222h6M256 190h6M429 187h6M293 223h6M337 210h6M404 204h6M342 230h6M256 168h6M316 179h6M319 153h6M250 205h6M317 199h6M308 191h6M255 226h6M264 197h6M123 275h6M126 256h6M186 173h6M236 281h6M74 250h6M157 247h6M170 188h6M171 278h6M202 279h6M112 265h6M256 262h6M186 262h6M216 199h6M160 298h6M81 285h6M123 239h6M60 217h6M276 191h6M179 196h6M356 291h6M91 206h6M140 275h6M322 326h6M73 270h6M253 226h6M121 302h6M36 261h6M159 245h6M168 183h6M243 238h6M350 351h6M122 349h6M299 221h6M141 315h6M97 243h6M56 226h6M97 271h6M190 242h6M37 270h6M223 256h6M295 238h6M245 271h6M290 334h6M56 175h6M263 274h6M198 238h6M95 315h6M210 234h6M170 273h6M43 230h6M213 266h6M36 273h6M352 288h6M42 238h6M108 223h6M88 232h6M157 201h6M252 274h6M349 298h6M256 283h6M155 209h6M228 264h6M105 278h6M197 229h6M302 237h6M178 309h6M117 245h6M209 244h6M119 207h6M187 242h6M243 306h6M164 295h6M100 333h6M114 253h6M131 236h6M240 259h6M83 295h6M170 286h6M186 238h6M83 315h6M146 327h6M381 313h6M389 217h6M119 211h6M40 200h6M249 223h6M135 286h6M128 331h6M277 293h6M322 284h6M184 310h6M264 197h6M270 307h6M181 325h6M56 269h6M101 221h6M192 193h6M164 292h6M96 210h6M219 302h6M252 235h6M128 323h6M248 275h6M188 253h6M223 292h6M170 272h6M37 254h6M315 270h6M39 239h6M175 326h6M366 258h6M152 266h6M63 321h6M55 294h6M124 212h6M197 337h6M53 270h6M102 309h6M29 202h6M130 201h6M258 192h6M172 237h6M258 236h6M148 338h6M226 318h6M299 283h6M195 183h6M193 311h6M94 245h6M360 209h6M149 255h6M101 329h6" stroke="#000" stroke-width="6" opacity=".72" fill="none"/>
<path d="M237.2 337.4V377.3M217.3 361.7H272.7" stroke="#555" stroke-width=".7" fill="none"/>
<path d="M214.0 337.7l1.7 .9M214.0 347.4l1.7 .9M214.0 357.1l1.7 .9M214.0 366.7l1.7 .9M214.0 376.4l1.7 .9" stroke="#4a4a4a" stroke-width="1.3" stroke-linecap="round" fill="none"/>
<path d="M217.3 337.4V377.3H272.7" stroke="#2a2a2a" stroke-width=".9" fill="none"/>
<text x="267.7" y="349.3" font-size="8.3" font-weight="bold" text-anchor="end" >17</text>
<rect x="281.6" y="337.4" width="54.1" height="39.9" fill="#fff" stroke="#5a5a5a" stroke-width=".7"/>
<clipPath id="c10"><rect x="281.6" y="337.4" width="54.1" height="39.9"/></clipPath><g clip-path="url(#c10)">
<ellipse cx="305.9" cy="357.7" rx="13.7" ry="3.7" fill="url(#g)" opacity="0.92"/>
</g>
<path transform="translate(281.6 337.4) scale(.1)" d="M145 199h6M140 192h6M339 171h6M140 204h6M265 192h6M270 200h6M219 205h6M319 185h6M296 208h6M230 192h6M264 216h6M185 215h6M245 217h6M260 200h6M256 214h6M154 204h6M94 207h6M214 204h6M304 218h6M331 218h6M230 191h6M402 193h6M221 210h6M193 206h6M256 195h6M179 204h6M269 188h6M251 205h6M188 210h6M159 218h6M199 220h6M249 204h6M161 216h6M175 239h6M270 207h6M245 214h6M271 210h6M297 201h6M343 179h6M142 213h6M242 179h6M169 192h6M321 214h6M141 182h6M251 184h6M205 194h6M246 213h6M200 195h6M260 230h6M269 198h6M301 201h6M159 214h6M344 185h6M290 184h6M238 202h6M222 202h6M285 195h6M229 199h6M260 193h6M292 208h6M207 183h6M227 220h6M282 204h6M368 228h6M275 226h6M228 198h6M257 173h6M245 195h6M327 213h6M339 196h6M334 206h6M276 210h6M165 218h6M215 214h6M240 188h6M224 208h6M225 231h6M318 205h6M221 227h6M246 222h6M159 171h6M291 218h6M233 201h6M272 212h6M239 204h6M258 221h6M287 162h6M265 198h6M310 215h6M211 202h6M100 201h6M176 205h6M199 223h6M323 198h6M189 224h6M160 198h6M220 207h6M247 189h6M297 209h6M264 229h6M360 207h6M218 199h6M236 186h6M200 195h6M276 215h6M91 177h6M205 186h6M242 175h6M229 207h6M268 196h6M269 215h6M222 186h6M212 208h6M260 176h6M151 177h6M355 210h6M254 184h6M113 236h6M281 163h6M343 210h6M240 207h6M299 171h6M261 183h6M218 200h6M217 191h6M254 197h6M260 215h6M190 200h6M190 216h6M288 220h6M309 205h6M182 191h6M318 205h6M293 194h6M229 234h6M304 178h6M200 205h6M308 219h6M296 223h6M286 217h6M189 184h6M212 224h6M327 186h6M226 204h6M279 209h6M335 207h6M230 199h6M310 199h6M276 197h6M171 169h6M225 190h6M293 197h6M186 215h6M217 237h6M215 204h6M195 228h6M261 199h6M237 170h6M321 203h6M315 190h6M332 193h6M245 236h6M212 204h6M233 205h6M253 201h6M270 196h6M325 214h6M173 195h6M223 219h6M124 221h6M122 193h6M190 198h6M292 218h6M236 200h6M183 222h6M213 247h6M146 192h6M286 233h6M224 210h6M205 207h6M112 214h6M210 210h6M235 188h6M147 187h6M240 215h6M312 219h6M370 219h6M354 216h6M263 175h6M303 201h6M219 182h6M321 203h6M217 191h6M238 210h6M280 205h6M256 204h6M217 222h6M235 194h6M349 188h6M215 205h6M232 202h6M303 219h6M160 233h6M170 187h6M285 187h6M169 217h6M274 209h6M330 220h6M214 196h6M269 196h6M259 217h6M259 181h6M345 202h6M265 177h6M241 183h6M341 196h6M158 201h6M186 204h6M185 176h6M231 198h6M193 214h6M295 202h6M238 209h6M300 206h6M174 213h6M390 213h6M263 194h6M148 211h6M279 210h6M253 224h6M236 173h6M234 206h6M291 212h6M286 211h6M261 184h6M223 219h6M344 160h6M234 196h6M296 172h6M208 206h6M193 175h6M358 199h6M247 213h6M360 192h6M233 198h6M302 218h6M341 196h6M168 193h6M125 209h6M116 210h6M178 210h6M334 201h6M234 204h6M204 209h6M227 206h6M192 212h6M263 189h6M238 181h6M155 185h6M267 197h6M240 208h6M225 200h6M207 238h6M192 213h6M227 232h6M172 202h6M267 195h6M374 207h6M267 176h6M268 184h6M277 209h6M235 194h6M192 193h6M338 190h6M223 210h6M158 196h6M313 207h6M277 215h6M240 165h6M289 212h6M95 200h6M330 184h6M301 226h6M235 199h6M180 213h6M257 212h6M238 204h6M205 220h6M233 223h6M297 191h6M173 220h6M267 197h6M307 171h6M278 197h6M288 194h6M213 214h6M265 180h6M275 214h6M140 188h6M171 187h6M199 234h6M180 188h6M226 224h6M217 218h6M306 196h6M266 219h6M256 229h6M266 229h6M180 207h6M94 180h6M207 197h6M228 211h6M152 176h6M289 208h6M300 217h6M261 195h6M273 188h6M161 198h6M380 188h6M325 200h6M348 195h6M169 193h6M230 212h6M197 206h6M387 203h6M283 245h6M195 203h6M221 207h6M192 198h6M287 203h6M122 221h6M265 234h6M190 209h6M185 216h6M206 224h6M248 168h6M171 214h6M288 219h6M273 196h6M249 204h6M242 219h6M184 198h6M323 201h6M276 194h6M245 224h6M340 204h6M202 227h6M124 200h6M286 241h6M306 201h6M237 202h6M183 196h6M261 176h6M191 155h6M299 205h6M139 179h6M198 229h6M271 185h6M210 177h6M182 175h6M353 214h6M322 210h6M195 219h6M271 191h6M139 202h6M166 198h6M114 173h6M301 212h6M250 199h6M253 187h6M289 228h6M203 178h6M242 175h6M364 201h6M267 206h6M209 191h6M174 235h6M246 220h6M334 198h6M209 196h6M264 187h6M301 199h6M193 214h6M330 188h6M229 200h6M274 216h6M233 188h6M203 217h6M356 206h6M190 244h6M313 191h6M162 188h6M426 223h6M179 190h6M218 182h6M278 185h6M226 212h6M225 219h6M208 222h6M199 193h6M149 208h6M284 203h6M331 213h6M263 176h6M230 209h6M166 227h6M261 227h6M163 232h6M327 205h6M219 229h6M180 199h6M312 201h6M190 184h6M210 223h6M413 187h6M165 213h6M230 196h6M232 225h6M290 190h6M273 183h6M312 169h6M214 218h6M349 211h6M117 200h6M299 213h6M265 193h6M120 195h6M251 192h6M187 209h6M220 206h6M308 191h6M303 184h6M296 209h6M272 215h6M255 174h6M347 206h6M254 204h6M266 199h6M157 183h6M353 213h6M173 229h6M259 184h6M192 192h6M313 215h6M225 199h6M196 205h6M176 217h6M235 218h6M340 208h6M297 152h6M183 207h6M186 221h6M221 200h6M108 214h6M209 224h6M274 202h6M296 198h6M190 202h6M227 221h6M198 185h6M327 218h6M218 205h6M139 230h6M207 167h6M233 211h6M283 207h6M257 200h6M236 199h6M399 204h6M251 169h6M239 212h6M286 177h6M237 229h6M229 200h6M279 201h6M208 192h6M133 206h6M278 213h6M194 210h6M175 176h6M282 182h6M154 197h6M221 228h6M307 237h6M253 176h6M161 207h6M155 210h6M308 213h6M135 221h6M351 220h6M391 189h6M234 217h6M305 228h6M232 191h6M229 191h6M248 197h6M291 191h6M300 190h6M319 223h6M240 199h6M264 210h6M177 215h6M125 183h6M166 206h6M189 163h6M310 193h6M221 208h6M264 213h6M160 208h6M303 215h6M335 179h6M318 179h6M171 206h6M390 223h6M234 204h6M311 182h6M220 193h6M318 212h6M262 223h6M226 188h6M300 172h6M260 203h6M141 206h6M188 226h6M291 218h6M305 203h6M313 213h6M278 221h6M368 175h6M213 178h6M164 214h6M181 199h6M207 219h6M344 205h6M199 193h6M230 176h6M166 206h6M258 206h6M264 191h6M236 186h6M258 169h6M276 207h6M217 205h6M307 204h6M364 223h6M250 200h6M168 185h6M255 205h6M265 231h6M269 210h6M228 185h6M214 201h6M288 214h6M179 201h6M291 179h6M228 179h6M200 222h6M266 239h6M178 218h6M233 176h6M255 207h6M226 223h6M36 165h6M43 120h6M51 177h6M74 182h6M37 181h6M17 167h6M65 129h6M72 166h6M40 191h6M89 136h6M49 151h6M61 125h6M38 182h6M40 187h6M49 200h6M75 98h6M58 131h6M30 170h6M66 158h6M67 198h6M51 162h6M54 193h6M24 137h6M17 120h6M51 127h6M27 131h6M68 214h6M46 114h6M48 118h6M50 164h6M85 113h6M40 110h6M67 106h6M72 204h6M93 144h6M42 212h6M39 136h6M24 163h6M72 112h6M61 158h6M78 136h6M27 148h6M53 130h6M23 163h6M41 92h6M54 82h6M39 155h6M73 110h6M50 183h6M26 153h6M68 180h6M42 153h6M28 160h6M53 122h6M96 163h6M25 141h6M54 103h6M24 167h6M239 237h6M342 229h6M109 191h6M232 232h6M210 202h6M84 229h6M285 252h6M304 369h6M138 213h6M261 135h6M310 236h6M236 240h6M225 211h6M347 255h6M276 228h6M70 220h6M37 213h6M278 229h6M253 309h6M297 284h6M215 226h6M116 305h6M350 237h6M288 251h6M371 262h6M236 194h6M19 137h6M223 292h6M179 229h6M303 310h6M28 234h6M199 276h6M209 163h6M26 166h6M206 193h6M117 327h6M105 226h6M357 240h6M56 240h6M242 299h6M168 172h6M207 191h6M263 268h6M237 237h6M130 179h6M272 301h6M319 346h6M151 146h6M239 251h6M165 156h6M370 156h6M291 276h6M366 237h6M331 228h6M312 298h6M241 163h6M283 107h6M373 212h6M192 283h6M326 261h6M190 271h6M256 223h6M169 260h6M173 297h6M76 195h6M261 164h6M417 177h6M186 221h6M260 300h6M203 217h6M364 238h6M316 241h6M195 212h6M150 204h6M259 237h6M317 244h6M281 201h6M91 284h6M410 226h6M324 200h6M158 256h6M323 264h6M347 243h6M230 243h6M160 223h6M88 187h6M316 215h6M30 189h6M316 236h6M235 265h6M351 225h6M266 327h6M299 215h6M165 219h6M351 148h6M302 220h6M303 247h6M95 217h6M57 232h6M171 279h6M72 251h6M152 217h6M84 320h6M221 242h6M457 163h6M234 198h6M217 221h6M291 272h6M249 291h6M212 182h6M83 276h6" stroke="#000" stroke-width="6" opacity=".72" fill="none"/>
<path d="M291.9 337.4V377.3M281.6 361.7H335.7" stroke="#555" stroke-width=".7" fill="none"/>
<path d="M278.3 337.7l1.7 .9M278.3 347.4l1.7 .9M278.3 357.1l1.7 .9M278.3 366.7l1.7 .9M278.3 376.4l1.7 .9" stroke="#4a4a4a" stroke-width="1.3" stroke-linecap="round" fill="none"/>
<path d="M281.0 380.3l2.4 -.8M294.1 380.3l2.4 -.8M307.3 380.3l2.4 -.8M320.4 380.3l2.4 -.8M333.6 380.3l2.4 -.8" stroke="#888" stroke-width="1.1" stroke-linecap="round" fill="none"/>
<path d="M281.6 337.4V377.3H335.7" stroke="#2a2a2a" stroke-width=".9" fill="none"/>
<text x="328.9" y="349.3" font-size="8.3" font-weight="bold" text-anchor="end" >81</text>
<text transform="translate(15.3 370.4) rotate(-90)" font-size="9" textLength="18.4" lengthAdjust="spacingAndGlyphs" stroke="#000" stroke-width=".35">CD5</text>
<path d="M11.9 351V299" stroke="#000" stroke-width="2.2" fill="none"/><path d="M7.4 303.4L11.9 297.6L16.4 303.4" stroke="#000" stroke-width="2.1" fill="none"/>
<text x="33.8" y="390.2" font-size="9" textLength="18" lengthAdjust="spacingAndGlyphs" stroke="#000" stroke-width=".35">IgM</text>
<path d="M61.3 388H322" stroke="#000" stroke-width="2.4" fill="none"/><path d="M318 383.9L323.8 388L318 392.1" stroke="#000" stroke-width="2.2" fill="none"/>
<text x="347" y="320" font-size="8.5" font-weight="bold" textLength="49.6" lengthAdjust="spacingAndGlyphs" stroke="#000" stroke-width=".25">IRF4<tspan font-size="6.2" dy="-3.3">+</tspan><tspan font-size="7.2" dy="1.3">/</tspan><tspan font-size="6.2" dy="-1.3">+</tspan><tspan dy="3.3">&#160;Vh11</tspan></text>
<text x="349" y="361.5" font-size="8.5" font-weight="bold" textLength="47" lengthAdjust="spacingAndGlyphs" stroke="#000" stroke-width=".25">IRF4<tspan font-size="6.2" dy="-3.3">-</tspan><tspan font-size="7.2" dy="1.3">/</tspan><tspan font-size="6.2" dy="-1.3">-</tspan><tspan dy="3.3">&#160;Vh11</tspan></text>
</g>
<g id="panelD">
<text x="210.8" y="9.2" font-size="10.5" font-weight="bold" >D</text>
<path d="M250.2 99.5H461.8M250.2 82.2H461.8M250.2 64.9H461.8M250.2 47.7H461.8M250.2 30.4H461.8" stroke="#cfcfcf" stroke-width=".9" fill="none"/>
<path d="M250.2 116.8V13.1H461.8V116.8" fill="none" stroke="#444" stroke-width="1"/>
<path d="M249.7 116.8H462.3" stroke="#666" stroke-width="1" fill="none"/>
<text x="241.9" y="119.5" font-size="7.9" font-weight="bold" text-anchor="end" stroke="#000" stroke-width=".25">0</text>
<text x="241.9" y="102.2" font-size="7.9" font-weight="bold" text-anchor="end" stroke="#000" stroke-width=".25">20</text>
<text x="241.9" y="84.9" font-size="7.9" font-weight="bold" text-anchor="end" stroke="#000" stroke-width=".25">40</text>
<text x="241.9" y="67.6" font-size="7.9" font-weight="bold" text-anchor="end" stroke="#000" stroke-width=".25">60</text>
<text x="241.9" y="50.4" font-size="7.9" font-weight="bold" text-anchor="end" stroke="#000" stroke-width=".25">80</text>
<text x="241.9" y="33.1" font-size="7.9" font-weight="bold" text-anchor="end" stroke="#000" stroke-width=".25">100</text>
<text x="241.9" y="15.8" font-size="7.9" font-weight="bold" text-anchor="end" stroke="#000" stroke-width=".25">120</text>
<text transform="translate(228.3 108.3) rotate(-90)" font-size="10" font-weight="bold" textLength="87.5" lengthAdjust="spacingAndGlyphs" stroke="#000" stroke-width=".25">% IgM+CD5+ cells</text>
<rect x="259.2" y="115.5" width="11.75" height="1.3" fill="#a6a6a6"/>
<path d="M265.1 115.5V114.0m-.9 .2h1.8" stroke="#777" stroke-width=".9" fill="none"/>
<rect x="270.9" y="111.4" width="11.75" height="5.4" fill="#4a4a4a"/>
<path d="M276.8 111.4V107.0m-.9 .2h1.8" stroke="#777" stroke-width=".9" fill="none"/>
<rect x="282.7" y="109.5" width="11.75" height="7.3" fill="#050505"/>
<path d="M288.6 109.5V103.8m-.9 .2h1.8" stroke="#777" stroke-width=".9" fill="none"/>
<rect x="312.0" y="115.2" width="11.75" height="1.6" fill="#a6a6a6"/>
<path d="M317.9 115.2V113.8m-.9 .2h1.8" stroke="#777" stroke-width=".9" fill="none"/>
<rect x="323.8" y="111.4" width="11.75" height="5.4" fill="#4a4a4a"/>
<path d="M329.6 111.4V106.9m-.9 .2h1.8" stroke="#777" stroke-width=".9" fill="none"/>
<rect x="335.5" y="93.7" width="11.75" height="23.1" fill="#050505"/>
<path d="M341.4 93.7V81.2m-.9 .2h1.8" stroke="#777" stroke-width=".9" fill="none"/>
<rect x="364.8" y="113.1" width="11.75" height="3.7" fill="#a6a6a6"/>
<path d="M370.7 113.1V110.8m-.9 .2h1.8" stroke="#777" stroke-width=".9" fill="none"/>
<rect x="376.6" y="110.5" width="11.75" height="6.3" fill="#4a4a4a"/>
<path d="M382.4 110.5V105.7m-.9 .2h1.8" stroke="#777" stroke-width=".9" fill="none"/>
<rect x="388.3" y="74.5" width="11.75" height="42.3" fill="#050505"/>
<path d="M394.2 74.5V56.3m-.9 .2h1.8" stroke="#777" stroke-width=".9" fill="none"/>
<rect x="417.8" y="112.2" width="11.75" height="4.6" fill="#a6a6a6"/>
<path d="M423.7 112.2V109.9m-.9 .2h1.8" stroke="#777" stroke-width=".9" fill="none"/>
<rect x="429.6" y="109.6" width="11.75" height="7.2" fill="#4a4a4a"/>
<path d="M435.4 109.6V104.7m-.9 .2h1.8" stroke="#777" stroke-width=".9" fill="none"/>
<rect x="441.3" y="56.9" width="11.75" height="59.9" fill="#050505"/>
<path d="M447.2 56.9V30.8m-.9 .2h1.8" stroke="#777" stroke-width=".9" fill="none"/>
<rect x="264.4" y="19.2" width="4.4" height="4.4" fill="#a6a6a6"/>
<text x="271.5" y="24.2" font-size="7.8" font-weight="bold" textLength="46.5" lengthAdjust="spacingAndGlyphs" >IRF4+/+Vh11</text>
<rect x="264.4" y="33.0" width="4.4" height="4.4" fill="#4a4a4a"/>
<text x="271.5" y="38.0" font-size="7.8" font-weight="bold" textLength="46.5" lengthAdjust="spacingAndGlyphs" >IRF4+/-VH11</text>
<rect x="264.4" y="47.2" width="4.4" height="4.4" fill="#050505"/>
<text x="271.5" y="52.2" font-size="7.8" font-weight="bold" textLength="46.5" lengthAdjust="spacingAndGlyphs" >IRF4-/-VH11</text>
<text x="278.7" y="129.0" font-size="8.8" font-weight="bold" text-anchor="middle" stroke="#000" stroke-width=".25">2</text>
<text x="328.6" y="129.0" font-size="8.8" font-weight="bold" text-anchor="middle" stroke="#000" stroke-width=".25">4</text>
<text x="380.5" y="129.0" font-size="8.8" font-weight="bold" text-anchor="middle" stroke="#000" stroke-width=".25">6</text>
<text x="433.0" y="129.0" font-size="8.8" font-weight="bold" text-anchor="middle" stroke="#000" stroke-width=".25">8</text>
<text x="463.5" y="129.1" font-size="8.4" font-weight="bold" textLength="31.7" lengthAdjust="spacingAndGlyphs" >Months</text>
<rect x="251.8" y="136.0" width="48.6" height="31.1" fill="#fff" stroke="#5a5a5a" stroke-width=".7"/>
<clipPath id="c11"><rect x="251.8" y="136.0" width="48.6" height="31.1"/></clipPath><g clip-path="url(#c11)">
<ellipse cx="257.6" cy="147.2" rx="5.9" ry="6.2" fill="url(#g)" opacity="0.39"/>
<ellipse cx="257.6" cy="160.9" rx="5.9" ry="5.8" fill="url(#g)" opacity="0.83"/>
<ellipse cx="287.0" cy="160.9" rx="8.0" ry="6.8" fill="url(#g)" opacity="0.92"/>
</g>
<path transform="translate(251.8 136.0) scale(.1)" d="M48 125h6M77 86h6M93 132h6M103 131h6M27 128h6M61 71h6M82 104h6M69 158h6M93 100h6M78 140h6M62 142h6M74 99h6M96 105h6M45 101h6M25 60h6M67 50h6M50 132h6M67 122h6M50 85h6M66 133h6M56 139h6M62 76h6M43 109h6M36 105h6M84 112h6M86 124h6M44 114h6M83 96h6M40 146h6M81 130h6M43 106h6M69 123h6M82 81h6M82 83h6M32 98h6M43 141h6M91 171h6M39 116h6M94 63h6M80 165h6M85 91h6M56 116h6M39 82h6M89 87h6M87 81h6M36 47h6M40 101h6M81 71h6M58 143h6M80 153h6M54 69h6M58 126h6M30 103h6M57 173h6M40 89h6M53 94h6M59 97h6M24 92h6M95 108h6M64 131h6M67 86h6M34 134h6M51 123h6M47 136h6M54 118h6M74 55h6M83 149h6M45 66h6M69 87h6M31 156h6M55 81h6M23 122h6M67 123h6M27 92h6M57 100h6M60 102h6M57 117h6M75 148h6M57 54h6M97 69h6M65 145h6M75 149h6M58 174h6M72 65h6M78 102h6M87 92h6M81 75h6M50 108h6M89 89h6M67 143h6M55 118h6M111 110h6M78 147h6M98 146h6M42 122h6M19 77h6M50 103h6M43 90h6M104 74h6M72 76h6M67 88h6M12 54h6M90 146h6M50 107h6M67 68h6M75 196h6M46 65h6M42 112h6M49 161h6M75 95h6M64 99h6M37 155h6M53 95h6M97 103h6M85 36h6M77 79h6M47 137h6M106 46h6M94 103h6M45 141h6M54 95h6M52 105h6M44 142h6M103 86h6M40 108h6M37 114h6M62 111h6M38 120h6M23 100h6M54 113h6M80 106h6M31 123h6M54 134h6M102 155h6M57 83h6M64 106h6M38 68h6M89 83h6M86 142h6M33 123h6M56 70h6M41 115h6M84 91h6M52 141h6M47 92h6M17 123h6M39 84h6M45 90h6M136 95h6M78 75h6M81 121h6M47 175h6M32 80h6M38 109h6M79 109h6M37 84h6M102 98h6M105 108h6M48 100h6M71 134h6M48 126h6M23 64h6M15 98h6M40 131h6M48 99h6M49 69h6M24 166h6M73 70h6M25 121h6M45 95h6M78 81h6M23 123h6M31 115h6M107 70h6M56 108h6M61 107h6M77 92h6M32 117h6M64 59h6M78 100h6M84 111h6M24 100h6M76 141h6M53 129h6M93 119h6M96 130h6M32 76h6M35 160h6M89 85h6M57 170h6M36 112h6M48 136h6M63 144h6M69 122h6M32 119h6M44 163h6M66 112h6M62 114h6M47 130h6M57 86h6M82 133h6M88 100h6M83 155h6M75 123h6M57 67h6M30 110h6M86 127h6M43 118h6M55 91h6M57 136h6M27 100h6M57 83h6M33 124h6M116 114h6M44 157h6M62 58h6M43 57h6M49 153h6M112 205h6M84 102h6M41 101h6M29 85h6M67 116h6M63 107h6M18 128h6M58 135h6M62 84h6M83 134h6M51 132h6M70 98h6M64 90h6M94 99h6M84 163h6M60 131h6M97 59h6M115 129h6M26 117h6M116 115h6M95 142h6M41 123h6M105 90h6M61 97h6M44 107h6M12 85h6M43 142h6M29 137h6M47 90h6M13 117h6M56 135h6M42 53h6M73 150h6M59 116h6M71 120h6M127 109h6M72 138h6M72 64h6M69 103h6M32 139h6M40 124h6M40 129h6M94 88h6M37 139h6M34 142h6M68 87h6M43 150h6M81 117h6M64 143h6M42 122h6M70 150h6M48 107h6M65 106h6M51 128h6M45 105h6M65 116h6M48 110h6M26 92h6M39 220h6M52 247h6M55 240h6M43 274h6M72 215h6M64 227h6M75 229h6M66 230h6M53 259h6M76 213h6M43 228h6M13 256h6M52 241h6M36 297h6M35 180h6M49 257h6M29 246h6M60 224h6M29 221h6M44 277h6M61 233h6M45 270h6M40 225h6M78 249h6M93 243h6M50 260h6M63 250h6M33 231h6M38 236h6M92 225h6M70 261h6M17 276h6M64 259h6M63 276h6M68 232h6M41 226h6M37 226h6M64 275h6M53 276h6M88 267h6M14 180h6M86 262h6M21 229h6M64 249h6M24 248h6M19 242h6M74 256h6M42 266h6M109 241h6M61 211h6M79 206h6M52 273h6M74 162h6M36 185h6M50 210h6M118 280h6M31 241h6M59 275h6M95 267h6M24 165h6M17 218h6M78 213h6M92 270h6M60 271h6M39 277h6M60 233h6M37 193h6M49 263h6M47 237h6M22 282h6M57 248h6M36 242h6M66 260h6M42 234h6M75 289h6M46 262h6M78 258h6M33 249h6M60 219h6M59 248h6M39 293h6M66 226h6M90 241h6M31 217h6M87 217h6M67 261h6M43 269h6M86 247h6M58 267h6M60 284h6M78 251h6M64 238h6M76 229h6M57 215h6M122 257h6M59 261h6M13 288h6M14 265h6M48 269h6M75 256h6M85 240h6M65 240h6M40 220h6M68 295h6M35 235h6M39 259h6M38 222h6M65 254h6M66 281h6M20 278h6M95 262h6M99 271h6M56 216h6M59 209h6M37 238h6M69 232h6M56 248h6M65 265h6M71 241h6M62 232h6M25 233h6M58 194h6M79 258h6M16 221h6M34 187h6M11 260h6M96 291h6M71 280h6M94 222h6M100 227h6M48 178h6M49 202h6M119 259h6M82 235h6M83 263h6M48 263h6M47 214h6M45 232h6M93 244h6M67 249h6M66 251h6M50 212h6M62 241h6M31 242h6M88 224h6M79 206h6M110 269h6M39 259h6M31 214h6M47 226h6M67 214h6M68 261h6M80 266h6M77 277h6M92 278h6M90 212h6M51 288h6M42 269h6M87 285h6M41 255h6M54 266h6M90 248h6M86 287h6M62 237h6M43 216h6M46 243h6M84 230h6M39 247h6M52 283h6M59 287h6M60 177h6M53 218h6M58 223h6M83 241h6M49 236h6M49 269h6M65 249h6M90 232h6M78 271h6M67 235h6M54 279h6M33 274h6M73 260h6M72 235h6M102 250h6M81 243h6M49 278h6M32 248h6M35 205h6M85 249h6M122 278h6M52 258h6M51 255h6M55 254h6M46 272h6M26 201h6M12 230h6M61 264h6M80 206h6M15 266h6M107 266h6M55 277h6M103 276h6M64 240h6M43 236h6M25 258h6M86 241h6M79 267h6M55 247h6M99 228h6M39 237h6M38 264h6M75 241h6M76 199h6M85 220h6M82 231h6M75 268h6M19 299h6M21 236h6M77 266h6M64 240h6M80 259h6M49 280h6M101 232h6M47 220h6M26 254h6M85 209h6M52 258h6M42 273h6M75 247h6M91 259h6M89 266h6M52 290h6M40 259h6M50 226h6M23 281h6M95 279h6M62 266h6M66 265h6M71 279h6M63 234h6M58 245h6M38 297h6M20 282h6M51 245h6M60 262h6M11 263h6M54 248h6M59 246h6M88 225h6M38 263h6M53 274h6M61 298h6M86 223h6M88 226h6M67 239h6M21 271h6M74 240h6M35 228h6M55 279h6M46 247h6M47 215h6M48 232h6M91 253h6M93 247h6M63 287h6M71 251h6M72 258h6M89 232h6M46 224h6M91 267h6M50 264h6M110 271h6M56 223h6M91 241h6M16 275h6M36 238h6M117 238h6M105 185h6M80 242h6M63 232h6M67 267h6M50 271h6M79 217h6M107 253h6M82 288h6M34 220h6M49 299h6M102 271h6M32 238h6M53 252h6M27 250h6M45 261h6M32 234h6M62 267h6M61 253h6M54 232h6M47 225h6M73 259h6M54 225h6M47 244h6M86 239h6M64 231h6M76 241h6M35 197h6M49 239h6M90 214h6M42 215h6M79 256h6M48 265h6M62 235h6M57 265h6M83 296h6M66 250h6M61 226h6M54 264h6M48 240h6M24 265h6M87 248h6M63 254h6M59 243h6M85 257h6M48 215h6M86 243h6M73 235h6M25 265h6M89 204h6M63 245h6M17 295h6M45 262h6M59 299h6M34 238h6M66 268h6M58 279h6M89 260h6M21 223h6M14 236h6M82 292h6M63 272h6M48 241h6M78 204h6M53 225h6M65 264h6M64 285h6M61 282h6M64 194h6M57 225h6M48 184h6M343 238h6M311 241h6M382 251h6M377 220h6M415 220h6M307 255h6M374 290h6M379 279h6M296 254h6M330 180h6M406 211h6M376 275h6M341 217h6M400 249h6M358 253h6M365 268h6M358 280h6M351 206h6M323 266h6M319 256h6M380 228h6M351 209h6M307 264h6M360 214h6M336 227h6M340 228h6M334 207h6M337 287h6M344 269h6M340 235h6M405 257h6M331 271h6M301 201h6M341 235h6M355 209h6M367 242h6M343 259h6M339 281h6M320 258h6M346 176h6M316 232h6M368 208h6M331 233h6M299 231h6M386 278h6M314 224h6M325 181h6M433 224h6M362 232h6M340 200h6M313 243h6M326 269h6M332 260h6M370 210h6M395 241h6M440 230h6M388 271h6M296 199h6M298 274h6M351 277h6M311 272h6M350 267h6M374 251h6M401 204h6M338 280h6M313 271h6M353 257h6M264 220h6M376 211h6M380 270h6M244 252h6M310 215h6M293 257h6M403 233h6M292 281h6M379 250h6M301 210h6M342 296h6M406 218h6M287 244h6M380 224h6M355 277h6M403 250h6M361 266h6M325 272h6M354 224h6M347 239h6M333 271h6M380 278h6M334 269h6M312 281h6M331 194h6M378 207h6M319 246h6M366 244h6M365 257h6M291 287h6M403 230h6M376 239h6M321 239h6M280 228h6M375 280h6M368 256h6M327 279h6M420 259h6M414 252h6M342 277h6M355 241h6M331 252h6M350 198h6M364 263h6M370 276h6M379 238h6M310 263h6M367 231h6M341 263h6M408 230h6M318 248h6M322 233h6M317 285h6M367 254h6M373 276h6M317 267h6M329 202h6M366 231h6M404 240h6M342 222h6M346 246h6M374 225h6M325 215h6M327 236h6M346 228h6M384 226h6M360 244h6M365 251h6M336 248h6M333 244h6M393 275h6M400 223h6M394 262h6M375 240h6M414 221h6M360 207h6M341 261h6M360 257h6M398 216h6M289 280h6M298 239h6M434 271h6M347 278h6M321 272h6M337 227h6M317 230h6M385 278h6M348 293h6M308 268h6M314 239h6M345 192h6M365 251h6M290 245h6M347 200h6M328 280h6M336 243h6M347 242h6M313 244h6M281 253h6M340 207h6M298 255h6M335 229h6M332 255h6M388 235h6M283 221h6M318 262h6M391 260h6M321 278h6M336 212h6M350 227h6M378 224h6M392 270h6M305 236h6M338 224h6M364 241h6M412 257h6M385 278h6M367 274h6M327 279h6M386 282h6M332 232h6M393 246h6M442 264h6M311 268h6M360 190h6M331 181h6M445 213h6M322 238h6M323 286h6M342 205h6M379 259h6M301 277h6M304 221h6M404 233h6M353 223h6M341 186h6M341 224h6M384 235h6M322 234h6M284 261h6M288 211h6M361 239h6M424 206h6M329 208h6M324 274h6M375 252h6M381 240h6M374 240h6M346 215h6M350 245h6M319 226h6M338 291h6M368 269h6M398 270h6M411 292h6M377 245h6M356 246h6M325 201h6M366 207h6M355 220h6M329 267h6M348 235h6M361 213h6M315 260h6M326 267h6M334 251h6M346 287h6M342 251h6M312 253h6M346 258h6M280 267h6M354 258h6M366 279h6M317 232h6M360 203h6M430 187h6M371 234h6M374 294h6M418 227h6M354 225h6M303 252h6M330 211h6M340 230h6M312 254h6M371 260h6M327 221h6M271 270h6M386 222h6M303 212h6M401 242h6M336 251h6M352 239h6M346 268h6M385 215h6M347 246h6M376 271h6M348 265h6M394 285h6M323 254h6M364 216h6M340 234h6M383 250h6M422 265h6M337 257h6M355 224h6M365 207h6M359 234h6M355 227h6M413 228h6M380 250h6M393 228h6M307 269h6M389 268h6M216 300h6M403 249h6M320 264h6M291 239h6M373 290h6M338 242h6M304 244h6M327 249h6M325 262h6M348 228h6M372 264h6M343 243h6M381 264h6M335 210h6M329 255h6M384 220h6M365 210h6M351 241h6M406 193h6M334 192h6M335 239h6M352 280h6M320 232h6M403 250h6M318 249h6M313 222h6M333 203h6M415 237h6M360 241h6M348 224h6M367 235h6M322 276h6M405 262h6M370 239h6M356 270h6M353 288h6M402 256h6M360 223h6M336 229h6M339 222h6M365 258h6M346 297h6M361 247h6M358 231h6M378 221h6M362 217h6M312 283h6M286 298h6M398 235h6M361 234h6M319 261h6M328 266h6M363 230h6M354 250h6M346 242h6M395 227h6M357 279h6M366 236h6M311 240h6M283 235h6M351 288h6M374 279h6M368 256h6M296 231h6M343 246h6M308 203h6M358 240h6M352 242h6M343 214h6M382 260h6M351 299h6M326 273h6M350 249h6M382 248h6M351 213h6M362 260h6M337 214h6M386 253h6M392 246h6M442 213h6M377 253h6M360 242h6M371 273h6M355 218h6M386 278h6M311 256h6M405 267h6M334 257h6M364 216h6M342 239h6M340 287h6M289 219h6M327 285h6M349 241h6M344 294h6M420 255h6M318 240h6M290 276h6M345 281h6M331 227h6M276 256h6M389 186h6M314 246h6M409 257h6M301 224h6M370 249h6M324 246h6M340 265h6M362 271h6M328 292h6M399 263h6M314 217h6M345 245h6M321 245h6M297 243h6M304 257h6M265 227h6M336 206h6M336 242h6M397 268h6M337 272h6M349 272h6M336 257h6M340 276h6M413 295h6M401 244h6M407 240h6M351 223h6M384 201h6M348 269h6M312 262h6M314 239h6M364 289h6M425 219h6M293 227h6M359 245h6M306 223h6M359 250h6M422 214h6M308 280h6M333 252h6M394 232h6M342 249h6M353 298h6M402 229h6M396 204h6M327 227h6M329 253h6M361 222h6M365 229h6M370 257h6M312 222h6M385 246h6M361 238h6M406 261h6M327 254h6M313 236h6M339 218h6M321 279h6M320 241h6M308 284h6M318 270h6M373 264h6M334 184h6M320 241h6M300 214h6M362 248h6M388 261h6M396 256h6M346 253h6M382 276h6M374 234h6M315 277h6M388 219h6M353 220h6M339 236h6M349 235h6M365 202h6M378 226h6M395 254h6M346 262h6M421 291h6M323 291h6M346 253h6M339 238h6M372 254h6M378 233h6M321 236h6M342 259h6M416 252h6M416 275h6M386 197h6M339 248h6M352 192h6M400 256h6M370 248h6M276 264h6M385 206h6M434 271h6M370 290h6M318 246h6M299 276h6M378 236h6M280 239h6M340 247h6M334 239h6M357 231h6M323 242h6M298 181h6M350 219h6M299 244h6M352 285h6M332 248h6M345 230h6M304 191h6M287 216h6M319 233h6M286 256h6M364 212h6M326 235h6M373 282h6M372 268h6M396 268h6M359 264h6M386 253h6M387 232h6M312 247h6M345 218h6M288 221h6M339 236h6M363 249h6M182 152h6M111 128h6M269 58h6M207 120h6M248 208h6M230 231h6M185 192h6M143 64h6M133 151h6M292 288h6M283 210h6M151 279h6M173 161h6M440 229h6M466 131h6M282 91h6M279 129h6M377 204h6M64 146h6M159 175h6M347 92h6M216 213h6M146 142h6M171 237h6M319 96h6M352 274h6M207 191h6M302 215h6M469 177h6M209 184h6M232 52h6M331 189h6M154 114h6M78 180h6M271 180h6M341 153h6M122 174h6M403 258h6M241 292h6M144 133h6M248 111h6M284 42h6M265 107h6M165 187h6M230 136h6M243 123h6M376 192h6M273 260h6M435 73h6M256 91h6M308 132h6M170 152h6M361 107h6" stroke="#000" stroke-width="6" opacity=".72" fill="none"/>
<path d="M270.8 136.0V167.1M251.8 152.5H300.4" stroke="#555" stroke-width=".7" fill="none"/>
<path d="M248.5 136.3l1.7 .9M248.5 143.8l1.7 .9M248.5 151.2l1.7 .9M248.5 158.7l1.7 .9M248.5 166.2l1.7 .9" stroke="#4a4a4a" stroke-width="1.3" stroke-linecap="round" fill="none"/>
<path d="M251.2 170.1l2.4 -.8M263.0 170.1l2.4 -.8M274.8 170.1l2.4 -.8M286.5 170.1l2.4 -.8M298.3 170.1l2.4 -.8" stroke="#888" stroke-width="1.1" stroke-linecap="round" fill="none"/>
<path d="M251.8 136.0V167.1H300.4" stroke="#2a2a2a" stroke-width=".9" fill="none"/>
<text x="297.4" y="147.2" font-size="8.5" font-weight="bold" text-anchor="end" >0</text>
<rect x="305.8" y="136.0" width="49.0" height="31.1" fill="#fff" stroke="#5a5a5a" stroke-width=".7"/>
<clipPath id="c12"><rect x="305.8" y="136.0" width="49.0" height="31.1"/></clipPath><g clip-path="url(#c12)">
<ellipse cx="311.2" cy="143.5" rx="6.5" ry="5.8" fill="url(#g)" opacity="0.35"/>
<ellipse cx="312.7" cy="159.0" rx="8.6" ry="8.2" fill="url(#g)" opacity="0.08"/>
<ellipse cx="338.6" cy="160.3" rx="8.1" ry="7.5" fill="url(#g)" opacity="0.87"/>
</g>
<path transform="translate(305.8 136.0) scale(.1)" d="M64 67h6M44 77h6M104 63h6M59 83h6M10 67h6M69 83h6M56 49h6M43 88h6M32 97h6M65 114h6M109 92h6M63 47h6M54 86h6M91 23h6M51 45h6M115 114h6M54 66h6M95 115h6M41 97h6M62 80h6M12 126h6M50 47h6M15 112h6M61 98h6M57 39h6M47 54h6M22 78h6M33 82h6M57 61h6M28 67h6M83 101h6M88 52h6M28 80h6M52 90h6M65 38h6M60 112h6M50 72h6M55 34h6M73 84h6M77 60h6M33 47h6M49 73h6M70 50h6M32 45h6M39 95h6M78 74h6M85 85h6M40 90h6M17 56h6M59 74h6M34 66h6M23 54h6M131 89h6M81 104h6M32 38h6M37 77h6M84 101h6M57 105h6M71 136h6M47 67h6M68 68h6M26 62h6M61 136h6M47 62h6M10 61h6M37 77h6M69 63h6M70 54h6M37 82h6M41 91h6M76 58h6M114 91h6M36 44h6M49 74h6M71 82h6M71 36h6M36 72h6M75 70h6M60 48h6M86 75h6M15 66h6M46 77h6M109 43h6M91 42h6M50 45h6M51 101h6M102 96h6M49 94h6M10 70h6M33 20h6M44 41h6M87 50h6M87 67h6M83 89h6M92 51h6M16 78h6M121 104h6M55 101h6M53 79h6M88 82h6M50 76h6M87 106h6M97 86h6M25 96h6M45 53h6M50 55h6M17 76h6M27 96h6M63 42h6M66 84h6M20 94h6M42 66h6M74 19h6M38 91h6M64 110h6M70 75h6M86 70h6M12 101h6M84 87h6M83 30h6M66 40h6M38 53h6M84 53h6M81 93h6M63 84h6M88 79h6M74 86h6M69 72h6M72 50h6M49 44h6M50 101h6M16 48h6M69 57h6M128 51h6M86 75h6M67 100h6M110 108h6M73 71h6M77 95h6M52 52h6M27 37h6M64 102h6M70 68h6M22 85h6M134 114h6M52 110h6M54 74h6M57 40h6M100 62h6M57 80h6M71 54h6M34 67h6M27 52h6M75 66h6M72 67h6M64 57h6M98 59h6M68 120h6M98 57h6M35 80h6M62 106h6M42 89h6M49 59h6M96 111h6M72 82h6M44 120h6M28 103h6M36 90h6M59 65h6M48 80h6M42 56h6M94 54h6M57 45h6M19 61h6M117 79h6M76 96h6M25 50h6M52 100h6M59 44h6M52 33h6M62 40h6M28 27h6M31 58h6M78 63h6M47 60h6M56 64h6M19 67h6M71 32h6M50 52h6M10 66h6M84 58h6M59 132h6M74 70h6M20 105h6M82 65h6M77 88h6M101 97h6M57 93h6M48 47h6M44 62h6M89 76h6M70 54h6M76 59h6M11 90h6M61 110h6M103 74h6M16 18h6M55 39h6M92 87h6M20 24h6M97 102h6M84 113h6M69 55h6M60 75h6M36 71h6M47 15h6M59 57h6M125 110h6M81 69h6M43 99h6M89 89h6M24 70h6M65 101h6M41 67h6M49 44h6M36 92h6M41 60h6M32 52h6M75 81h6M66 78h6M55 90h6M33 65h6M21 106h6M75 76h6M66 91h6M75 89h6M54 71h6M83 92h6M65 103h6M32 74h6M22 102h6M74 75h6M41 70h6M72 88h6M31 64h6M40 72h6M34 51h6M107 57h6M60 84h6M91 106h6M44 90h6M79 83h6M32 118h6M83 70h6M57 80h6M54 93h6M31 62h6M47 40h6M17 52h6M17 95h6M83 86h6M22 82h6M57 38h6M86 85h6M73 19h6M26 128h6M27 117h6M66 59h6M31 50h6M40 13h6M94 139h6M59 75h6M36 69h6M47 269h6M38 223h6M125 281h6M42 164h6M139 198h6M55 230h6M98 211h6M54 213h6M23 265h6M50 235h6M40 260h6M143 204h6M70 227h6M125 209h6M112 239h6M103 210h6M38 218h6M103 224h6M98 286h6M44 204h6M88 188h6M34 224h6M66 232h6M66 170h6M47 246h6M79 244h6M24 204h6M30 252h6M55 271h6M150 239h6M84 184h6M47 140h6M92 276h6M59 218h6M73 212h6M87 252h6M15 152h6M58 221h6M11 254h6M120 248h6M12 235h6M30 265h6M80 241h6M101 251h6M168 178h6M72 260h6M97 131h6M109 211h6M27 293h6M61 257h6M90 251h6M109 241h6M117 229h6M32 281h6M70 257h6M11 135h6M72 238h6M126 182h6M34 238h6M114 239h6M88 259h6M151 283h6M56 170h6M32 233h6M61 144h6M105 252h6M34 180h6M123 238h6M57 193h6M41 286h6M39 228h6M52 222h6M20 275h6M71 258h6M29 222h6M145 227h6M50 177h6M41 249h6M49 205h6M110 288h6M52 214h6M23 226h6M73 246h6M20 224h6M56 185h6M72 243h6M98 185h6M15 229h6M69 206h6M109 194h6M88 182h6M93 177h6M107 226h6M110 213h6M13 192h6M27 238h6M41 249h6M62 210h6M46 218h6M85 277h6M47 230h6M107 280h6M32 184h6M44 274h6M49 264h6M60 250h6M84 224h6M41 231h6M159 192h6M97 220h6M14 225h6M101 183h6M23 256h6M13 272h6M111 203h6M73 272h6M102 154h6M111 287h6M82 225h6M33 255h6M142 258h6M36 226h6M110 239h6M88 207h6M139 214h6M76 161h6M122 191h6M73 235h6M82 208h6M86 236h6M22 193h6M133 239h6M42 275h6M112 203h6M61 242h6M44 278h6M58 288h6M81 271h6M98 269h6M95 236h6M129 260h6M43 262h6M92 237h6M91 220h6M53 171h6M52 282h6M92 254h6M77 270h6M72 206h6M90 234h6M24 231h6M79 227h6M51 229h6M71 256h6M24 211h6M92 214h6M32 183h6M12 194h6M65 253h6M73 235h6M91 227h6M17 233h6M62 180h6M57 220h6M64 218h6M159 241h6M61 229h6M66 269h6M67 264h6M30 239h6M64 237h6M21 207h6M117 229h6M13 217h6M110 170h6M54 234h6M49 239h6M84 243h6M102 268h6M59 233h6M75 188h6M18 294h6M73 243h6M135 161h6M76 221h6M63 281h6M63 177h6M22 182h6M112 208h6M23 223h6M14 246h6M72 238h6M112 216h6M103 169h6M104 296h6M35 259h6M28 234h6M88 211h6M25 226h6M65 244h6M70 167h6M110 247h6M272 237h6M322 224h6M373 241h6M326 189h6M289 256h6M395 255h6M321 230h6M285 203h6M315 214h6M269 227h6M365 187h6M316 283h6M385 219h6M337 259h6M333 240h6M334 249h6M321 236h6M327 279h6M294 292h6M366 248h6M418 270h6M396 213h6M245 268h6M329 221h6M289 261h6M358 280h6M326 228h6M277 210h6M377 198h6M323 226h6M302 200h6M312 259h6M317 253h6M302 208h6M357 238h6M318 260h6M363 224h6M330 235h6M377 198h6M300 240h6M238 192h6M345 280h6M388 232h6M347 244h6M299 250h6M325 285h6M318 195h6M336 222h6M332 256h6M262 186h6M340 270h6M305 241h6M345 223h6M324 225h6M364 241h6M291 250h6M300 232h6M281 235h6M356 266h6M349 214h6M326 241h6M318 232h6M299 247h6M334 205h6M304 254h6M326 260h6M290 239h6M292 243h6M303 225h6M348 279h6M324 250h6M292 226h6M311 256h6M390 180h6M369 289h6M348 231h6M354 194h6M277 248h6M305 267h6M294 181h6M321 262h6M273 245h6M330 256h6M356 251h6M302 198h6M350 233h6M361 283h6M304 224h6M374 249h6M286 236h6M312 283h6M280 220h6M357 271h6M335 225h6M293 156h6M352 252h6M329 199h6M262 229h6M311 283h6M413 197h6M299 270h6M363 269h6M322 225h6M311 197h6M302 216h6M369 289h6M337 190h6M321 225h6M371 209h6M342 240h6M358 223h6M387 253h6M321 235h6M310 279h6M357 234h6M430 258h6M362 296h6M368 258h6M291 212h6M356 239h6M317 284h6M354 291h6M316 210h6M323 272h6M288 241h6M350 250h6M344 160h6M346 275h6M294 253h6M327 242h6M449 232h6M281 216h6M302 244h6M342 226h6M416 258h6M328 230h6M335 213h6M320 224h6M356 216h6M285 228h6M368 255h6M312 239h6M298 215h6M338 219h6M295 231h6M329 261h6M309 249h6M342 300h6M332 168h6M339 207h6M341 247h6M289 164h6M346 215h6M366 195h6M279 192h6M336 291h6M334 201h6M348 193h6M329 292h6M324 193h6M327 254h6M270 258h6M329 165h6M346 206h6M310 281h6M351 223h6M384 224h6M394 233h6M286 209h6M256 221h6M316 209h6M342 244h6M370 205h6M354 207h6M310 274h6M307 258h6M311 274h6M339 258h6M388 203h6M355 249h6M289 240h6M340 203h6M309 285h6M315 196h6M415 299h6M309 256h6M316 255h6M336 218h6M339 235h6M232 289h6M276 227h6M390 217h6M331 293h6M291 275h6M336 216h6M329 261h6M339 225h6M341 252h6M288 197h6M299 239h6M324 267h6M317 239h6M371 200h6M262 290h6M365 214h6M374 253h6M302 298h6M270 216h6M332 268h6M331 274h6M288 234h6M380 232h6M307 222h6M327 234h6M242 182h6M384 286h6M324 273h6M301 263h6M364 226h6M318 252h6M368 226h6M354 241h6M305 280h6M382 201h6M334 231h6M284 246h6M325 221h6M278 268h6M368 244h6M251 264h6M389 240h6M267 200h6M324 228h6M316 241h6M353 295h6M344 235h6M308 189h6M380 230h6M323 195h6M342 239h6M298 258h6M414 233h6M320 262h6M302 232h6M384 233h6M334 211h6M281 232h6M323 202h6M308 254h6M335 299h6M300 202h6M343 229h6M350 217h6M310 263h6M385 226h6M276 251h6M352 259h6M265 232h6M408 200h6M375 192h6M304 200h6M368 275h6M348 213h6M346 258h6M386 199h6M323 263h6M322 208h6M359 280h6M344 238h6M315 234h6M317 233h6M282 227h6M332 208h6M381 296h6M294 202h6M244 242h6M302 236h6M270 251h6M289 249h6M316 267h6M305 266h6M311 199h6M362 243h6M386 242h6M296 201h6M340 198h6M323 183h6M378 264h6M344 220h6M274 289h6M352 231h6M285 243h6M306 231h6M274 287h6M342 239h6M352 228h6M358 269h6M377 242h6M321 287h6M322 222h6M366 228h6M360 282h6M298 241h6M333 238h6M317 288h6M333 248h6M329 223h6M341 274h6M290 259h6M383 270h6M380 246h6M308 225h6M324 215h6M377 279h6M344 257h6M312 200h6M323 228h6M317 211h6M321 256h6M331 289h6M323 295h6M326 245h6M336 244h6M296 185h6M268 223h6M308 235h6M332 275h6M265 217h6M347 213h6M342 216h6M279 216h6M310 190h6M320 217h6M365 197h6M343 218h6M302 261h6M352 207h6M279 190h6M297 273h6M296 244h6M279 239h6M370 264h6M313 260h6M294 184h6M301 182h6M345 273h6M330 255h6M318 226h6M350 207h6M260 266h6M315 193h6M345 205h6M289 280h6M356 291h6M392 291h6M356 232h6M299 287h6M368 231h6M286 255h6M384 284h6M292 198h6M337 227h6M312 293h6M348 281h6M297 240h6M370 264h6M375 278h6M341 228h6M299 205h6M303 225h6M330 226h6M336 274h6M310 249h6M373 209h6M314 274h6M341 264h6M314 239h6M353 224h6M387 255h6M327 181h6M387 291h6M353 284h6M385 238h6M287 274h6M275 236h6M254 207h6M329 208h6M329 190h6M326 294h6M307 233h6M285 226h6M260 235h6M303 173h6M331 239h6M260 273h6M391 266h6M378 237h6M282 241h6M303 261h6M323 208h6M318 235h6M426 238h6M318 298h6M267 226h6M278 251h6M322 235h6M269 238h6M350 272h6M304 237h6M333 216h6M281 250h6M362 295h6M349 242h6M336 193h6M311 172h6M307 184h6M319 210h6M335 217h6M351 194h6M375 296h6M322 205h6M340 205h6M336 236h6M377 267h6M284 243h6M305 289h6M369 239h6M334 208h6M284 251h6M345 215h6M389 258h6M391 187h6M314 259h6M353 254h6M298 232h6M277 264h6M294 248h6M364 298h6M372 249h6M246 237h6M289 277h6M262 237h6M239 230h6M310 236h6M343 236h6M361 252h6M299 203h6M371 267h6M311 192h6M300 225h6M344 249h6M356 271h6M300 208h6M312 214h6M347 284h6M344 213h6M369 274h6M297 264h6M348 227h6M360 172h6M384 155h6M331 229h6M321 256h6M318 279h6M261 282h6M383 226h6M254 233h6M337 247h6M362 214h6M363 202h6M293 232h6M325 160h6M301 238h6M302 258h6M345 215h6M292 232h6M401 277h6M298 194h6M292 249h6M381 258h6M297 202h6M356 269h6M319 244h6M372 250h6M371 275h6M312 271h6M291 286h6M266 202h6M355 195h6M329 256h6M309 275h6M355 238h6M311 209h6M420 294h6M330 259h6M335 250h6M323 239h6M264 97h6M213 254h6M377 224h6M451 125h6M255 176h6M289 119h6M176 202h6M326 64h6M184 142h6M223 44h6M310 77h6M278 77h6M344 210h6M322 151h6M360 138h6M168 252h6M429 89h6M240 206h6M202 51h6M361 104h6M263 118h6M321 98h6M266 129h6M177 180h6M151 146h6M458 131h6M245 155h6M319 249h6M242 65h6M265 97h6M160 150h6M213 201h6M360 196h6M195 78h6M312 22h6M201 87h6M209 182h6M301 129h6M329 187h6M325 223h6M414 119h6M156 117h6M183 188h6M248 85h6M285 179h6M394 153h6M243 103h6M171 107h6M303 165h6M234 220h6M159 171h6M216 207h6M312 179h6M328 205h6M174 85h6M216 222h6M64 200h6M237 166h6M192 161h6M343 49h6" stroke="#000" stroke-width="6" opacity=".72" fill="none"/>
<path d="M323.9 136.0V167.1M305.8 152.8H354.8" stroke="#555" stroke-width=".7" fill="none"/>
<path d="M302.5 136.3l1.7 .9M302.5 143.8l1.7 .9M302.5 151.2l1.7 .9M302.5 158.7l1.7 .9M302.5 166.2l1.7 .9" stroke="#4a4a4a" stroke-width="1.3" stroke-linecap="round" fill="none"/>
<path d="M305.2 170.1l2.4 -.8M317.1 170.1l2.4 -.8M328.9 170.1l2.4 -.8M340.8 170.1l2.4 -.8M352.7 170.1l2.4 -.8" stroke="#888" stroke-width="1.1" stroke-linecap="round" fill="none"/>
<path d="M305.8 136.0V167.1H354.8" stroke="#2a2a2a" stroke-width=".9" fill="none"/>
<text x="351.8" y="147.2" font-size="8.5" font-weight="bold" text-anchor="end" >1</text>
<rect x="360.2" y="136.0" width="47.6" height="31.1" fill="#fff" stroke="#5a5a5a" stroke-width=".7"/>
<clipPath id="c13"><rect x="360.2" y="136.0" width="47.6" height="31.1"/></clipPath><g clip-path="url(#c13)">
<ellipse cx="364.5" cy="142.8" rx="5.8" ry="5.5" fill="url(#g)" opacity="0.32"/>
<ellipse cx="367.8" cy="157.8" rx="8.4" ry="8.9" fill="url(#g)" opacity="0.07"/>
<ellipse cx="394.0" cy="158.1" rx="8.9" ry="8.2" fill="url(#g)" opacity="0.92"/>
</g>
<path transform="translate(360.2 136.0) scale(.1)" d="M71 59h6M46 32h6M52 73h6M92 32h6M35 74h6M55 113h6M14 98h6M36 48h6M57 76h6M41 86h6M22 66h6M47 65h6M51 43h6M42 66h6M106 80h6M12 72h6M94 83h6M62 83h6M78 25h6M49 62h6M50 21h6M72 40h6M56 95h6M46 72h6M10 52h6M50 61h6M59 44h6M41 48h6M39 74h6M29 104h6M116 103h6M10 65h6M80 90h6M18 58h6M44 55h6M48 119h6M71 122h6M56 36h6M54 111h6M42 59h6M66 35h6M35 65h6M44 77h6M71 72h6M82 75h6M102 90h6M46 42h6M33 56h6M76 61h6M41 79h6M41 87h6M27 50h6M35 93h6M16 16h6M44 54h6M52 62h6M83 76h6M30 62h6M84 52h6M51 109h6M61 92h6M15 73h6M79 86h6M64 72h6M61 44h6M82 102h6M63 92h6M11 64h6M42 86h6M74 46h6M85 82h6M29 46h6M84 56h6M23 65h6M71 99h6M33 19h6M80 70h6M34 70h6M54 120h6M26 73h6M21 39h6M24 75h6M30 57h6M44 54h6M41 40h6M14 86h6M109 57h6M71 45h6M32 62h6M30 80h6M45 95h6M35 75h6M19 96h6M23 51h6M16 71h6M83 50h6M17 70h6M63 101h6M61 51h6M63 12h6M49 109h6M64 125h6M30 71h6M38 88h6M72 67h6M59 78h6M47 34h6M48 90h6M27 28h6M68 108h6M36 94h6M34 97h6M12 75h6M25 21h6M27 87h6M53 87h6M33 52h6M36 78h6M21 81h6M42 68h6M77 91h6M98 106h6M48 45h6M20 76h6M74 55h6M59 81h6M24 91h6M28 110h6M30 36h6M24 21h6M53 35h6M53 72h6M48 71h6M54 90h6M13 81h6M11 99h6M52 57h6M34 42h6M59 46h6M57 100h6M65 101h6M18 27h6M33 60h6M45 38h6M105 84h6M53 74h6M26 26h6M16 61h6M78 107h6M17 90h6M43 87h6M42 54h6M20 48h6M61 122h6M85 54h6M90 24h6M60 74h6M36 76h6M10 46h6M10 52h6M44 25h6M49 66h6M28 59h6M62 26h6M43 61h6M52 80h6M94 63h6M64 34h6M33 45h6M44 102h6M21 70h6M77 109h6M64 61h6M53 68h6M20 40h6M47 27h6M14 43h6M64 45h6M29 44h6M44 88h6M103 97h6M48 40h6M84 68h6M19 85h6M56 81h6M33 25h6M70 77h6M24 71h6M83 70h6M70 93h6M26 73h6M25 79h6M46 86h6M44 64h6M43 80h6M63 17h6M32 91h6M21 79h6M53 82h6M55 57h6M75 37h6M69 48h6M36 91h6M33 68h6M47 45h6M43 14h6M24 60h6M60 61h6M85 69h6M53 67h6M39 47h6M41 70h6M16 90h6M46 104h6M44 89h6M38 60h6M13 94h6M48 93h6M71 45h6M34 38h6M67 199h6M43 217h6M53 217h6M121 247h6M90 270h6M79 222h6M76 150h6M76 166h6M135 229h6M46 255h6M77 181h6M116 245h6M100 269h6M21 175h6M63 221h6M39 195h6M101 160h6M115 233h6M88 193h6M37 178h6M147 255h6M36 215h6M29 191h6M83 292h6M17 280h6M110 164h6M41 268h6M153 250h6M85 240h6M50 193h6M40 208h6M58 222h6M57 264h6M29 253h6M84 265h6M72 288h6M60 288h6M39 243h6M87 209h6M86 213h6M89 231h6M24 217h6M101 177h6M94 239h6M112 219h6M41 194h6M54 259h6M119 236h6M55 261h6M29 267h6M62 223h6M36 255h6M97 270h6M91 247h6M50 226h6M54 242h6M82 184h6M110 151h6M61 241h6M141 259h6M34 216h6M80 246h6M86 197h6M73 212h6M65 217h6M48 180h6M82 244h6M65 217h6M88 240h6M57 198h6M185 217h6M13 193h6M95 218h6M38 189h6M164 166h6M118 224h6M126 227h6M111 209h6M63 263h6M36 150h6M98 227h6M56 235h6M75 179h6M65 251h6M68 173h6M124 223h6M89 289h6M76 215h6M150 222h6M52 212h6M100 270h6M52 191h6M88 240h6M67 200h6M19 249h6M70 155h6M110 220h6M32 250h6M120 244h6M174 201h6M39 233h6M88 261h6M72 177h6M42 269h6M76 215h6M113 186h6M101 156h6M77 197h6M107 252h6M76 221h6M12 196h6M141 287h6M73 183h6M30 206h6M29 266h6M60 150h6M35 286h6M106 233h6M43 186h6M130 255h6M95 165h6M101 286h6M52 144h6M31 211h6M20 230h6M65 239h6M58 221h6M99 285h6M146 228h6M43 139h6M56 169h6M84 238h6M120 158h6M41 157h6M79 181h6M51 236h6M102 262h6M27 271h6M69 235h6M119 229h6M154 206h6M40 160h6M141 229h6M53 201h6M132 230h6M117 237h6M129 227h6M168 240h6M77 204h6M170 223h6M107 155h6M71 142h6M73 234h6M25 227h6M115 190h6M77 227h6M131 219h6M116 199h6M111 175h6M45 239h6M100 227h6M129 242h6M75 216h6M66 222h6M49 196h6M57 203h6M124 187h6M74 140h6M64 222h6M30 193h6M76 165h6M51 213h6M83 234h6M41 271h6M114 234h6M62 207h6M162 290h6M78 196h6M117 213h6M100 296h6M54 236h6M76 272h6M67 215h6M102 238h6M78 154h6M119 249h6M83 194h6M26 214h6M54 201h6M58 169h6M101 211h6M80 238h6M56 181h6M20 201h6M105 266h6M121 257h6M90 198h6M58 206h6M69 176h6M89 251h6M273 76h6M278 146h6M255 136h6M267 113h6M293 117h6M314 108h6M258 76h6M246 139h6M295 147h6M257 99h6M296 106h6M249 136h6M283 105h6M284 118h6M281 115h6M330 99h6M298 107h6M273 121h6M255 132h6M333 63h6M256 147h6M326 72h6M290 152h6M331 126h6M312 106h6M263 138h6M262 141h6M301 121h6M310 120h6M266 110h6M248 152h6M277 66h6M315 106h6M311 139h6M296 102h6M280 121h6M303 98h6M240 126h6M324 122h6M255 154h6M334 128h6M266 110h6M333 72h6M240 163h6M243 100h6M270 123h6M337 122h6M254 121h6M227 124h6M315 153h6M258 114h6M244 139h6M257 109h6M291 139h6M261 103h6M258 130h6M238 118h6M283 135h6M289 123h6M296 94h6M346 143h6M290 126h6M241 79h6M274 117h6M288 94h6M295 76h6M321 115h6M312 78h6M286 157h6M270 139h6M265 114h6M266 113h6M258 185h6M249 137h6M275 138h6M322 214h6M312 184h6M334 205h6M336 243h6M309 292h6M347 194h6M326 247h6M344 214h6M289 137h6M304 278h6M318 248h6M325 241h6M331 223h6M382 168h6M366 201h6M326 218h6M335 281h6M356 196h6M366 167h6M354 201h6M240 196h6M366 202h6M346 222h6M342 258h6M326 140h6M321 269h6M252 236h6M341 273h6M294 166h6M351 155h6M375 253h6M343 262h6M401 259h6M320 268h6M313 161h6M319 212h6M315 295h6M261 158h6M286 242h6M404 251h6M392 188h6M360 229h6M226 201h6M349 251h6M344 176h6M370 216h6M315 148h6M268 247h6M334 238h6M274 239h6M368 147h6M368 160h6M374 198h6M351 162h6M367 244h6M381 278h6M365 217h6M333 217h6M301 219h6M311 190h6M354 247h6M361 197h6M363 204h6M350 214h6M270 277h6M349 291h6M393 223h6M334 209h6M400 163h6M313 184h6M325 183h6M331 227h6M295 254h6M326 215h6M303 258h6M406 218h6M344 155h6M415 216h6M359 218h6M255 184h6M303 204h6M426 245h6M332 182h6M368 193h6M276 228h6M355 221h6M301 223h6M351 142h6M397 233h6M360 198h6M283 229h6M394 213h6M277 236h6M362 226h6M334 254h6M332 284h6M319 146h6M344 240h6M420 168h6M329 238h6M288 207h6M292 180h6M331 182h6M349 230h6M378 237h6M341 219h6M288 205h6M286 221h6M374 249h6M399 222h6M325 265h6M279 244h6M314 208h6M366 262h6M286 200h6M361 153h6M309 225h6M414 251h6M294 220h6M296 218h6M308 197h6M337 245h6M303 277h6M319 223h6M309 159h6M369 252h6M335 214h6M351 195h6M276 283h6M362 246h6M363 213h6M274 211h6M349 194h6M378 244h6M362 239h6M314 217h6M353 140h6M366 277h6M350 189h6M333 272h6M364 223h6M423 259h6M321 277h6M326 237h6M304 189h6M375 224h6M341 179h6M318 209h6M363 166h6M323 251h6M353 197h6M359 220h6M326 272h6M273 188h6M384 259h6M356 195h6M347 242h6M363 277h6M270 222h6M391 224h6M377 245h6M402 255h6M382 166h6M282 231h6M319 248h6M342 192h6M344 197h6M308 232h6M357 266h6M355 230h6M346 206h6M360 142h6M387 182h6M370 233h6M403 216h6M298 169h6M373 282h6M297 223h6M455 211h6M347 263h6M286 221h6M293 209h6M356 171h6M351 263h6M342 220h6M302 213h6M384 238h6M410 180h6M311 228h6M355 197h6M321 199h6M362 200h6M306 267h6M361 193h6M241 207h6M304 187h6M365 188h6M357 189h6M366 197h6M413 205h6M331 243h6M343 203h6M314 209h6M275 213h6M374 229h6M335 289h6M330 192h6M328 209h6M395 240h6M300 223h6M338 270h6M365 207h6M382 253h6M363 233h6M353 226h6M337 196h6M367 205h6M301 269h6M336 201h6M315 219h6M339 198h6M398 200h6M305 281h6M372 236h6M349 219h6M329 189h6M277 258h6M307 163h6M333 124h6M308 254h6M320 198h6M422 248h6M369 216h6M338 288h6M357 233h6M343 254h6M361 224h6M312 200h6M359 232h6M365 186h6M239 169h6M318 206h6M286 240h6M335 187h6M376 223h6M326 212h6M327 245h6M253 248h6M369 231h6M441 228h6M359 244h6M372 168h6M278 183h6M392 237h6M239 259h6M395 252h6M280 227h6M371 264h6M307 279h6M378 213h6M314 211h6M343 172h6M360 251h6M367 234h6M457 232h6M328 261h6M344 226h6M420 300h6M303 271h6M320 283h6M311 202h6M335 239h6M338 277h6M385 195h6M364 208h6M297 186h6M333 248h6M335 227h6M307 140h6M375 299h6M293 183h6M376 246h6M380 261h6M289 209h6M331 264h6M316 147h6M394 197h6M319 196h6M299 250h6M346 225h6M358 191h6M296 273h6M329 194h6M289 200h6M248 252h6M323 272h6M357 213h6M297 214h6M222 256h6M327 199h6M416 196h6M402 254h6M327 221h6M407 125h6M376 193h6M383 231h6M284 211h6M283 129h6M275 202h6M256 183h6M368 286h6M387 293h6M323 252h6M280 215h6M213 185h6M336 253h6M287 274h6M371 239h6M322 228h6M345 274h6M300 209h6M283 240h6M347 191h6M397 267h6M370 247h6M400 285h6M359 196h6M311 191h6M356 233h6M331 196h6M328 261h6M293 220h6M358 197h6M322 236h6M360 268h6M324 254h6M363 230h6M259 159h6M310 192h6M366 200h6M346 212h6M240 210h6M304 251h6M323 232h6M296 221h6M345 197h6M422 247h6M399 281h6M292 202h6M359 257h6M333 216h6M338 169h6M361 184h6M394 182h6M296 283h6M324 257h6M346 260h6M388 227h6M343 234h6M320 175h6M312 216h6M343 215h6M371 242h6M339 258h6M422 176h6M343 246h6M319 247h6M388 253h6M371 243h6M397 265h6M327 237h6M332 195h6M330 256h6M330 262h6M357 244h6M301 198h6M381 252h6M308 175h6M293 242h6M298 291h6M276 236h6M321 183h6M360 251h6M330 185h6M364 252h6M319 131h6M340 197h6M340 275h6M331 253h6M408 140h6M381 171h6M310 214h6M316 243h6M313 210h6M368 197h6M239 221h6M311 168h6M426 242h6M328 222h6M227 257h6M296 251h6M240 265h6M344 175h6M341 245h6M309 279h6M382 184h6M264 226h6M391 197h6M317 153h6M374 229h6M342 179h6M306 220h6M362 161h6M368 232h6M300 241h6M352 156h6M346 201h6M349 251h6M341 204h6M353 212h6M348 253h6M370 213h6M343 242h6M333 213h6M401 287h6M311 189h6M326 142h6M407 247h6M419 253h6M249 180h6M377 219h6M360 236h6M301 163h6M361 220h6M380 236h6M269 197h6M318 229h6M279 133h6M363 168h6M354 261h6M375 252h6M382 165h6M313 241h6M398 204h6M279 208h6M402 237h6M273 196h6M361 258h6M365 281h6M346 241h6M351 260h6M337 256h6M368 201h6M359 223h6M343 218h6M347 231h6M284 186h6M339 191h6M272 300h6M330 170h6M373 230h6M356 223h6M324 236h6M279 234h6M376 253h6M366 225h6M386 252h6M256 199h6M280 201h6M413 195h6M373 180h6M271 181h6M328 196h6M242 192h6M338 204h6M285 160h6M307 250h6M332 196h6M293 249h6M314 205h6M282 217h6M362 186h6M354 207h6M358 184h6M309 187h6M336 199h6M284 214h6M374 249h6M338 210h6M389 182h6M436 255h6M353 235h6M409 165h6M302 224h6M327 248h6M352 187h6M288 281h6M303 175h6M303 202h6M360 215h6M274 281h6M400 222h6M268 237h6M354 214h6M378 285h6M330 215h6M347 228h6M330 280h6M381 268h6M284 242h6M323 156h6M398 164h6M288 136h6M289 234h6M398 258h6M350 255h6M322 218h6M332 187h6M392 163h6M345 225h6M272 171h6M354 189h6M343 204h6M338 202h6M329 253h6M273 183h6M355 236h6M367 229h6M241 260h6M307 216h6M283 248h6M344 176h6M360 260h6M364 146h6M367 243h6M434 248h6M412 229h6M264 148h6M387 243h6M346 273h6M334 226h6M351 223h6M317 220h6M357 269h6M339 236h6M361 186h6M297 225h6M324 183h6M315 156h6M383 239h6M387 133h6M336 230h6M308 253h6M337 237h6M336 210h6" stroke="#000" stroke-width="6" opacity=".72" fill="none"/>
<path d="M377.8 136.0V167.1M360.2 152.8H407.8" stroke="#555" stroke-width=".7" fill="none"/>
<path d="M356.9 136.3l1.7 .9M356.9 143.8l1.7 .9M356.9 151.2l1.7 .9M356.9 158.7l1.7 .9M356.9 166.2l1.7 .9" stroke="#4a4a4a" stroke-width="1.3" stroke-linecap="round" fill="none"/>
<path d="M359.6 170.1l2.4 -.8M371.1 170.1l2.4 -.8M382.6 170.1l2.4 -.8M394.2 170.1l2.4 -.8M405.7 170.1l2.4 -.8" stroke="#888" stroke-width="1.1" stroke-linecap="round" fill="none"/>
<path d="M360.2 136.0V167.1H407.8" stroke="#2a2a2a" stroke-width=".9" fill="none"/>
<text x="404.8" y="147.2" font-size="8.5" font-weight="bold" text-anchor="end" >4</text>
<rect x="415.0" y="136.0" width="48.0" height="31.1" fill="#fff" stroke="#5a5a5a" stroke-width=".7"/>
<clipPath id="c14"><rect x="415.0" y="136.0" width="48.0" height="31.1"/></clipPath><g clip-path="url(#c14)">
<ellipse cx="421.7" cy="142.8" rx="7.4" ry="6.2" fill="url(#g)" opacity="0.29"/>
<ellipse cx="422.7" cy="157.8" rx="8.4" ry="8.9" fill="url(#g)" opacity="0.07"/>
<ellipse cx="444.3" cy="148.8" rx="4.8" ry="2.7" fill="url(#g)" opacity="0.24"/>
<ellipse cx="448.6" cy="158.1" rx="7.4" ry="6.8" fill="url(#g)" opacity="0.92"/>
</g>
<path transform="translate(415.0 136.0) scale(.1)" d="M51 69h6M112 65h6M41 50h6M96 109h6M88 80h6M92 38h6M52 82h6M79 123h6M50 93h6M121 42h6M62 87h6M81 78h6M119 103h6M34 48h6M37 62h6M92 74h6M99 85h6M47 12h6M49 33h6M22 58h6M133 53h6M93 87h6M69 43h6M131 68h6M135 76h6M64 68h6M51 49h6M88 46h6M91 37h6M105 47h6M133 102h6M63 103h6M58 67h6M82 66h6M109 36h6M32 23h6M57 61h6M29 85h6M19 40h6M119 50h6M68 70h6M62 87h6M59 69h6M42 63h6M66 95h6M44 38h6M54 51h6M58 104h6M52 120h6M108 68h6M63 71h6M38 84h6M84 59h6M51 83h6M22 52h6M34 19h6M33 84h6M110 42h6M48 84h6M72 49h6M45 98h6M67 77h6M38 41h6M105 73h6M26 78h6M58 101h6M98 42h6M42 67h6M51 83h6M58 117h6M32 27h6M48 53h6M49 50h6M36 80h6M65 58h6M18 83h6M113 63h6M67 101h6M64 92h6M53 46h6M115 29h6M91 103h6M72 69h6M101 39h6M63 77h6M72 22h6M75 55h6M113 125h6M18 76h6M88 135h6M52 116h6M117 82h6M73 118h6M34 82h6M70 78h6M84 128h6M117 71h6M59 106h6M80 97h6M70 79h6M80 40h6M38 66h6M69 54h6M78 105h6M72 66h6M132 100h6M54 68h6M47 64h6M54 44h6M90 57h6M38 53h6M32 65h6M60 43h6M99 74h6M95 71h6M87 26h6M56 96h6M49 78h6M17 18h6M17 124h6M87 44h6M80 65h6M80 56h6M65 98h6M94 73h6M88 72h6M78 41h6M60 108h6M71 81h6M120 100h6M129 98h6M125 38h6M85 71h6M13 77h6M76 73h6M83 70h6M125 58h6M70 22h6M61 84h6M83 87h6M73 75h6M51 114h6M34 63h6M23 96h6M57 67h6M22 113h6M47 100h6M69 68h6M62 49h6M85 88h6M148 24h6M60 44h6M52 32h6M34 90h6M49 60h6M97 76h6M79 65h6M72 56h6M113 65h6M47 59h6M77 52h6M122 80h6M89 73h6M33 56h6M87 73h6M50 31h6M40 84h6M116 62h6M56 17h6M53 79h6M42 73h6M47 53h6M52 108h6M110 105h6M30 36h6M34 61h6M96 110h6M18 94h6M51 56h6M98 22h6M99 126h6M108 45h6M79 83h6M34 113h6M65 99h6M63 55h6M53 87h6M85 104h6M13 21h6M94 63h6M110 85h6M61 75h6M55 43h6M75 55h6M64 63h6M23 64h6M78 42h6M91 52h6M107 115h6M76 42h6M64 123h6M60 81h6M69 58h6M79 108h6M127 32h6M57 60h6M104 53h6M44 54h6M70 85h6M83 38h6M25 148h6M68 42h6M111 40h6M57 100h6M87 116h6M73 89h6M42 65h6M120 81h6M67 41h6M100 124h6M81 112h6M85 46h6M92 53h6M77 105h6M73 73h6M25 52h6M69 27h6M95 90h6M75 49h6M31 44h6M73 58h6M16 68h6M37 32h6M58 66h6M84 24h6M67 85h6M86 47h6M39 65h6M65 82h6M66 76h6M94 15h6M58 51h6M53 42h6M60 86h6M73 73h6M49 125h6M17 81h6M77 90h6M50 82h6M35 62h6M107 68h6M119 87h6M39 74h6M37 72h6M108 34h6M96 11h6M36 85h6M54 116h6M37 30h6M76 22h6M45 50h6M24 61h6M61 57h6M81 42h6M62 17h6M23 79h6M33 84h6M121 79h6M53 55h6M111 31h6M35 108h6M92 83h6M57 50h6M50 49h6M45 73h6M17 298h6M20 188h6M78 214h6M68 199h6M103 185h6M97 197h6M120 259h6M74 199h6M79 165h6M86 202h6M134 123h6M93 195h6M19 218h6M35 226h6M99 188h6M112 252h6M69 279h6M77 225h6M89 211h6M79 169h6M183 194h6M86 278h6M156 216h6M97 227h6M46 226h6M40 258h6M144 183h6M86 192h6M139 198h6M69 236h6M126 200h6M73 167h6M66 293h6M117 163h6M102 163h6M149 217h6M67 264h6M63 209h6M97 258h6M105 267h6M23 198h6M82 173h6M103 139h6M68 188h6M57 231h6M101 192h6M77 221h6M81 174h6M47 274h6M27 179h6M126 204h6M31 244h6M120 172h6M42 179h6M132 147h6M27 223h6M45 229h6M94 173h6M122 194h6M135 249h6M151 195h6M125 220h6M117 154h6M145 255h6M31 233h6M115 174h6M125 156h6M48 209h6M58 133h6M79 239h6M81 228h6M84 199h6M80 259h6M126 240h6M100 297h6M54 196h6M107 210h6M102 201h6M112 255h6M106 192h6M114 238h6M100 198h6M130 186h6M105 245h6M99 267h6M123 228h6M170 226h6M111 172h6M74 243h6M56 191h6M100 197h6M50 244h6M75 170h6M131 236h6M54 233h6M117 215h6M33 110h6M86 213h6M83 221h6M54 200h6M126 165h6M52 179h6M107 289h6M56 240h6M34 163h6M139 183h6M143 170h6M72 208h6M105 181h6M40 179h6M145 140h6M26 204h6M34 209h6M85 220h6M100 166h6M100 212h6M80 180h6M52 191h6M150 248h6M59 163h6M61 232h6M95 279h6M79 272h6M65 215h6M126 186h6M176 201h6M146 186h6M73 192h6M87 250h6M128 248h6M88 176h6M30 254h6M54 205h6M115 176h6M51 199h6M22 208h6M106 230h6M117 229h6M61 207h6M56 187h6M60 278h6M97 222h6M45 213h6M67 206h6M25 140h6M102 244h6M87 222h6M14 217h6M29 238h6M78 192h6M99 133h6M71 284h6M51 222h6M87 170h6M106 267h6M84 174h6M48 229h6M135 251h6M104 265h6M92 248h6M111 230h6M154 241h6M45 280h6M18 260h6M12 275h6M115 242h6M116 189h6M34 282h6M63 246h6M48 296h6M68 294h6M116 184h6M51 200h6M15 182h6M55 248h6M90 220h6M313 125h6M295 127h6M263 137h6M320 146h6M284 154h6M298 140h6M290 130h6M302 140h6M286 133h6M308 140h6M308 109h6M331 117h6M311 118h6M287 121h6M252 120h6M287 149h6M290 121h6M306 136h6M293 135h6M260 118h6M337 113h6M261 107h6M278 150h6M334 147h6M354 148h6M313 104h6M323 122h6M299 112h6M295 107h6M332 146h6M294 108h6M297 121h6M286 137h6M311 129h6M321 137h6M304 131h6M296 100h6M262 134h6M304 136h6M291 111h6M319 121h6M293 117h6M293 118h6M275 131h6M285 129h6M296 126h6M287 117h6M303 139h6M287 146h6M298 142h6M266 128h6M285 107h6M262 136h6M337 94h6M287 145h6M306 120h6M241 128h6M326 144h6M261 131h6M303 112h6M262 117h6M313 113h6M290 125h6M312 153h6M301 140h6M347 97h6M331 131h6M330 142h6M311 124h6M286 126h6M287 137h6M305 142h6M300 127h6M317 135h6M263 143h6M289 116h6M284 116h6M291 115h6M270 121h6M312 128h6M295 133h6M301 123h6M309 136h6M247 119h6M293 145h6M302 100h6M299 131h6M295 128h6M312 138h6M258 113h6M299 107h6M335 118h6M296 140h6M279 115h6M304 115h6M310 132h6M308 127h6M280 114h6M255 105h6M282 137h6M314 107h6M299 122h6M299 119h6M288 147h6M280 115h6M319 134h6M297 153h6M309 122h6M312 123h6M285 140h6M266 133h6M284 119h6M340 187h6M358 192h6M328 213h6M339 275h6M295 215h6M339 253h6M359 197h6M351 258h6M356 214h6M340 183h6M300 193h6M391 199h6M375 200h6M381 193h6M293 229h6M362 200h6M335 198h6M306 250h6M386 235h6M363 220h6M336 194h6M356 229h6M367 235h6M303 174h6M330 224h6M287 220h6M287 227h6M291 209h6M341 208h6M342 213h6M282 196h6M331 217h6M291 250h6M362 182h6M342 194h6M308 188h6M390 217h6M373 205h6M309 235h6M380 291h6M320 224h6M292 204h6M377 244h6M319 176h6M332 290h6M291 226h6M299 203h6M346 191h6M332 212h6M324 222h6M274 229h6M396 216h6M283 241h6M316 208h6M327 257h6M318 201h6M351 200h6M332 245h6M339 238h6M341 269h6M341 229h6M322 244h6M274 183h6M388 212h6M355 268h6M310 247h6M300 207h6M378 217h6M304 204h6M360 249h6M370 144h6M284 201h6M369 188h6M284 105h6M279 251h6M386 217h6M332 212h6M362 240h6M360 196h6M367 282h6M362 248h6M329 210h6M408 220h6M331 200h6M362 267h6M308 157h6M318 231h6M312 212h6M375 251h6M298 230h6M330 232h6M339 237h6M303 233h6M280 203h6M301 205h6M348 258h6M318 262h6M322 216h6M293 208h6M415 232h6M359 242h6M280 202h6M347 180h6M370 213h6M309 199h6M376 232h6M373 164h6M379 219h6M350 264h6M296 210h6M361 237h6M359 175h6M349 222h6M361 177h6M324 218h6M394 224h6M290 186h6M329 135h6M325 259h6M353 160h6M316 256h6M291 205h6M297 192h6M303 125h6M369 232h6M323 231h6M329 211h6M344 242h6M355 219h6M391 220h6M290 266h6M318 188h6M340 224h6M332 178h6M328 236h6M391 235h6M378 267h6M369 247h6M365 240h6M300 172h6M311 238h6M380 212h6M322 265h6M372 228h6M332 162h6M378 232h6M332 222h6M326 236h6M335 213h6M361 178h6M337 201h6M250 123h6M373 287h6M353 258h6M374 221h6M336 272h6M348 243h6M273 223h6M376 198h6M320 231h6M356 187h6M339 241h6M290 245h6M274 250h6M359 262h6M261 221h6M325 224h6M305 260h6M330 217h6M297 205h6M271 210h6M310 221h6M274 211h6M355 209h6M331 190h6M319 225h6M318 245h6M293 208h6M354 254h6M275 233h6M320 219h6M337 215h6M351 213h6M364 238h6M274 236h6M333 159h6M285 191h6M361 232h6M334 176h6M341 221h6M347 238h6M343 206h6M337 132h6M361 239h6M343 192h6M341 206h6M337 251h6M354 219h6M340 222h6M331 207h6M355 204h6M337 232h6M330 225h6M382 234h6M340 206h6M308 223h6M342 258h6M303 257h6M330 225h6M366 245h6M351 197h6M335 214h6M374 193h6M378 225h6M315 224h6M350 186h6M376 215h6M370 207h6M316 243h6M358 221h6M285 252h6M363 173h6M285 213h6M352 225h6M289 228h6M350 237h6M329 199h6M309 247h6M343 223h6M348 242h6M350 251h6M290 255h6M363 203h6M357 198h6M347 207h6M243 244h6M293 245h6M329 274h6M231 192h6M284 234h6M308 185h6M308 199h6M350 240h6M394 149h6M268 175h6M343 208h6M368 234h6M316 201h6M396 191h6M299 191h6M349 229h6M360 175h6M343 191h6M339 172h6M305 209h6M336 150h6M348 198h6M339 240h6M385 256h6M373 252h6M288 202h6M333 220h6M378 238h6M361 232h6M283 260h6M347 218h6M290 169h6M358 247h6M289 168h6M344 198h6M378 236h6M339 139h6M392 212h6M297 231h6M322 239h6M395 185h6M372 192h6M347 238h6M398 224h6M351 211h6M321 203h6M279 165h6M317 240h6M340 265h6M288 205h6M329 259h6M305 236h6M375 256h6M324 216h6M370 214h6M359 223h6M372 235h6M353 210h6M356 217h6M442 233h6M342 212h6M270 220h6M352 234h6M331 258h6M352 201h6M301 258h6M322 203h6M297 200h6M360 238h6M334 246h6M371 246h6M274 220h6M322 276h6M392 233h6M306 254h6M332 203h6M376 228h6M338 198h6M312 277h6M313 174h6M385 209h6M332 223h6M412 180h6M347 230h6M350 233h6M347 299h6M349 262h6M337 198h6M329 169h6M413 176h6M385 206h6M327 201h6M317 192h6M333 227h6M260 168h6M343 261h6M347 183h6M394 196h6M328 218h6M308 281h6M322 230h6M310 201h6M331 219h6M349 192h6M372 247h6M351 207h6M379 221h6M360 236h6M297 229h6M362 182h6M382 188h6M276 245h6M365 244h6M326 263h6M377 253h6M347 213h6M330 203h6M330 275h6M316 259h6M334 256h6M401 169h6M315 211h6M327 206h6M345 212h6M341 221h6M349 143h6M396 217h6M366 274h6M303 230h6M341 237h6M284 203h6M387 204h6M328 184h6M340 231h6M353 286h6M330 246h6M291 217h6M319 228h6M380 220h6M357 244h6M353 236h6M314 253h6M339 199h6M272 289h6M342 244h6M370 217h6M308 243h6M347 277h6M330 214h6M288 206h6M278 149h6M333 225h6M380 204h6M352 218h6M304 212h6M333 212h6M341 235h6M297 209h6M352 194h6M376 196h6M344 220h6M331 202h6M338 220h6M360 150h6M345 224h6M309 241h6M322 226h6M383 265h6M310 249h6M370 202h6M348 232h6M341 169h6M341 193h6M340 249h6M366 207h6M327 164h6M361 238h6M349 203h6M280 228h6M362 260h6M341 248h6M286 261h6M395 199h6M302 228h6M366 210h6M259 251h6M377 221h6M365 197h6M309 175h6M360 191h6M366 224h6M322 207h6M322 153h6M348 211h6M357 182h6M320 190h6M316 221h6M343 178h6M323 273h6M377 235h6M338 204h6M327 202h6M289 179h6M318 261h6M308 167h6M351 217h6M329 214h6M300 257h6M383 203h6M343 219h6M340 226h6M265 196h6M348 228h6M267 242h6M351 185h6M331 238h6M291 237h6M374 282h6M386 203h6M379 177h6M355 240h6M301 217h6M318 203h6M384 227h6M335 236h6M332 256h6M299 200h6M313 192h6M321 215h6M345 213h6M319 197h6M385 227h6M340 177h6M293 216h6M348 238h6M335 231h6M328 203h6M323 210h6M355 263h6M331 227h6M371 163h6M339 220h6M337 204h6M312 224h6M302 218h6M347 204h6M323 211h6M361 204h6M313 237h6M376 191h6M380 188h6M378 252h6M349 248h6M354 257h6M346 243h6M374 213h6M263 208h6M310 247h6M384 193h6M358 188h6M356 239h6M327 224h6M354 257h6M354 193h6M290 202h6M298 179h6M393 242h6M297 218h6M349 198h6M296 216h6M350 253h6M299 195h6M358 225h6M290 220h6M322 241h6M369 230h6M338 218h6M343 215h6M302 205h6M339 239h6M355 260h6M302 173h6M327 238h6M258 214h6M377 167h6M292 165h6" stroke="#000" stroke-width="6" opacity=".72" fill="none"/>
<path d="M434.0 136.0V167.1M415.0 152.2H463.0" stroke="#555" stroke-width=".7" fill="none"/>
<path d="M411.7 136.3l1.7 .9M411.7 143.8l1.7 .9M411.7 151.2l1.7 .9M411.7 158.7l1.7 .9M411.7 166.2l1.7 .9" stroke="#4a4a4a" stroke-width="1.3" stroke-linecap="round" fill="none"/>
<path d="M414.4 170.1l2.4 -.8M426.0 170.1l2.4 -.8M437.6 170.1l2.4 -.8M449.3 170.1l2.4 -.8M460.9 170.1l2.4 -.8" stroke="#888" stroke-width="1.1" stroke-linecap="round" fill="none"/>
<path d="M415.0 136.0V167.1H463.0" stroke="#2a2a2a" stroke-width=".9" fill="none"/>
<text x="460.0" y="147.2" font-size="8.5" font-weight="bold" text-anchor="end" >6</text>
<rect x="251.8" y="174.3" width="48.6" height="31.1" fill="#fff" stroke="#5a5a5a" stroke-width=".7"/>
<clipPath id="c15"><rect x="251.8" y="174.3" width="48.6" height="31.1"/></clipPath><g clip-path="url(#c15)">
<ellipse cx="260.1" cy="183.6" rx="9.6" ry="7.5" fill="url(#g)" opacity="0.21"/>
<ellipse cx="258.6" cy="198.9" rx="8.6" ry="6.5" fill="url(#g)" opacity="0.21"/>
<ellipse cx="284.4" cy="197.3" rx="8.6" ry="7.5" fill="url(#g)" opacity="0.92"/>
</g>
<path transform="translate(251.8 174.3) scale(.1)" d="M70 98h6M129 137h6M37 104h6M65 61h6M106 42h6M36 104h6M30 80h6M69 98h6M112 65h6M65 138h6M88 115h6M55 61h6M102 89h6M34 41h6M37 80h6M55 96h6M127 120h6M118 122h6M135 96h6M102 140h6M145 34h6M92 115h6M25 101h6M124 110h6M131 16h6M54 90h6M67 177h6M62 81h6M149 92h6M116 114h6M120 106h6M141 88h6M118 120h6M48 99h6M123 73h6M124 85h6M128 141h6M114 148h6M44 103h6M17 38h6M132 49h6M40 83h6M109 104h6M115 120h6M87 84h6M119 108h6M91 69h6M115 19h6M29 87h6M72 119h6M146 40h6M98 91h6M150 134h6M147 89h6M59 141h6M117 97h6M133 110h6M55 69h6M94 53h6M35 164h6M52 88h6M63 71h6M70 89h6M116 102h6M98 93h6M115 76h6M136 104h6M110 75h6M59 105h6M108 105h6M129 81h6M88 104h6M95 17h6M77 99h6M120 41h6M19 109h6M74 65h6M168 147h6M67 88h6M96 111h6M77 58h6M102 54h6M91 80h6M60 124h6M60 116h6M119 122h6M21 96h6M96 95h6M109 96h6M96 155h6M97 62h6M146 136h6M47 91h6M71 97h6M104 139h6M56 98h6M110 85h6M14 124h6M53 123h6M19 147h6M39 72h6M107 89h6M66 130h6M149 153h6M94 79h6M93 85h6M59 139h6M87 105h6M124 135h6M82 142h6M115 82h6M111 106h6M90 54h6M41 38h6M36 90h6M88 95h6M76 46h6M110 143h6M48 91h6M95 76h6M116 57h6M133 54h6M118 100h6M44 108h6M95 61h6M110 45h6M75 79h6M89 85h6M61 137h6M101 97h6M49 57h6M82 126h6M114 98h6M28 74h6M87 138h6M57 136h6M122 120h6M86 93h6M51 104h6M136 102h6M104 51h6M115 64h6M16 106h6M118 24h6M128 106h6M120 144h6M124 115h6M56 117h6M101 101h6M108 96h6M87 42h6M70 61h6M83 63h6M27 111h6M152 77h6M44 119h6M103 104h6M119 96h6M135 108h6M75 106h6M138 142h6M85 172h6M72 41h6M32 40h6M96 77h6M81 62h6M89 65h6M73 123h6M80 115h6M26 25h6M110 88h6M59 25h6M64 86h6M104 41h6M71 114h6M79 95h6M57 44h6M34 169h6M83 76h6M112 89h6M75 126h6M85 36h6M79 72h6M20 101h6M121 79h6M102 89h6M55 127h6M62 76h6M170 107h6M79 108h6M98 114h6M106 119h6M124 84h6M34 35h6M34 155h6M151 33h6M94 83h6M144 59h6M38 145h6M66 125h6M120 74h6M136 48h6M142 53h6M100 154h6M49 59h6M19 86h6M66 147h6M158 130h6M108 95h6M122 66h6M24 93h6M48 95h6M88 153h6M26 140h6M90 41h6M73 55h6M24 58h6M17 108h6M196 125h6M63 61h6M54 85h6M63 26h6M161 77h6M80 126h6M69 63h6M74 17h6M139 52h6M60 56h6M12 48h6M45 73h6M98 56h6M45 98h6M110 115h6M70 104h6M12 127h6M59 11h6M86 102h6M97 116h6M95 113h6M66 129h6M161 136h6M77 103h6M50 81h6M81 135h6M69 126h6M23 69h6M27 66h6M82 88h6M38 80h6M74 113h6M67 126h6M87 123h6M139 83h6M139 86h6M52 97h6M174 115h6M156 94h6M96 63h6M79 125h6M55 104h6M24 65h6M74 145h6M103 115h6M67 38h6M54 119h6M131 57h6M81 73h6M182 112h6M104 84h6M97 118h6M78 74h6M73 70h6M88 70h6M128 142h6M131 93h6M41 110h6M112 101h6M50 77h6M139 88h6M120 111h6M59 109h6M63 123h6M78 83h6M64 71h6M24 68h6M40 166h6M106 105h6M76 78h6M114 54h6M60 43h6M88 138h6M24 56h6M130 73h6M124 85h6M75 75h6M79 65h6M96 70h6M76 112h6M78 45h6M86 108h6M66 108h6M133 81h6M86 86h6M92 49h6M76 114h6M125 137h6M53 13h6M92 78h6M125 54h6M81 52h6M78 141h6M108 258h6M98 254h6M60 285h6M106 250h6M106 255h6M111 199h6M32 231h6M74 232h6M77 228h6M43 234h6M28 266h6M15 272h6M57 223h6M134 234h6M98 297h6M18 231h6M108 257h6M83 259h6M74 188h6M118 264h6M99 268h6M70 225h6M80 239h6M94 207h6M112 279h6M29 194h6M70 229h6M59 224h6M69 218h6M62 251h6M87 253h6M102 193h6M35 188h6M36 244h6M84 233h6M12 265h6M62 275h6M116 259h6M76 272h6M128 236h6M41 278h6M88 218h6M104 224h6M106 247h6M27 245h6M59 241h6M73 256h6M90 258h6M48 281h6M96 255h6M78 247h6M44 210h6M88 279h6M84 226h6M74 253h6M33 252h6M136 227h6M30 234h6M68 233h6M83 232h6M76 252h6M14 212h6M24 209h6M99 228h6M116 278h6M50 214h6M46 277h6M128 229h6M95 275h6M78 262h6M87 257h6M11 278h6M117 232h6M26 249h6M68 260h6M69 247h6M30 276h6M60 274h6M78 206h6M87 261h6M60 246h6M48 244h6M82 232h6M50 271h6M29 235h6M136 271h6M49 228h6M14 268h6M67 265h6M90 226h6M131 276h6M114 226h6M63 234h6M74 262h6M69 205h6M101 257h6M59 267h6M40 241h6M99 275h6M82 232h6M84 247h6M52 281h6M10 245h6M130 173h6M120 269h6M70 185h6M88 236h6M65 265h6M67 227h6M158 294h6M54 275h6M117 255h6M98 274h6M75 275h6M53 283h6M21 237h6M109 294h6M107 257h6M94 257h6M60 251h6M112 247h6M105 261h6M68 252h6M120 264h6M62 225h6M72 231h6M146 246h6M53 227h6M76 222h6M106 194h6M43 215h6M41 282h6M119 194h6M105 282h6M69 264h6M61 227h6M58 235h6M92 288h6M26 247h6M99 294h6M92 207h6M84 235h6M62 236h6M81 258h6M27 232h6M110 214h6M91 245h6M48 261h6M81 213h6M52 243h6M53 277h6M66 243h6M59 293h6M92 230h6M75 279h6M46 248h6M27 247h6M66 221h6M131 241h6M73 293h6M68 202h6M91 232h6M50 259h6M99 279h6M128 268h6M36 285h6M114 242h6M117 203h6M99 219h6M43 234h6M103 216h6M41 208h6M58 212h6M61 259h6M34 272h6M72 244h6M47 185h6M85 271h6M29 223h6M111 238h6M108 218h6M36 236h6M33 214h6M48 262h6M59 270h6M25 234h6M11 233h6M135 247h6M81 224h6M76 201h6M156 176h6M97 232h6M72 237h6M108 235h6M82 231h6M135 238h6M73 260h6M120 228h6M50 205h6M63 254h6M151 210h6M69 215h6M69 238h6M95 245h6M59 259h6M89 230h6M108 227h6M31 220h6M39 262h6M96 225h6M83 262h6M98 238h6M45 255h6M101 239h6M139 241h6M117 221h6M50 277h6M39 236h6M99 210h6M77 244h6M107 193h6M54 221h6M79 283h6M52 249h6M150 213h6M11 226h6M77 233h6M26 222h6M34 236h6M114 256h6M141 253h6M82 229h6M101 247h6M97 218h6M80 287h6M12 218h6M78 218h6M91 281h6M74 259h6M60 242h6M189 215h6M79 231h6M61 270h6M69 285h6M48 249h6M124 219h6M32 225h6M69 283h6M57 268h6M49 247h6M12 197h6M89 225h6M96 236h6M52 256h6M79 214h6M15 215h6M66 263h6M86 239h6M57 148h6M25 261h6M96 223h6M15 276h6M82 229h6M12 234h6M32 236h6M48 215h6M108 241h6M29 224h6M123 244h6M93 250h6M108 231h6M70 220h6M306 130h6M308 112h6M273 104h6M323 98h6M240 134h6M315 142h6M270 124h6M344 84h6M312 129h6M296 89h6M300 137h6M355 140h6M270 120h6M231 118h6M287 128h6M309 153h6M294 130h6M251 133h6M284 104h6M229 75h6M283 97h6M303 128h6M277 155h6M251 122h6M241 135h6M229 133h6M245 145h6M287 153h6M254 144h6M327 117h6M270 106h6M311 121h6M293 90h6M306 99h6M288 112h6M279 107h6M268 118h6M290 153h6M308 129h6M252 120h6M258 114h6M336 122h6M320 124h6M264 77h6M260 156h6M363 134h6M281 120h6M303 106h6M354 161h6M249 141h6M269 148h6M303 136h6M301 99h6M289 85h6M266 99h6M303 139h6M327 108h6M272 96h6M261 127h6M302 111h6M331 153h6M292 87h6M266 161h6M293 96h6M359 114h6M275 109h6M293 112h6M303 119h6M306 145h6M342 100h6M326 114h6M338 114h6M391 137h6M328 146h6M276 125h6M306 234h6M392 209h6M229 225h6M295 221h6M214 203h6M360 278h6M380 239h6M359 244h6M332 232h6M256 230h6M370 271h6M301 127h6M346 270h6M344 265h6M343 244h6M300 218h6M338 245h6M311 293h6M339 183h6M294 235h6M337 229h6M333 276h6M318 270h6M334 258h6M367 200h6M374 152h6M336 270h6M355 232h6M325 185h6M349 247h6M312 267h6M327 219h6M321 213h6M337 200h6M287 221h6M408 156h6M284 221h6M294 246h6M320 242h6M330 227h6M296 293h6M328 192h6M277 106h6M368 273h6M344 210h6M303 240h6M317 229h6M328 263h6M302 253h6M288 265h6M407 181h6M247 193h6M283 243h6M347 207h6M280 228h6M298 201h6M331 184h6M338 174h6M314 238h6M267 281h6M318 162h6M301 194h6M303 188h6M335 214h6M255 188h6M295 253h6M255 179h6M353 226h6M300 160h6M318 209h6M251 225h6M316 185h6M294 185h6M406 196h6M388 270h6M388 261h6M283 216h6M296 212h6M359 260h6M352 240h6M413 242h6M336 240h6M342 228h6M343 193h6M327 199h6M346 215h6M325 255h6M334 284h6M317 244h6M345 207h6M336 226h6M357 195h6M294 239h6M329 180h6M344 233h6M330 218h6M303 251h6M305 254h6M302 240h6M278 258h6M298 236h6M335 233h6M307 177h6M288 182h6M249 247h6M306 244h6M331 211h6M296 245h6M332 243h6M361 217h6M332 224h6M336 233h6M249 225h6M360 277h6M293 215h6M297 228h6M279 241h6M327 255h6M375 240h6M272 248h6M288 242h6M293 192h6M344 212h6M308 228h6M343 207h6M333 220h6M375 285h6M311 202h6M272 291h6M387 253h6M295 217h6M337 295h6M245 244h6M340 268h6M353 222h6M329 216h6M314 199h6M320 263h6M390 252h6M295 226h6M316 214h6M339 166h6M313 212h6M386 259h6M322 205h6M276 224h6M349 272h6M279 226h6M343 246h6M270 246h6M324 231h6M314 262h6M360 256h6M284 243h6M311 251h6M363 219h6M276 233h6M337 192h6M324 215h6M360 204h6M303 197h6M335 252h6M329 259h6M306 194h6M294 232h6M400 247h6M337 238h6M236 268h6M352 218h6M379 236h6M364 195h6M318 216h6M344 176h6M312 255h6M362 226h6M349 256h6M362 237h6M290 248h6M299 211h6M256 259h6M293 216h6M312 209h6M324 235h6M351 219h6M357 259h6M286 224h6M297 202h6M248 248h6M269 270h6M342 215h6M322 153h6M324 238h6M357 222h6M278 201h6M306 215h6M288 202h6M280 207h6M341 225h6M314 242h6M377 261h6M306 246h6M357 246h6M418 218h6M311 243h6M303 206h6M299 247h6M320 223h6M346 195h6M396 221h6M279 212h6M319 235h6M311 159h6M255 254h6M384 298h6M346 203h6M378 210h6M416 196h6M303 243h6M310 243h6M334 220h6M299 149h6M336 237h6M292 223h6M381 197h6M302 179h6M335 177h6M300 196h6M326 256h6M306 172h6M362 220h6M307 198h6M337 253h6M270 251h6M297 226h6M241 293h6M302 196h6M224 228h6M347 233h6M283 206h6M295 236h6M287 252h6M326 229h6M334 239h6M316 256h6M359 211h6M311 270h6M263 276h6M354 267h6M276 250h6M326 189h6M224 252h6M350 195h6M248 250h6M394 197h6M290 188h6M329 183h6M421 243h6M336 170h6M356 262h6M361 213h6M290 185h6M327 123h6M362 235h6M367 270h6M309 269h6M325 285h6M365 190h6M346 244h6M331 187h6M376 252h6M379 234h6M296 197h6M340 246h6M313 231h6M305 252h6M358 241h6M303 237h6M340 212h6M368 218h6M323 208h6M383 294h6M342 232h6M272 178h6M297 223h6M314 191h6M327 236h6M362 203h6M271 224h6M256 169h6M319 223h6M307 242h6M335 217h6M300 257h6M343 274h6M349 245h6M336 195h6M328 236h6M354 236h6M349 246h6M336 225h6M314 256h6M373 188h6M368 268h6M339 193h6M385 265h6M326 256h6M311 230h6M317 252h6M343 236h6M363 214h6M315 175h6M331 247h6M289 253h6M324 251h6M337 192h6M306 229h6M369 207h6M384 179h6M318 206h6M335 230h6M341 249h6M332 199h6M350 236h6M235 214h6M333 235h6M254 246h6M331 196h6M276 202h6M368 299h6M348 209h6M266 186h6M349 210h6M322 248h6M357 203h6M361 252h6M290 224h6M283 257h6M286 214h6M314 270h6M342 225h6M342 244h6M311 251h6M302 207h6M320 239h6M305 199h6M277 241h6M312 268h6M316 249h6M369 245h6M348 216h6M331 296h6M333 175h6M349 183h6M401 287h6M405 165h6M331 124h6M403 260h6M286 277h6M269 252h6M367 278h6M326 237h6M337 245h6M323 255h6M363 255h6M303 277h6M297 207h6M345 186h6M333 281h6M340 189h6M335 230h6M303 216h6M363 259h6M326 240h6M320 250h6M302 281h6M359 248h6M286 253h6M337 168h6M298 225h6M277 214h6M373 287h6M357 206h6M287 229h6M327 193h6M327 238h6M314 218h6M374 225h6M334 182h6M345 181h6M333 172h6M334 220h6M323 192h6M350 202h6M275 263h6M343 284h6M298 202h6M334 283h6M372 248h6M351 214h6M309 235h6M309 222h6M314 214h6M284 212h6M274 256h6M218 216h6M307 195h6M343 215h6M400 179h6M379 245h6M341 218h6M259 214h6M327 192h6M365 193h6M288 216h6M336 203h6M320 283h6M348 239h6M290 268h6M325 267h6M312 197h6M369 198h6M324 258h6M343 178h6M337 289h6M361 199h6M390 241h6M279 285h6M298 262h6M361 252h6M327 260h6M285 232h6M253 254h6M283 283h6M282 200h6M307 271h6M345 244h6M379 185h6M358 236h6M261 201h6M360 191h6M333 217h6M289 199h6M271 216h6M428 190h6M301 228h6M334 228h6M275 196h6M296 206h6M308 242h6M324 255h6M301 271h6M310 231h6M324 261h6M251 206h6M303 251h6M341 237h6M386 247h6M373 233h6M351 197h6M366 199h6M360 250h6M285 231h6M323 218h6M296 262h6M287 232h6M325 184h6M344 227h6M307 216h6M297 209h6M274 259h6M356 216h6M273 167h6M276 293h6M287 211h6M308 165h6M302 222h6M341 227h6M343 220h6M283 242h6M333 229h6M269 278h6M342 256h6M322 177h6M280 265h6M416 152h6M374 245h6M329 231h6M358 248h6M365 216h6M330 223h6M287 220h6M299 248h6M325 293h6M333 211h6M373 231h6M306 217h6M364 210h6M318 256h6M398 288h6M330 269h6M332 207h6M312 230h6M344 221h6M317 241h6M333 297h6M356 245h6M389 220h6M388 266h6M398 270h6M312 285h6M347 249h6M311 242h6M221 174h6M356 227h6M301 252h6M365 261h6M290 268h6M335 242h6M371 261h6M364 243h6M291 222h6M360 188h6M308 207h6M291 226h6M322 194h6M338 199h6M370 242h6M289 238h6M270 234h6M261 243h6M370 179h6M310 252h6M343 211h6M362 247h6M278 275h6M272 210h6M326 173h6M321 243h6M365 185h6M334 242h6M297 177h6M297 231h6M313 245h6M299 214h6M305 207h6M252 204h6M307 210h6M265 205h6M329 264h6M294 217h6M294 233h6M301 276h6M345 256h6M322 229h6M387 237h6M391 247h6M335 215h6M312 119h6" stroke="#000" stroke-width="6" opacity=".72" fill="none"/>
<path d="M270.5 174.3V205.4M251.8 191.1H300.4" stroke="#555" stroke-width=".7" fill="none"/>
<path d="M248.5 174.6l1.7 .9M248.5 182.1l1.7 .9M248.5 189.6l1.7 .9M248.5 197.0l1.7 .9M248.5 204.5l1.7 .9" stroke="#4a4a4a" stroke-width="1.3" stroke-linecap="round" fill="none"/>
<path d="M251.2 208.4l2.4 -.8M263.0 208.4l2.4 -.8M274.8 208.4l2.4 -.8M286.5 208.4l2.4 -.8M298.3 208.4l2.4 -.8" stroke="#888" stroke-width="1.1" stroke-linecap="round" fill="none"/>
<path d="M251.8 174.3V205.4H300.4" stroke="#2a2a2a" stroke-width=".9" fill="none"/>
<text x="297.4" y="185.4" font-size="8.5" font-weight="bold" text-anchor="end" >6</text>
<rect x="305.8" y="174.3" width="49.0" height="31.1" fill="#fff" stroke="#5a5a5a" stroke-width=".7"/>
<clipPath id="c16"><rect x="305.8" y="174.3" width="49.0" height="31.1"/></clipPath><g clip-path="url(#c16)">
<ellipse cx="310.7" cy="185.8" rx="5.9" ry="6.8" fill="url(#g)" opacity="0.35"/>
<ellipse cx="312.2" cy="199.5" rx="7.0" ry="4.8" fill="url(#g)" opacity="0.83"/>
<ellipse cx="338.1" cy="189.9" rx="4.9" ry="3.8" fill="url(#g)" opacity="0.39"/>
<ellipse cx="338.6" cy="200.1" rx="8.6" ry="4.8" fill="url(#g)" opacity="0.87"/>
</g>
<path transform="translate(305.8 174.3) scale(.1)" d="M79 115h6M31 119h6M18 140h6M84 105h6M91 125h6M65 105h6M52 98h6M65 79h6M45 148h6M57 34h6M26 118h6M76 111h6M71 150h6M15 109h6M72 103h6M64 155h6M35 123h6M31 157h6M87 41h6M54 58h6M132 91h6M37 131h6M54 125h6M80 120h6M16 102h6M40 87h6M34 103h6M59 80h6M62 102h6M31 96h6M75 111h6M33 89h6M53 85h6M36 135h6M77 69h6M54 155h6M72 92h6M53 103h6M29 146h6M66 121h6M72 146h6M55 121h6M58 60h6M42 112h6M52 118h6M43 143h6M67 103h6M85 136h6M72 110h6M44 126h6M44 50h6M16 79h6M69 151h6M37 107h6M17 80h6M10 98h6M57 83h6M55 112h6M69 114h6M76 101h6M36 90h6M52 122h6M33 128h6M66 119h6M18 127h6M15 81h6M46 127h6M50 114h6M62 144h6M33 128h6M54 115h6M89 77h6M61 154h6M107 128h6M48 100h6M80 116h6M35 115h6M52 120h6M90 138h6M88 109h6M71 75h6M33 117h6M29 104h6M40 105h6M70 62h6M108 87h6M59 149h6M22 162h6M28 137h6M54 123h6M136 66h6M82 172h6M47 100h6M65 56h6M61 101h6M49 83h6M21 61h6M14 107h6M26 172h6M23 97h6M56 110h6M81 140h6M53 83h6M27 151h6M48 189h6M90 68h6M47 89h6M55 137h6M30 131h6M22 120h6M62 97h6M60 161h6M42 81h6M55 96h6M44 153h6M45 84h6M76 105h6M64 79h6M59 79h6M40 99h6M24 114h6M20 110h6M42 182h6M42 118h6M40 50h6M60 55h6M57 115h6M47 87h6M100 98h6M49 130h6M40 97h6M88 89h6M36 113h6M10 100h6M26 88h6M67 112h6M89 144h6M15 132h6M58 188h6M57 78h6M63 157h6M50 130h6M45 101h6M37 196h6M34 116h6M45 88h6M54 116h6M73 143h6M49 90h6M65 133h6M19 89h6M61 64h6M45 134h6M48 147h6M70 137h6M15 138h6M20 117h6M27 124h6M35 134h6M48 100h6M24 132h6M93 133h6M44 150h6M73 88h6M42 77h6M68 98h6M75 79h6M52 107h6M73 97h6M42 125h6M28 130h6M74 124h6M77 110h6M11 70h6M56 146h6M53 73h6M36 100h6M26 89h6M95 134h6M73 114h6M43 102h6M103 118h6M74 71h6M40 62h6M52 57h6M35 136h6M53 84h6M61 141h6M40 128h6M80 131h6M52 154h6M29 105h6M47 124h6M51 124h6M16 108h6M63 105h6M13 142h6M46 151h6M72 147h6M45 77h6M66 93h6M17 104h6M73 129h6M36 157h6M10 115h6M51 123h6M111 119h6M52 96h6M54 111h6M75 75h6M78 207h6M23 174h6M30 127h6M19 139h6M69 140h6M23 138h6M65 109h6M30 113h6M65 152h6M12 112h6M30 97h6M72 103h6M90 110h6M52 112h6M14 103h6M115 125h6M50 130h6M90 126h6M64 150h6M20 54h6M27 130h6M57 53h6M28 140h6M46 128h6M44 114h6M10 87h6M26 123h6M48 147h6M16 115h6M10 114h6M25 153h6M30 151h6M27 133h6M56 98h6M72 265h6M101 247h6M79 260h6M33 253h6M15 293h6M118 257h6M79 236h6M22 244h6M80 275h6M14 221h6M91 230h6M65 236h6M89 274h6M29 257h6M72 261h6M106 228h6M45 279h6M95 225h6M54 211h6M86 259h6M63 265h6M55 188h6M30 241h6M51 269h6M48 218h6M49 226h6M69 260h6M134 255h6M72 267h6M41 266h6M60 256h6M70 206h6M42 257h6M117 224h6M41 262h6M38 227h6M15 218h6M32 262h6M45 229h6M69 229h6M29 258h6M82 229h6M71 282h6M35 297h6M60 277h6M29 250h6M43 225h6M72 262h6M41 200h6M60 274h6M79 247h6M38 246h6M66 283h6M76 229h6M91 216h6M70 249h6M40 284h6M79 240h6M88 268h6M50 227h6M90 213h6M24 300h6M53 290h6M71 281h6M23 279h6M17 233h6M86 265h6M34 285h6M40 273h6M97 234h6M25 248h6M54 249h6M78 252h6M99 234h6M52 227h6M46 222h6M37 276h6M97 254h6M35 253h6M90 269h6M106 260h6M81 230h6M55 243h6M66 276h6M52 256h6M58 246h6M81 262h6M65 242h6M54 230h6M38 241h6M68 222h6M49 295h6M120 234h6M44 292h6M69 231h6M23 227h6M60 274h6M133 227h6M81 241h6M107 210h6M64 260h6M15 264h6M33 227h6M127 222h6M64 259h6M33 240h6M178 259h6M99 262h6M72 246h6M71 240h6M117 216h6M51 262h6M69 256h6M42 243h6M45 276h6M77 215h6M69 260h6M11 283h6M130 227h6M35 276h6M41 244h6M45 238h6M78 273h6M54 247h6M67 214h6M40 237h6M93 254h6M89 274h6M72 232h6M107 251h6M39 220h6M68 229h6M37 252h6M55 220h6M18 234h6M30 270h6M40 264h6M44 217h6M50 282h6M48 253h6M66 241h6M65 264h6M88 234h6M98 239h6M41 249h6M77 270h6M58 262h6M80 278h6M105 266h6M24 211h6M42 237h6M61 227h6M88 249h6M72 287h6M130 234h6M26 258h6M40 298h6M16 277h6M29 253h6M54 224h6M71 254h6M54 238h6M52 236h6M39 269h6M51 269h6M50 241h6M96 227h6M104 244h6M60 259h6M35 263h6M59 251h6M62 248h6M26 262h6M74 241h6M76 231h6M65 238h6M38 231h6M90 259h6M131 226h6M51 241h6M89 255h6M30 264h6M26 220h6M51 247h6M89 253h6M28 231h6M26 211h6M101 225h6M60 252h6M53 264h6M81 255h6M69 282h6M13 231h6M31 251h6M35 286h6M37 285h6M52 233h6M21 234h6M60 256h6M79 263h6M89 241h6M78 261h6M18 261h6M101 288h6M94 248h6M16 266h6M87 244h6M40 242h6M70 255h6M70 244h6M105 283h6M47 246h6M116 230h6M124 263h6M56 265h6M48 161h6M103 237h6M139 262h6M132 249h6M37 212h6M83 243h6M31 242h6M30 281h6M85 219h6M81 252h6M60 295h6M38 227h6M50 259h6M62 274h6M17 283h6M26 261h6M56 248h6M101 220h6M100 241h6M42 207h6M67 245h6M77 232h6M104 255h6M139 255h6M45 229h6M93 240h6M67 231h6M129 250h6M44 231h6M60 249h6M62 254h6M105 226h6M47 264h6M100 251h6M93 256h6M51 217h6M70 234h6M29 191h6M133 234h6M69 227h6M56 249h6M31 271h6M48 257h6M19 256h6M48 264h6M69 229h6M107 277h6M96 263h6M17 286h6M62 232h6M48 240h6M46 198h6M97 253h6M10 224h6M105 263h6M60 240h6M77 260h6M25 263h6M84 271h6M24 240h6M65 225h6M42 243h6M95 232h6M26 258h6M75 235h6M86 280h6M57 261h6M127 247h6M46 241h6M117 258h6M61 232h6M46 290h6M11 283h6M51 245h6M27 243h6M72 258h6M28 275h6M112 253h6M68 244h6M38 290h6M80 273h6M55 273h6M96 246h6M96 274h6M60 246h6M61 247h6M116 252h6M66 250h6M55 247h6M127 273h6M83 298h6M75 252h6M96 222h6M59 236h6M39 265h6M52 265h6M54 249h6M69 279h6M34 230h6M14 264h6M126 219h6M28 222h6M58 277h6M26 232h6M80 250h6M83 245h6M57 252h6M75 266h6M64 244h6M88 266h6M47 260h6M96 242h6M27 217h6M84 252h6M36 283h6M32 260h6M16 241h6M21 256h6M50 243h6M71 287h6M73 260h6M29 258h6M95 230h6M71 277h6M45 219h6M85 238h6M83 228h6M162 243h6M50 256h6M89 278h6M98 232h6M54 219h6M53 278h6M68 290h6M93 236h6M55 267h6M95 243h6M125 260h6M23 211h6M306 126h6M306 169h6M323 157h6M327 166h6M311 161h6M317 160h6M334 156h6M319 144h6M379 157h6M324 128h6M326 162h6M324 146h6M347 142h6M349 153h6M282 174h6M308 186h6M356 144h6M316 144h6M315 172h6M355 139h6M319 155h6M315 131h6M313 140h6M312 165h6M321 144h6M344 187h6M280 148h6M338 154h6M328 158h6M345 177h6M318 139h6M344 168h6M358 128h6M272 152h6M340 175h6M309 151h6M306 153h6M302 133h6M327 157h6M289 163h6M353 142h6M316 148h6M324 143h6M305 134h6M345 151h6M300 143h6M301 169h6M313 150h6M321 146h6M330 179h6M316 156h6M327 171h6M311 121h6M312 156h6M330 178h6M334 189h6M289 129h6M315 157h6M321 131h6M309 175h6M325 184h6M345 133h6M307 126h6M300 158h6M318 149h6M297 147h6M335 168h6M304 139h6M330 146h6M342 131h6M328 159h6M326 147h6M339 143h6M332 144h6M359 151h6M333 169h6M311 134h6M315 136h6M292 174h6M338 150h6M306 174h6M320 128h6M358 153h6M311 152h6M302 166h6M310 178h6M331 142h6M299 155h6M322 166h6M305 157h6M312 148h6M372 169h6M306 145h6M305 167h6M293 198h6M358 162h6M350 170h6M319 144h6M336 152h6M338 154h6M315 160h6M278 198h6M290 139h6M342 204h6M305 158h6M352 193h6M305 184h6M344 154h6M306 167h6M335 158h6M328 153h6M342 195h6M298 148h6M339 162h6M343 145h6M304 150h6M291 169h6M347 136h6M293 155h6M324 139h6M296 155h6M320 144h6M284 163h6M271 123h6M332 173h6M320 145h6M299 144h6M288 123h6M306 114h6M316 176h6M329 156h6M367 167h6M331 146h6M325 131h6M330 175h6M341 145h6M327 150h6M324 187h6M318 142h6M312 173h6M333 136h6M320 158h6M311 154h6M341 119h6M299 138h6M337 162h6M308 127h6M337 167h6M297 137h6M303 149h6M258 252h6M313 258h6M233 244h6M341 244h6M297 224h6M383 256h6M318 251h6M290 285h6M309 266h6M377 218h6M323 227h6M282 257h6M384 267h6M310 238h6M401 277h6M262 230h6M321 278h6M368 274h6M294 256h6M317 270h6M376 230h6M320 230h6M308 280h6M315 215h6M336 258h6M359 254h6M262 278h6M340 245h6M313 256h6M303 271h6M324 249h6M304 239h6M303 255h6M238 242h6M300 257h6M304 264h6M298 245h6M333 258h6M295 245h6M340 272h6M366 251h6M338 235h6M231 238h6M375 281h6M274 267h6M387 272h6M354 280h6M369 234h6M338 283h6M321 254h6M319 214h6M373 274h6M273 245h6M288 248h6M326 253h6M222 283h6M323 283h6M349 225h6M297 266h6M292 232h6M299 242h6M379 268h6M315 264h6M303 226h6M397 267h6M269 224h6M346 272h6M295 242h6M327 222h6M322 247h6M233 261h6M329 251h6M350 261h6M267 286h6M263 226h6M311 260h6M328 242h6M310 249h6M367 261h6M263 279h6M266 267h6M295 230h6M343 273h6M424 242h6M283 235h6M371 243h6M400 269h6M332 293h6M333 289h6M325 282h6M326 295h6M303 296h6M398 243h6M360 248h6M331 199h6M286 276h6M382 257h6M317 242h6M269 287h6M184 241h6M368 228h6M389 283h6M324 266h6M385 251h6M347 267h6M290 296h6M317 238h6M357 274h6M353 234h6M230 233h6M393 245h6M304 264h6M266 295h6M300 250h6M313 274h6M354 292h6M327 249h6M377 262h6M333 268h6M344 254h6M344 229h6M319 285h6M316 277h6M332 265h6M355 238h6M281 299h6M330 211h6M358 258h6M370 274h6M345 285h6M313 219h6M340 248h6M358 272h6M309 276h6M337 276h6M297 250h6M297 243h6M310 279h6M292 265h6M330 266h6M318 262h6M277 271h6M323 238h6M325 267h6M351 262h6M309 236h6M338 235h6M336 254h6M359 249h6M375 268h6M311 271h6M326 254h6M280 245h6M333 251h6M327 266h6M354 272h6M265 256h6M370 272h6M386 242h6M393 253h6M364 282h6M326 237h6M370 253h6M319 240h6M280 291h6M245 220h6M345 272h6M302 240h6M340 234h6M343 238h6M387 253h6M390 274h6M369 253h6M403 259h6M354 239h6M273 293h6M252 269h6M324 287h6M338 251h6M342 241h6M350 270h6M376 253h6M269 233h6M285 266h6M244 282h6M377 247h6M356 228h6M361 281h6M333 211h6M323 216h6M342 213h6M313 243h6M305 238h6M286 238h6M377 231h6M303 226h6M297 226h6M366 235h6M265 265h6M350 274h6M281 247h6M250 253h6M253 254h6M298 262h6M358 284h6M206 280h6M287 292h6M343 292h6M399 246h6M309 264h6M288 224h6M321 217h6M379 260h6M350 250h6M290 246h6M417 264h6M320 267h6M320 229h6M304 293h6M299 266h6M322 231h6M402 258h6M334 281h6M349 266h6M380 243h6M339 280h6M346 270h6M316 219h6M282 250h6M363 220h6M352 288h6M307 254h6M378 257h6M344 221h6M385 271h6M344 229h6M342 228h6M312 220h6M356 270h6M424 226h6M362 284h6M340 265h6M337 287h6M284 278h6M260 241h6M339 246h6M378 257h6M281 249h6M297 279h6M287 293h6M282 274h6M326 288h6M321 276h6M380 256h6M314 293h6M329 252h6M363 258h6M283 231h6M318 243h6M365 257h6M295 252h6M350 249h6M305 254h6M342 232h6M423 271h6M258 285h6M395 284h6M299 288h6M327 246h6M290 216h6M389 245h6M340 249h6M401 262h6M328 233h6M320 260h6M316 247h6M316 242h6M392 291h6M361 284h6M355 268h6M248 269h6M367 244h6M374 233h6M282 246h6M328 265h6M332 249h6M391 257h6M335 236h6M322 242h6M354 285h6M392 233h6M329 267h6M337 269h6M280 256h6M300 254h6M319 280h6M316 274h6M328 243h6M333 261h6M337 279h6M295 280h6M302 256h6M330 260h6M356 292h6M266 246h6M258 227h6M405 228h6M365 238h6M306 218h6M314 265h6M356 274h6M323 288h6M335 252h6M311 220h6M334 244h6M322 264h6M289 222h6M389 247h6M346 244h6M356 269h6M213 288h6M318 254h6M383 243h6M327 271h6M348 254h6M233 259h6M222 287h6M291 243h6M339 262h6M325 251h6M305 272h6M312 262h6M378 255h6M330 254h6M302 242h6M276 280h6M341 243h6M281 247h6M283 251h6M272 245h6M259 245h6M267 256h6M366 260h6M357 238h6M309 266h6M348 266h6M312 260h6M341 247h6M300 268h6M278 248h6M348 258h6M311 258h6M326 242h6M387 296h6M334 289h6M314 263h6M338 256h6M268 267h6M311 285h6M358 240h6M317 211h6M288 266h6M329 225h6M369 298h6M302 242h6M328 277h6M321 206h6M355 269h6M281 245h6M322 276h6M356 266h6M364 268h6M365 233h6M315 257h6M317 287h6M297 236h6M378 265h6M378 258h6M289 263h6M308 266h6M373 258h6M377 263h6M342 274h6M283 274h6M332 257h6M366 262h6M272 228h6M293 245h6M356 254h6M341 285h6M329 203h6M240 252h6M269 221h6M346 263h6M320 235h6M323 279h6M320 256h6M345 234h6M378 285h6M310 263h6M296 280h6M369 250h6M294 279h6M299 253h6M279 231h6M329 242h6M322 265h6M340 280h6M373 237h6M279 229h6M357 274h6M367 259h6M351 266h6M353 247h6M375 264h6M274 246h6M273 296h6M323 250h6M324 245h6M312 245h6M334 264h6M370 273h6M310 241h6M321 233h6M278 242h6M313 265h6M310 285h6M350 275h6M318 252h6M290 273h6M284 243h6M317 265h6M342 265h6M369 252h6M356 246h6M299 271h6M328 257h6M250 252h6M377 296h6M309 273h6M305 242h6M356 289h6M280 241h6M362 284h6M312 239h6M323 262h6M362 262h6M324 201h6M287 253h6M305 242h6M352 236h6M361 269h6M352 218h6M327 260h6M280 240h6M370 237h6M339 223h6M293 249h6M377 227h6M382 246h6M283 268h6M277 249h6M313 248h6M380 226h6M299 245h6M280 232h6M438 255h6M339 261h6M269 258h6M311 278h6M261 262h6M268 241h6M370 255h6M319 269h6M294 276h6M317 252h6M296 219h6M305 273h6M300 261h6M333 267h6M327 244h6M385 275h6M357 253h6M311 267h6M398 283h6M298 219h6M283 289h6M288 265h6M295 242h6M363 221h6M289 237h6M334 256h6M288 243h6" stroke="#000" stroke-width="6" opacity=".72" fill="none"/>
<path d="M324.7 174.3V205.4M305.8 193.9H354.8" stroke="#555" stroke-width=".7" fill="none"/>
<path d="M302.5 174.6l1.7 .9M302.5 182.1l1.7 .9M302.5 189.6l1.7 .9M302.5 197.0l1.7 .9M302.5 204.5l1.7 .9" stroke="#4a4a4a" stroke-width="1.3" stroke-linecap="round" fill="none"/>
<path d="M305.2 208.4l2.4 -.8M317.1 208.4l2.4 -.8M328.9 208.4l2.4 -.8M340.8 208.4l2.4 -.8M352.7 208.4l2.4 -.8" stroke="#888" stroke-width="1.1" stroke-linecap="round" fill="none"/>
<path d="M305.8 174.3V205.4H354.8" stroke="#2a2a2a" stroke-width=".9" fill="none"/>
<text x="351.8" y="185.4" font-size="8.5" font-weight="bold" text-anchor="end" >7</text>
<rect x="360.2" y="174.3" width="47.6" height="31.1" fill="#fff" stroke="#5a5a5a" stroke-width=".7"/>
<clipPath id="c17"><rect x="360.2" y="174.3" width="47.6" height="31.1"/></clipPath><g clip-path="url(#c17)">
<ellipse cx="365.4" cy="185.8" rx="5.8" ry="6.8" fill="url(#g)" opacity="0.28"/>
<ellipse cx="366.9" cy="199.5" rx="6.8" ry="4.8" fill="url(#g)" opacity="0.52"/>
<ellipse cx="392.1" cy="190.5" rx="5.2" ry="3.8" fill="url(#g)" opacity="0.1"/>
<ellipse cx="394.5" cy="199.2" rx="8.4" ry="5.1" fill="url(#g)" opacity="0.52"/>
</g>
<path transform="translate(360.2 174.3) scale(.1)" d="M44 95h6M37 134h6M87 112h6M96 113h6M52 70h6M50 126h6M83 153h6M35 130h6M49 95h6M91 96h6M81 97h6M47 111h6M57 135h6M69 89h6M41 155h6M96 73h6M66 111h6M40 98h6M41 70h6M27 112h6M59 93h6M35 160h6M53 94h6M64 81h6M33 178h6M83 137h6M98 76h6M44 120h6M65 99h6M47 111h6M29 24h6M88 146h6M69 124h6M29 149h6M47 82h6M41 121h6M17 113h6M56 159h6M69 112h6M26 89h6M83 111h6M11 102h6M25 143h6M33 133h6M83 156h6M29 122h6M47 120h6M40 103h6M45 184h6M53 101h6M57 91h6M91 125h6M100 91h6M41 83h6M25 132h6M58 151h6M34 130h6M66 104h6M57 73h6M63 152h6M72 168h6M49 150h6M15 201h6M75 144h6M67 108h6M83 115h6M49 93h6M47 139h6M20 121h6M66 104h6M53 101h6M10 50h6M76 116h6M71 84h6M70 147h6M71 83h6M90 70h6M34 113h6M112 152h6M26 123h6M96 77h6M28 95h6M40 114h6M43 151h6M62 125h6M74 141h6M72 179h6M16 103h6M93 75h6M53 55h6M68 145h6M60 112h6M38 150h6M60 49h6M27 139h6M86 50h6M51 118h6M95 123h6M80 96h6M21 97h6M44 107h6M123 94h6M65 62h6M90 87h6M37 133h6M22 73h6M73 119h6M54 136h6M37 60h6M66 135h6M38 80h6M24 64h6M55 147h6M23 158h6M55 106h6M51 52h6M63 140h6M20 102h6M66 145h6M60 104h6M35 76h6M72 154h6M27 117h6M76 144h6M34 102h6M73 94h6M49 118h6M29 137h6M135 134h6M80 129h6M86 161h6M46 111h6M42 74h6M47 135h6M101 144h6M32 99h6M10 149h6M38 119h6M94 57h6M82 137h6M75 127h6M28 90h6M96 114h6M42 105h6M64 139h6M69 126h6M70 123h6M85 187h6M88 135h6M32 128h6M13 94h6M43 96h6M61 149h6M54 105h6M59 162h6M60 155h6M90 146h6M46 91h6M11 122h6M30 76h6M19 99h6M71 49h6M36 84h6M45 110h6M57 89h6M55 125h6M31 146h6M45 150h6M45 134h6M34 168h6M47 48h6M87 138h6M51 144h6M43 138h6M74 74h6M81 87h6M29 89h6M72 101h6M28 74h6M80 141h6M85 83h6M75 111h6M63 99h6M86 127h6M28 119h6M41 85h6M53 150h6M103 54h6M93 102h6M36 125h6M55 71h6M104 133h6M87 132h6M37 132h6M43 100h6M79 99h6M90 114h6M107 125h6M98 147h6M93 165h6M44 142h6M41 103h6M66 117h6M56 52h6M57 94h6M21 122h6M78 85h6M83 87h6M90 138h6M64 114h6M14 133h6M35 109h6M42 105h6M70 89h6M15 164h6M23 117h6M78 133h6M81 140h6M31 228h6M85 259h6M68 219h6M100 235h6M47 244h6M124 237h6M87 273h6M13 246h6M62 224h6M61 244h6M45 234h6M86 237h6M57 238h6M73 239h6M83 283h6M42 267h6M58 232h6M61 200h6M51 254h6M33 286h6M75 275h6M127 277h6M83 259h6M54 272h6M51 270h6M47 263h6M34 284h6M92 241h6M71 229h6M96 247h6M85 262h6M102 258h6M58 259h6M44 223h6M86 250h6M29 233h6M86 262h6M41 276h6M86 245h6M26 297h6M52 243h6M57 257h6M93 246h6M62 296h6M73 261h6M70 257h6M88 278h6M104 276h6M97 273h6M52 247h6M133 230h6M60 243h6M98 259h6M107 275h6M14 263h6M54 257h6M97 239h6M16 252h6M85 241h6M44 252h6M76 280h6M53 295h6M88 232h6M15 246h6M54 254h6M73 252h6M49 247h6M76 263h6M110 296h6M96 270h6M14 241h6M28 230h6M72 255h6M101 280h6M60 255h6M88 246h6M36 275h6M86 221h6M65 240h6M84 246h6M24 280h6M47 268h6M47 257h6M53 257h6M76 256h6M18 258h6M133 262h6M62 245h6M10 239h6M30 264h6M68 257h6M72 288h6M91 231h6M65 241h6M62 237h6M28 258h6M104 206h6M71 266h6M121 261h6M75 238h6M51 262h6M86 273h6M67 267h6M19 249h6M36 252h6M40 260h6M39 257h6M64 253h6M80 271h6M63 246h6M115 284h6M47 252h6M36 259h6M24 228h6M38 240h6M48 261h6M67 283h6M63 256h6M76 263h6M49 201h6M45 262h6M67 247h6M44 267h6M88 259h6M54 256h6M26 215h6M51 270h6M104 245h6M58 245h6M78 253h6M77 288h6M79 265h6M63 276h6M51 245h6M115 234h6M86 245h6M64 255h6M81 269h6M47 214h6M50 283h6M58 285h6M54 287h6M78 262h6M18 240h6M32 260h6M21 189h6M48 248h6M83 266h6M28 235h6M117 242h6M41 276h6M87 263h6M34 265h6M82 236h6M75 232h6M154 227h6M42 259h6M61 248h6M110 255h6M43 226h6M44 234h6M91 300h6M90 257h6M82 218h6M54 268h6M37 289h6M50 217h6M73 237h6M42 290h6M93 239h6M84 236h6M55 248h6M67 266h6M46 293h6M90 230h6M72 236h6M23 219h6M97 242h6M54 266h6M76 246h6M52 235h6M74 255h6M17 250h6M51 272h6M112 225h6M75 241h6M83 229h6M72 221h6M71 273h6M89 277h6M164 253h6M83 246h6M30 237h6M21 203h6M29 277h6M55 280h6M53 261h6M107 265h6M82 247h6M67 228h6M122 244h6M94 253h6M34 224h6M50 276h6M83 262h6M92 237h6M48 268h6M65 250h6M12 232h6M45 214h6M66 270h6M43 253h6M64 269h6M104 218h6M62 247h6M110 275h6M76 253h6M36 277h6M100 216h6M83 300h6M64 258h6M97 245h6M72 227h6M67 257h6M54 261h6M46 231h6M99 238h6M101 235h6M115 264h6M126 216h6M69 218h6M43 252h6M34 241h6M46 273h6M74 220h6M55 227h6M41 281h6M78 270h6M58 232h6M84 230h6M48 234h6M67 245h6M117 203h6M64 269h6M30 246h6M69 240h6M55 289h6M35 253h6M62 247h6M35 263h6M36 266h6M102 278h6M19 248h6M12 239h6M43 265h6M55 268h6M85 232h6M99 278h6M77 234h6M85 244h6M84 219h6M41 285h6M80 237h6M20 244h6M58 250h6M66 288h6M133 272h6M99 281h6M54 242h6M30 223h6M73 251h6M100 237h6M62 265h6M57 273h6M79 264h6M44 262h6M55 282h6M108 252h6M112 255h6M96 230h6M21 227h6M25 227h6M72 240h6M84 218h6M33 215h6M79 233h6M110 285h6M56 274h6M20 223h6M93 250h6M48 287h6M83 253h6M52 279h6M52 253h6M29 247h6M48 264h6M85 258h6M73 277h6M54 245h6M112 260h6M71 238h6M93 230h6M42 272h6M60 236h6M51 275h6M84 244h6M18 268h6M93 265h6M59 253h6M71 253h6M47 251h6M19 249h6M77 245h6M52 226h6M88 241h6M66 218h6M39 232h6M71 239h6M16 282h6M76 264h6M33 247h6M105 210h6M68 256h6M26 284h6M11 236h6M37 247h6M104 215h6M81 266h6M59 232h6M326 144h6M298 174h6M299 173h6M340 142h6M264 144h6M335 154h6M346 130h6M351 158h6M341 166h6M338 144h6M283 169h6M320 134h6M321 170h6M346 175h6M329 134h6M294 151h6M275 150h6M316 177h6M314 150h6M324 146h6M297 157h6M314 186h6M322 151h6M343 174h6M327 150h6M334 166h6M332 163h6M308 165h6M322 168h6M328 131h6M304 173h6M303 163h6M351 194h6M355 172h6M339 169h6M366 162h6M278 147h6M295 128h6M320 141h6M334 183h6M280 177h6M346 143h6M281 194h6M318 165h6M331 159h6M293 163h6M364 160h6M351 157h6M322 154h6M288 188h6M294 169h6M275 159h6M315 158h6M310 166h6M277 174h6M314 162h6M301 154h6M315 174h6M342 161h6M316 168h6M318 156h6M342 117h6M320 177h6M324 131h6M336 142h6M354 156h6M340 126h6M314 165h6M291 151h6M314 153h6M276 152h6M329 167h6M293 191h6M300 160h6M320 154h6M325 136h6M341 195h6M274 178h6M314 153h6M325 158h6M334 180h6M319 142h6M288 148h6M307 163h6M300 136h6M322 176h6M313 153h6M341 162h6M329 175h6M312 137h6M300 183h6M345 163h6M309 167h6M300 133h6M321 162h6M350 161h6M337 183h6M274 129h6M312 152h6M366 158h6M387 215h6M314 251h6M385 224h6M327 289h6M390 264h6M337 257h6M327 207h6M388 276h6M267 228h6M330 254h6M412 248h6M342 226h6M352 261h6M310 266h6M341 250h6M319 281h6M280 229h6M414 223h6M348 250h6M299 256h6M340 216h6M359 266h6M328 264h6M346 296h6M373 248h6M284 271h6M366 232h6M288 240h6M354 273h6M398 253h6M326 269h6M371 250h6M335 257h6M313 262h6M322 228h6M324 252h6M274 258h6M356 225h6M386 256h6M355 251h6M362 287h6M335 285h6M332 260h6M356 266h6M260 230h6M374 256h6M361 233h6M356 240h6M366 193h6M288 274h6M355 235h6M379 244h6M311 260h6M380 238h6M350 282h6M336 245h6M347 252h6M362 243h6M367 261h6M403 216h6M345 238h6M327 225h6M339 243h6M356 276h6M300 258h6M338 269h6M349 218h6M266 254h6M296 264h6M413 245h6M427 246h6M328 252h6M309 269h6M352 244h6M323 232h6M353 216h6M343 209h6M235 233h6M356 294h6M439 286h6M363 239h6M304 238h6M342 239h6M406 233h6M383 246h6M366 216h6M338 237h6M391 264h6M350 205h6M337 244h6M326 261h6M329 253h6M387 281h6M309 213h6M361 249h6M361 225h6M366 244h6M328 229h6M286 196h6M338 273h6M349 294h6M326 279h6M367 250h6M382 202h6M343 230h6M333 253h6M361 215h6M271 273h6M362 237h6M330 254h6M353 272h6M292 231h6M326 235h6M382 279h6M395 274h6M331 236h6M270 246h6M258 249h6M332 236h6M394 260h6M362 279h6M395 236h6M260 263h6M387 270h6M286 251h6M262 258h6M373 244h6M364 253h6M358 239h6M333 250h6M341 233h6M322 240h6M394 230h6M381 274h6M310 221h6M347 236h6M417 251h6M400 239h6M296 253h6M371 266h6M297 284h6M400 299h6M297 240h6M408 244h6M345 224h6M267 257h6M315 267h6M378 267h6M334 258h6M370 266h6M367 273h6M300 280h6M268 260h6M308 232h6M266 249h6M374 238h6M328 212h6M361 243h6M320 182h6M312 237h6M337 194h6M318 272h6M338 274h6M320 231h6M423 253h6M421 269h6M320 258h6M341 257h6M369 196h6M371 221h6M351 245h6M427 243h6M368 244h6M324 242h6M355 284h6M341 282h6M300 241h6M289 233h6M390 251h6M385 227h6M336 221h6M294 247h6M265 270h6M429 220h6M303 241h6M323 267h6M311 288h6M406 248h6M386 249h6M349 253h6M354 271h6M385 224h6M315 222h6M327 226h6M338 234h6M333 224h6M344 238h6M365 249h6M300 227h6M354 239h6M334 238h6M314 284h6M422 264h6M366 256h6M252 230h6M269 267h6M352 236h6M378 265h6M358 227h6M341 228h6M349 251h6M380 271h6M312 285h6M318 240h6M358 256h6M395 268h6M294 203h6M313 264h6M340 228h6M339 247h6M289 207h6M351 274h6M297 277h6M368 282h6M326 228h6M280 219h6M373 257h6M320 268h6M335 230h6M345 227h6M347 254h6M391 228h6M353 275h6M374 235h6M296 254h6M315 249h6M337 274h6M298 242h6M396 238h6M292 229h6M353 267h6M353 219h6M355 247h6M368 236h6M352 231h6M349 264h6M340 288h6M353 243h6M354 229h6M325 252h6M366 261h6M296 254h6M370 237h6M321 245h6M314 258h6M388 256h6M342 223h6M319 236h6M267 280h6M368 242h6M369 252h6M322 271h6M262 285h6M356 257h6M345 231h6M322 262h6M328 250h6M372 243h6M422 194h6M341 230h6M289 223h6M296 249h6M338 232h6M357 246h6M383 223h6M340 281h6M417 229h6M257 249h6M305 252h6M320 241h6M371 281h6M326 228h6M381 226h6M366 245h6M305 278h6M366 244h6M372 244h6M340 264h6M360 226h6M289 274h6M377 236h6M403 245h6M416 223h6M239 238h6M346 245h6M338 254h6M297 223h6M389 229h6M371 252h6M366 234h6M313 238h6M422 273h6M316 278h6M365 237h6M318 268h6M311 212h6M349 236h6M302 222h6M306 244h6M215 237h6M318 229h6M279 284h6M368 247h6M375 275h6M320 255h6M342 212h6M298 228h6M356 294h6M384 238h6M333 222h6M309 212h6M385 263h6M247 287h6M331 263h6M298 224h6M345 263h6M319 242h6M399 246h6M354 259h6M338 238h6M253 203h6M348 235h6M337 257h6M355 250h6M331 254h6M287 251h6M324 243h6M326 265h6M305 255h6M358 253h6M420 238h6M307 212h6M360 267h6M415 258h6M413 223h6M349 265h6M318 290h6M314 252h6M381 266h6M449 223h6M371 239h6M366 219h6M276 258h6M385 231h6M372 220h6M299 195h6M320 262h6M370 239h6M322 256h6M331 252h6M281 210h6M264 277h6M333 263h6M392 226h6M354 250h6M336 239h6M333 239h6M410 215h6M392 240h6M291 254h6M329 274h6M313 230h6M302 255h6M384 269h6M386 246h6M320 246h6M351 214h6M360 213h6M333 240h6M265 212h6M315 215h6M347 270h6M380 245h6M334 255h6M372 280h6M373 256h6M279 253h6M310 226h6M352 273h6M401 224h6M285 251h6M358 241h6M371 234h6M320 249h6M254 268h6M361 269h6M290 245h6M281 218h6M369 226h6M329 260h6M320 247h6M313 239h6M357 271h6M324 245h6M317 242h6M403 212h6" stroke="#000" stroke-width="6" opacity=".72" fill="none"/>
<path d="M379.2 174.3V205.4M360.2 193.9H407.8" stroke="#555" stroke-width=".7" fill="none"/>
<path d="M356.9 174.6l1.7 .9M356.9 182.1l1.7 .9M356.9 189.6l1.7 .9M356.9 197.0l1.7 .9M356.9 204.5l1.7 .9" stroke="#4a4a4a" stroke-width="1.3" stroke-linecap="round" fill="none"/>
<path d="M359.6 208.4l2.4 -.8M371.1 208.4l2.4 -.8M382.6 208.4l2.4 -.8M394.2 208.4l2.4 -.8M405.7 208.4l2.4 -.8" stroke="#888" stroke-width="1.1" stroke-linecap="round" fill="none"/>
<path d="M360.2 174.3V205.4H407.8" stroke="#2a2a2a" stroke-width=".9" fill="none"/>
<text x="404.8" y="185.4" font-size="8.5" font-weight="bold" text-anchor="end" >6</text>
<rect x="415.0" y="174.3" width="48.0" height="31.1" fill="#fff" stroke="#5a5a5a" stroke-width=".7"/>
<clipPath id="c18"><rect x="415.0" y="174.3" width="48.0" height="31.1"/></clipPath><g clip-path="url(#c18)">
<ellipse cx="423.6" cy="181.1" rx="10.6" ry="6.2" fill="url(#g)" opacity="0.35"/>
<ellipse cx="422.7" cy="197.3" rx="9.5" ry="7.5" fill="url(#g)" opacity="0.07"/>
<ellipse cx="444.3" cy="185.8" rx="4.8" ry="3.8" fill="url(#g)" opacity="0.32"/>
<ellipse cx="447.6" cy="197.3" rx="9.0" ry="7.5" fill="url(#g)" opacity="0.92"/>
</g>
<path transform="translate(415.0 174.3) scale(.1)" d="M78 61h6M93 66h6M155 56h6M152 44h6M129 108h6M61 45h6M118 89h6M86 61h6M28 124h6M61 48h6M181 45h6M118 72h6M28 61h6M150 80h6M69 44h6M95 46h6M100 91h6M71 97h6M119 60h6M95 109h6M178 71h6M143 71h6M66 60h6M141 30h6M119 79h6M130 55h6M122 73h6M119 84h6M47 34h6M128 77h6M42 37h6M42 67h6M69 61h6M189 26h6M159 54h6M30 76h6M107 93h6M44 18h6M125 66h6M35 43h6M102 45h6M112 86h6M76 81h6M106 64h6M23 45h6M144 94h6M117 87h6M110 92h6M104 119h6M70 47h6M89 91h6M100 104h6M10 99h6M43 92h6M166 22h6M40 151h6M108 98h6M52 49h6M73 48h6M126 113h6M49 12h6M72 66h6M30 90h6M10 32h6M64 55h6M48 78h6M103 91h6M98 74h6M146 131h6M130 103h6M64 51h6M62 75h6M96 71h6M61 41h6M149 64h6M104 39h6M99 88h6M41 67h6M124 96h6M154 53h6M77 110h6M149 58h6M121 106h6M36 72h6M80 74h6M164 78h6M107 99h6M141 79h6M117 84h6M116 89h6M131 100h6M84 110h6M88 76h6M106 108h6M88 45h6M95 22h6M71 81h6M100 79h6M98 18h6M67 84h6M111 48h6M153 83h6M126 49h6M131 80h6M178 68h6M61 57h6M199 63h6M39 15h6M67 46h6M93 90h6M85 118h6M137 97h6M143 80h6M139 75h6M102 63h6M60 72h6M48 92h6M174 40h6M170 66h6M137 76h6M115 41h6M75 54h6M75 65h6M46 58h6M31 90h6M117 76h6M53 95h6M40 83h6M75 85h6M73 84h6M102 110h6M153 96h6M52 61h6M196 33h6M105 60h6M166 57h6M150 30h6M54 46h6M43 57h6M15 79h6M30 100h6M115 97h6M56 31h6M113 60h6M124 46h6M43 54h6M169 43h6M53 88h6M73 62h6M36 52h6M104 20h6M111 95h6M71 39h6M107 104h6M75 81h6M131 114h6M140 44h6M24 71h6M140 60h6M93 65h6M85 40h6M94 97h6M53 100h6M11 34h6M55 96h6M138 73h6M131 111h6M104 70h6M69 66h6M66 82h6M92 56h6M137 40h6M99 54h6M63 106h6M90 111h6M112 39h6M111 62h6M112 107h6M49 51h6M71 55h6M127 59h6M91 43h6M97 41h6M37 14h6M94 34h6M108 63h6M55 71h6M37 79h6M80 51h6M97 39h6M81 22h6M76 14h6M63 54h6M97 71h6M45 79h6M111 57h6M97 52h6M120 57h6M73 71h6M115 95h6M175 87h6M50 12h6M108 23h6M22 20h6M109 103h6M71 19h6M18 20h6M176 49h6M16 126h6M123 69h6M11 34h6M80 151h6M83 41h6M80 38h6M189 36h6M91 39h6M103 28h6M32 107h6M79 81h6M27 85h6M168 83h6M63 48h6M34 67h6M66 35h6M28 32h6M128 98h6M50 57h6M71 56h6M75 42h6M83 92h6M162 101h6M105 100h6M78 89h6M58 39h6M33 75h6M216 68h6M25 67h6M184 64h6M64 89h6M195 95h6M52 79h6M72 49h6M106 75h6M77 31h6M91 82h6M86 101h6M119 29h6M128 32h6M48 18h6M37 36h6M79 63h6M80 56h6M85 56h6M127 75h6M101 116h6M96 92h6M53 66h6M64 50h6M82 86h6M57 88h6M87 52h6M146 64h6M131 52h6M32 55h6M105 88h6M25 38h6M81 85h6M82 16h6M96 136h6M167 63h6M119 82h6M77 63h6M29 33h6M117 89h6M105 61h6M102 60h6M118 58h6M36 105h6M178 101h6M62 92h6M189 31h6M50 91h6M131 48h6M106 78h6M97 85h6M127 53h6M54 37h6M73 74h6M119 67h6M65 56h6M45 45h6M86 53h6M37 41h6M150 90h6M60 99h6M127 85h6M88 59h6M149 83h6M42 99h6M104 83h6M43 40h6M152 76h6M139 68h6M76 18h6M167 35h6M40 12h6M47 106h6M93 22h6M122 53h6M96 49h6M139 55h6M110 38h6M147 50h6M79 75h6M106 68h6M75 90h6M166 66h6M95 94h6M200 55h6M44 52h6M52 73h6M87 97h6M149 22h6M117 36h6M68 23h6M98 90h6M92 77h6M20 64h6M88 67h6M137 41h6M124 75h6M95 78h6M95 32h6M170 120h6M91 80h6M41 159h6M36 105h6M108 122h6M84 61h6M74 60h6M69 70h6M154 48h6M43 71h6M106 67h6M81 52h6M169 57h6M128 71h6M18 20h6M94 77h6M98 45h6M174 76h6M108 69h6M93 72h6M109 68h6M143 96h6M99 61h6M47 77h6M73 82h6M159 55h6M93 65h6M116 42h6M132 122h6M29 80h6M109 106h6M176 73h6M107 75h6M67 101h6M23 256h6M42 214h6M60 253h6M97 182h6M22 261h6M122 206h6M123 218h6M36 210h6M122 211h6M57 156h6M131 264h6M82 246h6M31 209h6M102 236h6M161 240h6M71 278h6M158 218h6M107 280h6M91 227h6M112 244h6M119 167h6M63 272h6M125 193h6M15 241h6M63 264h6M73 239h6M50 213h6M142 161h6M81 162h6M122 276h6M195 267h6M128 209h6M16 222h6M60 286h6M65 239h6M116 266h6M61 207h6M91 253h6M128 284h6M85 215h6M131 208h6M31 193h6M93 217h6M87 230h6M70 200h6M136 267h6M96 179h6M64 230h6M82 246h6M71 257h6M82 176h6M94 169h6M94 199h6M173 227h6M51 248h6M41 185h6M47 229h6M116 207h6M65 204h6M32 160h6M24 228h6M21 263h6M112 275h6M80 218h6M96 228h6M76 273h6M113 221h6M101 243h6M72 291h6M137 216h6M41 244h6M74 242h6M86 239h6M49 210h6M78 227h6M67 221h6M76 238h6M108 238h6M80 159h6M64 263h6M87 293h6M36 185h6M56 213h6M86 223h6M122 184h6M142 228h6M128 227h6M50 186h6M74 234h6M80 186h6M155 250h6M83 224h6M71 244h6M112 247h6M60 237h6M72 214h6M71 211h6M69 225h6M38 285h6M43 200h6M89 212h6M64 262h6M121 233h6M181 227h6M142 209h6M39 216h6M107 245h6M111 232h6M92 221h6M31 235h6M23 278h6M38 236h6M127 259h6M40 201h6M99 146h6M110 219h6M88 170h6M64 248h6M108 242h6M79 187h6M48 255h6M66 196h6M68 257h6M140 226h6M51 202h6M49 224h6M21 245h6M55 237h6M55 220h6M12 194h6M80 213h6M142 229h6M67 212h6M37 271h6M80 218h6M91 241h6M85 294h6M61 233h6M68 281h6M123 262h6M82 251h6M35 216h6M82 216h6M26 130h6M110 191h6M40 223h6M148 254h6M111 220h6M43 146h6M50 221h6M116 254h6M159 277h6M22 221h6M88 242h6M84 172h6M69 267h6M21 202h6M120 281h6M21 256h6M89 205h6M23 220h6M149 204h6M59 180h6M109 203h6M100 284h6M142 212h6M100 238h6M84 150h6M71 218h6M171 201h6M116 215h6M89 230h6M75 296h6M61 166h6M12 205h6M63 216h6M160 238h6M233 106h6M293 118h6M322 99h6M342 86h6M288 106h6M252 129h6M296 128h6M283 85h6M319 120h6M307 112h6M241 115h6M330 116h6M255 112h6M333 134h6M268 121h6M278 159h6M303 99h6M316 140h6M325 75h6M321 109h6M334 143h6M303 127h6M282 135h6M314 101h6M278 134h6M296 117h6M276 99h6M348 126h6M293 133h6M310 125h6M276 121h6M292 94h6M242 124h6M251 122h6M254 110h6M300 109h6M328 121h6M292 113h6M279 104h6M252 139h6M308 104h6M318 114h6M279 79h6M251 130h6M297 98h6M245 126h6M338 127h6M305 85h6M308 94h6M271 117h6M261 109h6M261 85h6M280 118h6M284 110h6M284 114h6M313 149h6M269 130h6M287 112h6M302 130h6M283 126h6M286 104h6M331 133h6M279 105h6M298 145h6M278 136h6M307 83h6M281 112h6M297 142h6M308 145h6M257 107h6M296 106h6M291 98h6M274 104h6M303 124h6M282 96h6M296 136h6M277 86h6M318 157h6M319 105h6M316 118h6M288 104h6M303 128h6M312 91h6M297 125h6M294 111h6M316 131h6M303 106h6M288 111h6M330 123h6M278 98h6M294 82h6M296 126h6M322 119h6M258 90h6M308 128h6M279 134h6M211 121h6M285 109h6M272 95h6M263 100h6M310 116h6M301 106h6M285 102h6M304 121h6M297 139h6M322 92h6M311 152h6M305 124h6M269 118h6M320 96h6M283 112h6M274 109h6M260 109h6M279 136h6M359 97h6M290 99h6M289 113h6M282 140h6M293 123h6M266 146h6M268 119h6M286 96h6M316 125h6M245 99h6M273 119h6M270 139h6M287 71h6M296 118h6M270 101h6M261 106h6M298 127h6M276 111h6M274 105h6M268 107h6M296 121h6M261 115h6M287 119h6M388 266h6M307 262h6M343 203h6M414 270h6M351 221h6M324 245h6M361 220h6M315 269h6M303 271h6M366 209h6M223 270h6M336 191h6M374 203h6M283 261h6M277 252h6M305 186h6M217 178h6M375 211h6M272 286h6M353 224h6M327 246h6M337 231h6M342 185h6M362 188h6M266 196h6M302 225h6M303 280h6M282 296h6M311 176h6M361 170h6M365 182h6M245 253h6M408 176h6M329 215h6M324 237h6M290 241h6M346 163h6M289 215h6M363 252h6M376 189h6M331 256h6M336 255h6M414 156h6M258 229h6M255 251h6M403 272h6M360 210h6M288 231h6M329 141h6M252 226h6M338 211h6M286 153h6M311 273h6M297 245h6M322 182h6M320 237h6M341 300h6M382 250h6M374 240h6M348 249h6M390 260h6M329 235h6M387 225h6M322 199h6M320 286h6M389 230h6M359 258h6M315 253h6M317 231h6M316 152h6M336 177h6M359 269h6M285 249h6M293 182h6M281 231h6M302 207h6M321 282h6M307 189h6M297 288h6M333 206h6M313 222h6M401 240h6M258 133h6M365 186h6M392 180h6M403 193h6M355 169h6M238 158h6M318 226h6M372 214h6M390 206h6M355 164h6M262 261h6M327 214h6M350 206h6M391 237h6M350 180h6M283 204h6M320 240h6M309 213h6M324 185h6M267 271h6M414 242h6M269 196h6M380 227h6M331 252h6M295 239h6M379 195h6M340 277h6M403 204h6M319 231h6M250 162h6M321 275h6M332 184h6M349 203h6M313 198h6M262 299h6M349 261h6M319 233h6M344 268h6M348 168h6M232 200h6M356 253h6M318 261h6M248 244h6M326 226h6M290 267h6M348 239h6M363 265h6M241 264h6M401 200h6M284 229h6M384 264h6M365 202h6M297 234h6M297 226h6M337 278h6M303 218h6M350 203h6M326 260h6M291 277h6M379 251h6M258 258h6M329 193h6M328 264h6M379 184h6M322 279h6M333 256h6M376 294h6M400 152h6M343 230h6M357 228h6M427 223h6M300 222h6M290 195h6M352 185h6M308 204h6M318 265h6M363 227h6M296 231h6M285 211h6M315 184h6M283 184h6M364 217h6M299 178h6M386 218h6M272 225h6M313 296h6M316 202h6M341 215h6M310 246h6M399 284h6M266 238h6M374 225h6M294 254h6M338 204h6M313 295h6M360 239h6M314 202h6M342 221h6M311 236h6M359 248h6M279 167h6M295 234h6M280 226h6M331 267h6M350 228h6M337 185h6M344 265h6M413 220h6M384 220h6M313 216h6M299 176h6M253 257h6M388 220h6M323 165h6M392 225h6M380 222h6M369 235h6M307 234h6M333 275h6M302 260h6M366 219h6M295 193h6M409 173h6M326 270h6M320 195h6M278 197h6M380 190h6M239 219h6M283 288h6M387 276h6M356 197h6M282 204h6M267 270h6M343 124h6M332 210h6M366 228h6M239 220h6M261 250h6M263 272h6M324 254h6M252 199h6M335 238h6M335 239h6M320 259h6M373 193h6M405 207h6M289 241h6M315 284h6M422 267h6M340 218h6M296 222h6M398 295h6M297 272h6M346 186h6M316 248h6M349 279h6M362 207h6M290 255h6M367 240h6M318 220h6M328 198h6M345 231h6M309 199h6M273 168h6M286 254h6M367 196h6M329 206h6M318 225h6M358 258h6M351 167h6M341 283h6M245 197h6M327 259h6M318 218h6M331 266h6M287 204h6M331 236h6M305 285h6M265 228h6M416 182h6M303 225h6M311 230h6M317 222h6M357 234h6M279 191h6M364 276h6M310 209h6M305 228h6M334 134h6M281 198h6M311 236h6M282 237h6M351 236h6M362 225h6M423 282h6M371 249h6M335 176h6M282 206h6M380 251h6M354 211h6M401 246h6M343 251h6M250 276h6M235 257h6M340 241h6M386 239h6M283 281h6M286 224h6M317 296h6M268 180h6M321 254h6M327 227h6M365 274h6M315 276h6M328 191h6M331 242h6M276 237h6M304 188h6M329 233h6M343 219h6M345 244h6M366 267h6M315 245h6M344 240h6M377 272h6M342 205h6M310 246h6M352 234h6M296 202h6M332 233h6M334 203h6M399 231h6M352 211h6M295 211h6M318 240h6M351 224h6M426 252h6M349 255h6M376 173h6M405 251h6M322 218h6M286 263h6M356 237h6M365 229h6M301 178h6M357 191h6M320 224h6M304 253h6M264 187h6M352 231h6M282 248h6M340 175h6M331 275h6M409 222h6M303 254h6M302 150h6M289 197h6M352 261h6M386 244h6M299 203h6M354 196h6M299 199h6M311 224h6M329 220h6M300 223h6M340 236h6M284 172h6M391 241h6M387 205h6M287 258h6M373 232h6M407 244h6M272 219h6M340 208h6M284 250h6M298 181h6M289 194h6M324 221h6M285 204h6M333 263h6M225 212h6M361 173h6M338 237h6M380 246h6M309 243h6M365 244h6M283 234h6M287 198h6M369 218h6M343 276h6M394 281h6M351 192h6M306 264h6M373 200h6M340 240h6M332 241h6M321 207h6M378 180h6M323 156h6M295 254h6M338 243h6M291 241h6M198 261h6M286 250h6M373 223h6M399 261h6M311 188h6M324 214h6M314 222h6M311 180h6M362 173h6M348 226h6M353 225h6M288 168h6M343 249h6M279 230h6M369 186h6M334 238h6M317 258h6M327 208h6M278 298h6M366 270h6M280 244h6M323 224h6M353 291h6M326 266h6M266 273h6M331 265h6M374 252h6M341 221h6M297 215h6M282 252h6M353 256h6M312 225h6M334 252h6M296 245h6M267 191h6M332 194h6M277 195h6M280 208h6M344 252h6M339 223h6M341 241h6M291 213h6M357 281h6M318 197h6M333 155h6M259 257h6M284 255h6M371 220h6M366 242h6M275 247h6M335 179h6M364 248h6M303 286h6M436 278h6M333 198h6M292 249h6M320 231h6M418 207h6M271 247h6M363 212h6M343 266h6M359 241h6M335 254h6M329 281h6M354 169h6M297 221h6M341 299h6M346 242h6M357 199h6M373 201h6M398 223h6M305 247h6M383 292h6M317 271h6M283 193h6M333 251h6M397 251h6M303 220h6M327 179h6M394 218h6M325 232h6M370 253h6M332 229h6M356 254h6M298 194h6M269 247h6M290 237h6M402 235h6M382 229h6M316 235h6M339 246h6M366 222h6M281 168h6M253 222h6M377 147h6M296 284h6M357 245h6M294 268h6M392 198h6M403 153h6M348 207h6M362 286h6M305 203h6M323 240h6M351 255h6M298 297h6M282 252h6M342 153h6M397 232h6M277 289h6M214 229h6M344 218h6M352 213h6M269 179h6M332 298h6M362 273h6M273 206h6M334 292h6M279 217h6M292 210h6M285 221h6M325 219h6M264 191h6M334 211h6M270 227h6M367 197h6M368 265h6M296 269h6M272 199h6M353 224h6M256 299h6M298 280h6M288 244h6M324 211h6M379 224h6M323 278h6M307 250h6M363 166h6M293 230h6M246 273h6M324 201h6M321 179h6M307 176h6M311 211h6M338 156h6M347 216h6M323 214h6M378 251h6M351 246h6M353 267h6M399 214h6M363 241h6M300 231h6M313 270h6M347 228h6M391 251h6M256 211h6M258 227h6M310 272h6M326 263h6M321 212h6M358 236h6M330 248h6M311 291h6M289 231h6M367 207h6M245 227h6M299 240h6M373 229h6M339 239h6M339 247h6M349 255h6M306 131h6M309 260h6M359 245h6M277 203h6M316 229h6M320 186h6M306 240h6M318 275h6M372 224h6M294 282h6M327 247h6M340 248h6M362 251h6M370 232h6M316 184h6M389 214h6M319 210h6M320 285h6M288 187h6M361 258h6M286 241h6M348 222h6M334 184h6M360 258h6M268 205h6M340 220h6M356 287h6M349 227h6M329 218h6M453 232h6" stroke="#000" stroke-width="6" opacity=".72" fill="none"/>
<path d="M434.0 174.3V205.4M415.0 189.5H463.0" stroke="#555" stroke-width=".7" fill="none"/>
<path d="M411.7 174.6l1.7 .9M411.7 182.1l1.7 .9M411.7 189.6l1.7 .9M411.7 197.0l1.7 .9M411.7 204.5l1.7 .9" stroke="#4a4a4a" stroke-width="1.3" stroke-linecap="round" fill="none"/>
<path d="M414.4 208.4l2.4 -.8M426.0 208.4l2.4 -.8M437.6 208.4l2.4 -.8M449.3 208.4l2.4 -.8M460.9 208.4l2.4 -.8" stroke="#888" stroke-width="1.1" stroke-linecap="round" fill="none"/>
<path d="M415.0 174.3V205.4H463.0" stroke="#2a2a2a" stroke-width=".9" fill="none"/>
<text x="460.0" y="185.4" font-size="8.5" font-weight="bold" text-anchor="end" >8</text>
<rect x="251.8" y="211.6" width="48.6" height="31.8" fill="#fff" stroke="#5a5a5a" stroke-width=".7"/>
<clipPath id="c19"><rect x="251.8" y="211.6" width="48.6" height="31.8"/></clipPath><g clip-path="url(#c19)">
<ellipse cx="257.6" cy="219.2" rx="6.4" ry="3.8" fill="url(#g)" opacity="0.83"/>
<ellipse cx="259.6" cy="231.6" rx="7.5" ry="7.0" fill="url(#g)" opacity="0.35"/>
<ellipse cx="283.4" cy="232.0" rx="12.8" ry="11.2" fill="url(#g)" opacity="0.06"/>
</g>
<path transform="translate(251.8 211.6) scale(.1)" d="M64 57h6M81 54h6M34 79h6M70 66h6M17 49h6M78 88h6M92 86h6M58 53h6M104 78h6M59 62h6M65 84h6M38 67h6M24 91h6M75 94h6M44 94h6M29 55h6M53 58h6M143 82h6M66 84h6M55 62h6M90 83h6M27 67h6M70 61h6M21 49h6M96 98h6M80 80h6M28 73h6M72 51h6M67 89h6M93 62h6M87 79h6M69 102h6M98 57h6M88 94h6M23 87h6M75 65h6M55 97h6M85 107h6M74 87h6M65 75h6M79 74h6M64 73h6M15 52h6M56 69h6M68 58h6M130 106h6M78 70h6M65 78h6M39 56h6M56 68h6M63 100h6M94 108h6M31 69h6M67 104h6M26 103h6M73 75h6M102 79h6M94 97h6M52 40h6M53 60h6M76 70h6M47 83h6M30 77h6M19 82h6M60 97h6M48 73h6M76 88h6M22 57h6M74 74h6M81 68h6M99 87h6M95 43h6M46 69h6M74 88h6M42 58h6M53 65h6M40 84h6M58 69h6M83 100h6M64 82h6M100 97h6M64 66h6M85 70h6M79 69h6M53 83h6M77 68h6M77 106h6M66 33h6M76 68h6M53 60h6M56 94h6M39 72h6M44 91h6M23 87h6M69 84h6M99 79h6M59 52h6M39 92h6M45 89h6M68 58h6M69 80h6M62 62h6M58 116h6M41 104h6M61 87h6M81 100h6M31 96h6M23 88h6M66 93h6M66 93h6M93 75h6M38 99h6M69 80h6M85 63h6M72 99h6M69 78h6M57 81h6M25 66h6M67 69h6M58 58h6M74 70h6M66 72h6M21 80h6M86 116h6M67 53h6M30 50h6M46 80h6M56 78h6M84 75h6M75 62h6M50 82h6M66 82h6M28 63h6M107 74h6M90 79h6M21 104h6M94 52h6M112 77h6M97 96h6M76 77h6M34 89h6M100 69h6M87 88h6M14 80h6M76 70h6M62 109h6M73 78h6M83 53h6M90 73h6M41 67h6M25 97h6M26 74h6M80 62h6M105 77h6M88 71h6M73 78h6M21 86h6M53 86h6M84 70h6M49 103h6M86 72h6M63 98h6M44 92h6M78 62h6M56 95h6M31 48h6M85 103h6M36 61h6M67 72h6M11 59h6M37 88h6M73 53h6M103 88h6M82 52h6M93 67h6M71 55h6M68 100h6M82 111h6M58 107h6M45 40h6M53 92h6M56 63h6M77 64h6M84 105h6M70 75h6M126 96h6M68 91h6M43 119h6M10 90h6M62 64h6M75 51h6M66 73h6M67 70h6M71 99h6M65 67h6M71 76h6M66 68h6M99 59h6M71 59h6M63 69h6M83 45h6M130 65h6M37 87h6M60 83h6M79 73h6M82 74h6M58 89h6M30 66h6M14 56h6M37 63h6M104 57h6M35 78h6M60 68h6M52 82h6M74 57h6M98 44h6M39 101h6M59 66h6M39 35h6M93 56h6M35 69h6M58 82h6M75 103h6M24 47h6M58 91h6M33 60h6M51 47h6M55 87h6M84 96h6M72 73h6M50 50h6M67 60h6M18 92h6M66 43h6M28 72h6M69 90h6M56 96h6M76 87h6M45 97h6M41 48h6M47 55h6M89 71h6M127 75h6M118 93h6M42 86h6M67 79h6M49 70h6M52 85h6M13 81h6M93 63h6M72 84h6M58 59h6M39 87h6M32 68h6M68 65h6M28 67h6M55 65h6M41 82h6M54 44h6M94 58h6M84 76h6M49 62h6M76 79h6M55 58h6M100 87h6M83 82h6M62 96h6M50 94h6M66 81h6M54 101h6M57 73h6M77 65h6M70 63h6M65 63h6M44 66h6M59 91h6M37 54h6M63 75h6M15 64h6M45 80h6M37 69h6M12 53h6M43 88h6M44 51h6M44 73h6M89 68h6M40 73h6M77 93h6M57 91h6M39 41h6M63 104h6M63 80h6M73 102h6M14 81h6M23 104h6M37 69h6M71 98h6M32 82h6M58 91h6M105 62h6M70 87h6M65 63h6M67 113h6M84 68h6M29 84h6M39 85h6M65 75h6M113 80h6M31 60h6M53 68h6M82 77h6M109 78h6M38 60h6M46 81h6M68 69h6M63 48h6M22 88h6M51 82h6M19 84h6M55 115h6M94 43h6M115 67h6M67 103h6M43 52h6M36 81h6M98 94h6M37 64h6M93 68h6M59 59h6M29 82h6M128 54h6M42 94h6M50 93h6M48 57h6M77 151h6M64 223h6M31 196h6M70 278h6M70 189h6M77 199h6M124 188h6M37 156h6M38 175h6M28 170h6M81 194h6M51 191h6M53 188h6M53 195h6M76 225h6M67 166h6M30 246h6M56 183h6M67 113h6M129 209h6M103 191h6M73 188h6M91 112h6M97 180h6M27 195h6M116 230h6M127 208h6M104 208h6M37 202h6M68 219h6M55 200h6M108 218h6M42 210h6M70 216h6M115 223h6M32 262h6M88 199h6M99 169h6M96 188h6M77 169h6M51 202h6M75 198h6M81 238h6M144 192h6M56 133h6M80 239h6M33 193h6M54 165h6M171 171h6M70 207h6M69 217h6M111 198h6M27 141h6M46 226h6M88 183h6M79 219h6M120 242h6M143 217h6M57 184h6M90 187h6M43 215h6M88 201h6M54 184h6M78 221h6M85 169h6M107 193h6M49 229h6M109 198h6M35 245h6M82 244h6M98 211h6M34 252h6M86 189h6M33 193h6M89 185h6M141 197h6M76 272h6M92 172h6M111 162h6M112 142h6M106 183h6M54 214h6M58 153h6M55 200h6M102 211h6M52 183h6M73 177h6M119 192h6M59 163h6M146 202h6M72 191h6M125 204h6M81 138h6M57 212h6M120 277h6M105 183h6M85 219h6M61 222h6M105 206h6M62 200h6M60 198h6M115 217h6M115 185h6M66 172h6M92 191h6M41 184h6M136 202h6M74 185h6M116 163h6M56 180h6M94 242h6M79 224h6M27 184h6M40 216h6M38 150h6M102 144h6M53 178h6M27 191h6M87 234h6M62 175h6M80 202h6M86 249h6M71 173h6M48 175h6M95 266h6M54 247h6M93 187h6M122 126h6M91 211h6M88 136h6M99 194h6M83 224h6M20 237h6M122 217h6M52 194h6M19 163h6M86 219h6M79 172h6M57 211h6M128 201h6M127 196h6M104 199h6M55 181h6M114 202h6M21 230h6M104 209h6M112 206h6M85 173h6M83 225h6M84 150h6M140 215h6M55 166h6M78 146h6M68 232h6M59 179h6M94 218h6M37 218h6M112 173h6M133 167h6M107 212h6M96 186h6M73 254h6M39 188h6M150 196h6M61 241h6M67 177h6M62 205h6M89 205h6M50 230h6M159 209h6M29 155h6M77 195h6M43 199h6M73 204h6M39 164h6M60 190h6M49 226h6M73 133h6M61 226h6M55 169h6M69 130h6M49 209h6M99 226h6M107 193h6M93 245h6M70 219h6M86 226h6M81 231h6M69 173h6M73 186h6M107 221h6M73 179h6M104 199h6M73 245h6M92 219h6M65 153h6M114 217h6M132 201h6M55 110h6M96 195h6M49 192h6M133 191h6M89 225h6M108 143h6M71 204h6M63 152h6M78 179h6M109 227h6M79 223h6M93 162h6M99 206h6M95 199h6M63 217h6M102 237h6M138 206h6M93 222h6M100 183h6M104 219h6M121 207h6M25 176h6M94 188h6M78 170h6M60 201h6M134 162h6M54 218h6M71 201h6M124 242h6M39 167h6M79 246h6M38 208h6M73 169h6M19 205h6M109 173h6M69 226h6M90 235h6M115 185h6M89 167h6M86 181h6M37 193h6M83 238h6M89 224h6M50 223h6M97 211h6M53 183h6M102 254h6M51 208h6M52 139h6M97 214h6M111 168h6M107 252h6M91 158h6M127 216h6M79 231h6M109 189h6M57 175h6M92 142h6M70 198h6M52 217h6M65 220h6M60 169h6M91 200h6M85 178h6M78 200h6M79 226h6M88 229h6M94 234h6M56 202h6M45 213h6M128 203h6M71 223h6M72 211h6M137 187h6M71 208h6M82 194h6M12 206h6M57 252h6M123 170h6M139 174h6M101 253h6M46 132h6M103 194h6M80 215h6M118 230h6M63 224h6M74 189h6M97 255h6M15 209h6M40 217h6M48 235h6M44 219h6M141 227h6M96 186h6M118 124h6M67 264h6M73 189h6M64 196h6M123 194h6M70 203h6M54 159h6M92 252h6M116 238h6M93 204h6M53 188h6M138 168h6M105 140h6M124 197h6M64 255h6M65 176h6M122 201h6M52 129h6M75 236h6M83 195h6M46 247h6M38 170h6M118 186h6M71 187h6M113 202h6M138 228h6M77 251h6M96 183h6M55 185h6M106 180h6M49 267h6M93 225h6M48 212h6M92 156h6M85 160h6M92 222h6M125 223h6M145 199h6M82 123h6M28 238h6M115 175h6M69 179h6M58 181h6M44 195h6M32 173h6M101 178h6M89 139h6M38 189h6M85 189h6M115 250h6M50 165h6M106 240h6M131 203h6M69 209h6M61 256h6M86 223h6M95 200h6M114 195h6M101 248h6M144 201h6M103 211h6M97 197h6M72 215h6M105 189h6M137 218h6M76 236h6M115 201h6M263 115h6M341 208h6M250 276h6M398 232h6M328 104h6M304 203h6M337 225h6M403 202h6M365 117h6M366 267h6M195 236h6M271 283h6M269 155h6M268 218h6M275 191h6M373 228h6M311 245h6M326 115h6M391 119h6M374 142h6M310 243h6M267 209h6M417 208h6M341 151h6M288 229h6M329 161h6M257 145h6M279 254h6M303 171h6M369 271h6M352 234h6M355 216h6M324 232h6M292 211h6M379 178h6M271 167h6M255 219h6M288 290h6M339 195h6M296 187h6M204 221h6M280 108h6M343 249h6M389 130h6M329 240h6M227 176h6M334 289h6M400 179h6M371 171h6M297 163h6M314 267h6M353 249h6M420 192h6M364 210h6M333 190h6M292 247h6M392 188h6M357 260h6M256 109h6M382 114h6M418 228h6M419 160h6M339 260h6M327 265h6M296 156h6M349 275h6M362 180h6M320 172h6M303 205h6M308 220h6M355 102h6M356 196h6M272 174h6M388 186h6M334 229h6M255 214h6M266 207h6M332 169h6M387 193h6M215 275h6M370 255h6M272 166h6M404 277h6M331 241h6M312 165h6M277 225h6M327 156h6M334 262h6M332 229h6M254 160h6M319 197h6M356 210h6M228 171h6M388 213h6M276 264h6M348 200h6M340 215h6M360 242h6M387 182h6M310 190h6M267 202h6M158 214h6M323 286h6M351 96h6M350 177h6M340 225h6M242 202h6M399 149h6M274 218h6M369 188h6M261 229h6M352 187h6M312 280h6M125 126h6M367 271h6M277 196h6M360 253h6M266 269h6M383 152h6M348 154h6M281 103h6M345 230h6M302 204h6M170 170h6M322 186h6M324 92h6M292 284h6M302 148h6M382 174h6M372 263h6M290 221h6M246 172h6M334 166h6M400 217h6M217 274h6M352 196h6M332 247h6M299 287h6M277 172h6M382 232h6M336 164h6M344 225h6M358 241h6M343 301h6M254 193h6M307 207h6M294 120h6M337 221h6M429 143h6M310 145h6M292 261h6M307 237h6M283 214h6M324 239h6M248 254h6M311 191h6M386 231h6M203 251h6M293 184h6M342 252h6M276 213h6M324 193h6M234 91h6M246 232h6M330 252h6M445 175h6M373 200h6M277 278h6M240 238h6M289 219h6M467 197h6M324 131h6M353 192h6M305 207h6M230 276h6M261 219h6M328 122h6M282 181h6M268 192h6M359 174h6M427 207h6M326 182h6M334 186h6M315 225h6M318 235h6M295 292h6M297 179h6M284 234h6M209 263h6M318 172h6M384 239h6M305 116h6M223 221h6M288 164h6M250 116h6M395 243h6M362 163h6M211 156h6M332 188h6M393 185h6M314 254h6M385 209h6M307 226h6M316 214h6M307 142h6M311 156h6M369 125h6M234 226h6M321 230h6M276 212h6M290 163h6M312 266h6M339 223h6M324 229h6M292 240h6M282 239h6M277 187h6M391 222h6M338 258h6M281 197h6M255 233h6M304 206h6M280 224h6M374 227h6M316 165h6M267 211h6M381 139h6M328 234h6M341 258h6M279 238h6M365 181h6M398 208h6M424 118h6M424 197h6M258 159h6M331 217h6M260 138h6M451 192h6M287 273h6M233 196h6M312 231h6M371 285h6M375 166h6M239 210h6M216 151h6M349 275h6M358 179h6M371 211h6M223 154h6M390 242h6M304 198h6M292 251h6M332 221h6M266 258h6M335 196h6M320 247h6M363 240h6M369 286h6M252 182h6M412 231h6M350 138h6M359 161h6M400 217h6M354 170h6M180 193h6M340 178h6M315 230h6M322 222h6M257 196h6M329 141h6M367 90h6M329 195h6M372 250h6M324 133h6M395 220h6M464 244h6M288 219h6M324 201h6M319 203h6M424 222h6M359 119h6M198 191h6M270 284h6M286 120h6M175 175h6M335 128h6M246 132h6M196 189h6M357 232h6M431 264h6M372 188h6M43 189h6M212 116h6M80 265h6M31 48h6M293 191h6M137 138h6M29 117h6M157 129h6M312 190h6M178 180h6M222 97h6M99 276h6M208 110h6M197 197h6M201 228h6M160 122h6M305 122h6M325 222h6M109 262h6M180 193h6M51 223h6M181 193h6M192 74h6M187 147h6M102 155h6M77 123h6M221 153h6M114 106h6M306 125h6M49 129h6M172 179h6M103 125h6M196 174h6M211 173h6M102 175h6M271 137h6M190 241h6M65 27h6M143 229h6M133 240h6M81 147h6M197 35h6M23 233h6M255 184h6" stroke="#000" stroke-width="6" opacity=".72" fill="none"/>
<path d="M270.8 211.6V243.4M251.8 233.2H300.4" stroke="#555" stroke-width=".7" fill="none"/>
<path d="M248.5 211.9l1.7 .9M248.5 219.6l1.7 .9M248.5 227.2l1.7 .9M248.5 234.9l1.7 .9M248.5 242.5l1.7 .9" stroke="#4a4a4a" stroke-width="1.3" stroke-linecap="round" fill="none"/>
<path d="M251.2 246.4l2.4 -.8M263.0 246.4l2.4 -.8M274.8 246.4l2.4 -.8M286.5 246.4l2.4 -.8M298.3 246.4l2.4 -.8" stroke="#888" stroke-width="1.1" stroke-linecap="round" fill="none"/>
<path d="M251.8 211.6V243.4H300.4" stroke="#2a2a2a" stroke-width=".9" fill="none"/>
<text x="297.4" y="223.1" font-size="8.5" font-weight="bold" text-anchor="end" >9</text>
<rect x="305.8" y="211.6" width="49.0" height="31.8" fill="#fff" stroke="#5a5a5a" stroke-width=".7"/>
<clipPath id="c20"><rect x="305.8" y="211.6" width="49.0" height="31.8"/></clipPath><g clip-path="url(#c20)">
<ellipse cx="310.7" cy="221.1" rx="5.9" ry="4.9" fill="url(#g)" opacity="0.56"/>
<ellipse cx="312.7" cy="230.0" rx="6.5" ry="4.9" fill="url(#g)" opacity="0.28"/>
<ellipse cx="334.2" cy="228.8" rx="8.1" ry="4.5" fill="url(#g)" opacity="0.28"/>
</g>
<path transform="translate(305.8 211.6) scale(.1)" d="M38 97h6M100 76h6M35 126h6M14 81h6M64 97h6M19 91h6M51 85h6M46 100h6M78 126h6M60 89h6M48 85h6M45 100h6M31 88h6M86 69h6M13 75h6M51 66h6M59 65h6M22 63h6M109 90h6M52 90h6M49 103h6M43 123h6M60 103h6M70 108h6M52 133h6M56 113h6M50 115h6M56 58h6M53 74h6M41 59h6M62 105h6M46 118h6M50 80h6M43 109h6M27 99h6M11 70h6M80 44h6M42 114h6M43 118h6M23 88h6M25 118h6M27 55h6M19 102h6M46 109h6M55 164h6M64 73h6M65 111h6M47 53h6M40 95h6M44 99h6M25 98h6M42 101h6M15 105h6M65 90h6M81 103h6M53 91h6M68 90h6M94 116h6M28 126h6M106 114h6M98 98h6M42 68h6M31 133h6M27 110h6M114 87h6M86 57h6M31 80h6M58 73h6M63 53h6M76 133h6M39 69h6M56 116h6M59 108h6M82 110h6M46 144h6M36 120h6M21 121h6M68 103h6M55 61h6M48 82h6M41 123h6M20 102h6M26 91h6M52 93h6M90 60h6M38 133h6M48 60h6M83 100h6M68 43h6M21 99h6M40 102h6M34 100h6M37 69h6M64 80h6M38 89h6M97 82h6M51 90h6M11 105h6M56 126h6M79 130h6M23 87h6M52 105h6M27 108h6M77 80h6M30 84h6M44 104h6M60 95h6M25 141h6M23 58h6M34 155h6M48 104h6M23 108h6M16 74h6M40 110h6M52 79h6M69 103h6M66 115h6M105 60h6M72 104h6M45 122h6M59 135h6M67 92h6M80 50h6M27 114h6M38 100h6M35 79h6M44 76h6M37 89h6M23 76h6M67 85h6M39 107h6M47 85h6M31 120h6M74 94h6M69 90h6M67 89h6M79 72h6M65 114h6M33 90h6M35 69h6M46 105h6M37 120h6M91 91h6M46 67h6M28 52h6M89 111h6M64 114h6M39 120h6M33 92h6M65 100h6M47 75h6M38 139h6M108 86h6M57 105h6M29 71h6M39 95h6M70 78h6M95 91h6M18 85h6M29 77h6M52 94h6M41 88h6M30 81h6M10 124h6M72 56h6M33 88h6M44 84h6M72 90h6M42 129h6M66 121h6M36 107h6M80 79h6M83 100h6M49 70h6M51 123h6M40 84h6M75 136h6M92 79h6M74 79h6M29 106h6M52 95h6M96 84h6M37 120h6M45 90h6M58 92h6M75 108h6M41 56h6M92 82h6M64 79h6M13 73h6M19 41h6M84 75h6M48 108h6M58 75h6M67 82h6M27 63h6M41 95h6M69 112h6M38 67h6M65 81h6M49 124h6M19 132h6M24 102h6M24 108h6M36 81h6M33 137h6M54 93h6M55 101h6M40 105h6M57 107h6M97 97h6M25 54h6M95 67h6M66 79h6M55 107h6M99 120h6M45 105h6M38 106h6M89 98h6M46 114h6M42 91h6M41 100h6M79 89h6M88 107h6M72 93h6M97 82h6M55 66h6M42 60h6M96 90h6M55 73h6M44 87h6M29 111h6M49 102h6M26 88h6M31 81h6M32 103h6M88 78h6M32 68h6M96 107h6M60 74h6M35 84h6M30 86h6M36 107h6M77 104h6M35 90h6M54 67h6M42 93h6M28 65h6M18 94h6M34 94h6M27 77h6M74 81h6M48 94h6M58 103h6M84 70h6M73 82h6M72 100h6M71 96h6M86 73h6M107 80h6M103 89h6M35 37h6M19 71h6M40 75h6M66 118h6M13 95h6M36 64h6M66 71h6M29 105h6M51 82h6M41 80h6M70 103h6M14 86h6M19 106h6M29 106h6M30 122h6M48 73h6M118 96h6M32 59h6M53 90h6M97 73h6M85 96h6M40 114h6M74 75h6M50 92h6M105 82h6M82 97h6M29 133h6M30 85h6M24 113h6M58 75h6M10 125h6M51 108h6M26 148h6M66 87h6M47 118h6M24 91h6M74 99h6M13 83h6M33 188h6M60 186h6M92 209h6M36 147h6M107 158h6M106 195h6M75 156h6M76 222h6M98 185h6M105 226h6M62 169h6M75 175h6M74 216h6M160 202h6M27 175h6M85 154h6M51 199h6M51 163h6M32 206h6M97 203h6M58 164h6M59 148h6M102 141h6M72 185h6M38 197h6M114 193h6M95 228h6M100 177h6M84 191h6M34 190h6M74 191h6M111 181h6M66 177h6M71 186h6M78 182h6M62 181h6M30 178h6M85 195h6M77 178h6M60 195h6M73 188h6M50 178h6M60 138h6M55 184h6M95 185h6M29 175h6M21 169h6M101 141h6M57 176h6M50 191h6M112 158h6M31 157h6M79 207h6M100 185h6M28 162h6M82 200h6M62 161h6M67 184h6M114 197h6M63 196h6M82 214h6M99 175h6M104 159h6M20 180h6M100 200h6M76 230h6M30 206h6M77 193h6M111 163h6M93 191h6M62 184h6M94 208h6M61 183h6M91 145h6M110 183h6M54 183h6M81 175h6M131 149h6M90 244h6M68 161h6M57 166h6M65 161h6M84 193h6M82 171h6M83 182h6M88 186h6M45 204h6M98 156h6M63 169h6M89 160h6M73 184h6M53 169h6M145 180h6M23 170h6M67 195h6M83 212h6M51 210h6M91 188h6M37 218h6M85 203h6M36 203h6M72 187h6M99 173h6M75 178h6M22 184h6M104 154h6M70 229h6M77 189h6M89 150h6M49 202h6M85 189h6M61 199h6M81 188h6M134 185h6M108 188h6M35 188h6M94 161h6M46 218h6M26 191h6M107 159h6M102 211h6M43 183h6M67 170h6M74 198h6M96 171h6M103 189h6M36 191h6M50 188h6M16 176h6M63 152h6M37 158h6M66 200h6M89 170h6M66 198h6M79 156h6M58 200h6M62 153h6M43 149h6M79 208h6M71 205h6M71 171h6M83 173h6M65 155h6M92 182h6M44 159h6M66 242h6M75 158h6M43 173h6M28 192h6M90 222h6M88 197h6M58 172h6M127 194h6M132 227h6M50 205h6M79 173h6M92 169h6M122 206h6M56 191h6M54 177h6M106 185h6M94 157h6M56 211h6M78 176h6M82 156h6M72 140h6M57 201h6M44 180h6M65 140h6M90 239h6M62 195h6M56 152h6M79 191h6M36 200h6M109 187h6M78 161h6M109 173h6M119 198h6M121 168h6M70 178h6M73 163h6M103 178h6M72 212h6M71 196h6M63 207h6M57 191h6M36 187h6M48 161h6M107 191h6M93 162h6M51 185h6M51 167h6M94 212h6M95 177h6M34 205h6M85 191h6M113 176h6M87 191h6M36 176h6M21 200h6M67 139h6M42 166h6M28 173h6M78 154h6M49 154h6M67 216h6M21 243h6M87 259h6M60 291h6M37 251h6M53 291h6M43 245h6M84 278h6M124 286h6M107 273h6M11 278h6M46 255h6M116 269h6M65 291h6M78 250h6M59 275h6M58 284h6M61 200h6M82 279h6M105 239h6M31 246h6M38 276h6M107 278h6M11 270h6M93 262h6M57 240h6M110 220h6M65 284h6M33 265h6M190 235h6M102 228h6M20 263h6M103 205h6M76 245h6M93 271h6M88 267h6M89 264h6M46 263h6M44 251h6M119 279h6M59 275h6M108 249h6M83 282h6M56 243h6M90 238h6M132 251h6M53 283h6M232 245h6M99 264h6M105 287h6M146 290h6M41 285h6M73 244h6M73 235h6M112 225h6M53 233h6M73 227h6M104 255h6M123 250h6M88 261h6M129 249h6M72 294h6M40 247h6M59 246h6M106 257h6M73 305h6M93 258h6M70 282h6M102 235h6M24 253h6M125 286h6M153 283h6M57 271h6M42 227h6M73 278h6M94 254h6M67 249h6M85 261h6M32 289h6M21 245h6M84 279h6M60 249h6M155 262h6M286 202h6M273 207h6M263 162h6M347 151h6M295 193h6M308 167h6M260 173h6M296 203h6M319 181h6M236 146h6M298 183h6M286 127h6M301 183h6M255 183h6M260 164h6M322 177h6M257 175h6M327 161h6M321 201h6M288 213h6M291 125h6M220 191h6M266 142h6M314 172h6M241 147h6M266 161h6M290 159h6M256 145h6M266 198h6M301 157h6M311 169h6M363 192h6M365 178h6M325 131h6M252 163h6M191 174h6M314 165h6M268 201h6M274 157h6M248 172h6M273 135h6M267 191h6M353 176h6M270 166h6M261 171h6M242 184h6M328 165h6M268 166h6M320 147h6M305 179h6M298 181h6M310 160h6M328 205h6M223 194h6M277 167h6M369 179h6M330 170h6M313 159h6M365 132h6M264 156h6M308 181h6M311 205h6M230 163h6M279 182h6M285 161h6M239 154h6M283 158h6M277 200h6M270 171h6M311 205h6M322 217h6M307 191h6M258 187h6M257 190h6M285 157h6M285 176h6M299 165h6M380 166h6M261 178h6M299 212h6M251 160h6M285 190h6M302 181h6M275 160h6M345 181h6M310 164h6M248 135h6M323 179h6M258 135h6M297 152h6M323 169h6M239 178h6M299 163h6M235 156h6M273 156h6M324 165h6M331 189h6M284 167h6M272 182h6M295 161h6M277 186h6M248 166h6M286 192h6M299 202h6M361 138h6M319 149h6M267 184h6M248 171h6M234 160h6M279 177h6M269 193h6M279 185h6M323 199h6M321 162h6M239 147h6M243 144h6M236 186h6M341 215h6M257 179h6M285 205h6M309 194h6M260 165h6M321 221h6M227 214h6M224 158h6M212 165h6M183 154h6M311 188h6M299 166h6M270 193h6M343 170h6M270 161h6M280 173h6M287 180h6M246 160h6M267 155h6M243 176h6M286 174h6M295 153h6M313 146h6M317 192h6M333 171h6M318 199h6M261 172h6M347 161h6M272 168h6M347 230h6M300 179h6M362 154h6M242 192h6M315 176h6M253 143h6M242 185h6M259 163h6M307 193h6M273 193h6M296 176h6M253 166h6M279 161h6M284 143h6M229 157h6M286 157h6M287 168h6M293 154h6M279 170h6M282 173h6M304 156h6M253 163h6M380 135h6M268 177h6M190 135h6M227 160h6M288 167h6M296 187h6M258 178h6M268 152h6M276 191h6M316 140h6M335 184h6M338 206h6M248 233h6M289 146h6M235 201h6M308 161h6M281 157h6M271 144h6M295 184h6M306 178h6M318 172h6M247 179h6M253 152h6M238 171h6M303 176h6M237 184h6M246 168h6M238 126h6M245 168h6M346 191h6M260 204h6M269 195h6M237 225h6M303 182h6M254 193h6M312 201h6M285 175h6M230 188h6M323 149h6M305 155h6M283 172h6M267 155h6M289 170h6M263 190h6M264 162h6M277 165h6M305 165h6M262 147h6M319 196h6M270 176h6M250 157h6M276 196h6M299 193h6M299 181h6M277 190h6M233 147h6M290 155h6M287 168h6M311 148h6M260 149h6M292 182h6M270 160h6M280 173h6M303 151h6M227 211h6M248 198h6M314 132h6M279 156h6M283 198h6M329 167h6M256 158h6M307 153h6M323 167h6M328 166h6M385 169h6M333 179h6M263 160h6M376 198h6M336 147h6M327 174h6M189 174h6M274 173h6M279 144h6M276 203h6M298 203h6M284 176h6M289 163h6M254 169h6M286 182h6M239 181h6M204 177h6M263 167h6M279 163h6M289 154h6M292 192h6M258 165h6M341 171h6M235 197h6M291 189h6M261 170h6M303 214h6M285 179h6M260 212h6M194 175h6M306 177h6M257 181h6M246 166h6M245 167h6M274 161h6M246 179h6M262 169h6M326 162h6M312 155h6M299 175h6M273 143h6M282 166h6M320 184h6M287 122h6M307 186h6M331 199h6M275 157h6M285 171h6M243 168h6M235 201h6M280 155h6M233 148h6M254 177h6M230 142h6M310 197h6M291 176h6M299 155h6M279 191h6M308 144h6M256 184h6M271 173h6M291 154h6M248 163h6M331 182h6M268 171h6M292 140h6M258 168h6M308 148h6M238 152h6M278 165h6M324 193h6M341 145h6M299 122h6M234 180h6M254 183h6M298 193h6M322 172h6M338 174h6M243 163h6M211 149h6M344 204h6M251 188h6M247 128h6M252 160h6M286 192h6M279 164h6M296 149h6M270 217h6M269 171h6M248 130h6M257 164h6M233 197h6M246 171h6M241 163h6M257 182h6M254 269h6M311 196h6M296 162h6M275 229h6M332 131h6M355 132h6M154 291h6M256 130h6M348 211h6M321 247h6M250 207h6M219 202h6M366 195h6M223 152h6M416 168h6M350 222h6M272 200h6M440 122h6M219 196h6M331 247h6M315 210h6M391 157h6M386 201h6M326 163h6M285 140h6M339 229h6M250 191h6M327 127h6M178 186h6M305 153h6M113 103h6M308 203h6M291 153h6M390 227h6M246 169h6M244 262h6M156 253h6M380 225h6M220 208h6M340 275h6M287 173h6M252 180h6M351 233h6M164 203h6M294 243h6M441 244h6M348 141h6M456 142h6M228 195h6M268 245h6M211 225h6M283 94h6M347 214h6M274 169h6M371 242h6M352 245h6M320 227h6M266 300h6M223 162h6M258 134h6M165 168h6M426 200h6M435 272h6M303 201h6M427 167h6M183 219h6M314 173h6M210 125h6M290 226h6M308 161h6M340 222h6M116 143h6M407 302h6" stroke="#000" stroke-width="6" opacity=".72" fill="none"/>
<path d="M324.4 211.6V243.4M305.8 233.5H354.8" stroke="#555" stroke-width=".7" fill="none"/>
<path d="M302.5 211.9l1.7 .9M302.5 219.6l1.7 .9M302.5 227.2l1.7 .9M302.5 234.9l1.7 .9M302.5 242.5l1.7 .9" stroke="#4a4a4a" stroke-width="1.3" stroke-linecap="round" fill="none"/>
<path d="M305.2 246.4l2.4 -.8M317.1 246.4l2.4 -.8M328.9 246.4l2.4 -.8M340.8 246.4l2.4 -.8M352.7 246.4l2.4 -.8" stroke="#888" stroke-width="1.1" stroke-linecap="round" fill="none"/>
<path d="M305.8 211.6V243.4H354.8" stroke="#2a2a2a" stroke-width=".9" fill="none"/>
<text x="351.8" y="223.1" font-size="8.5" font-weight="bold" text-anchor="end" >25</text>
<rect x="360.2" y="211.6" width="47.6" height="31.8" fill="#fff" stroke="#5a5a5a" stroke-width=".7"/>
<clipPath id="c21"><rect x="360.2" y="211.6" width="47.6" height="31.8"/></clipPath><g clip-path="url(#c21)">
<ellipse cx="364.5" cy="221.1" rx="4.7" ry="4.9" fill="url(#g)" opacity="0.39"/>
<ellipse cx="366.9" cy="235.8" rx="5.8" ry="5.9" fill="url(#g)" opacity="0.49"/>
<ellipse cx="389.7" cy="225.3" rx="8.4" ry="4.5" fill="url(#g)" opacity="0.92"/>
</g>
<path transform="translate(360.2 211.6) scale(.1)" d="M45 109h6M61 121h6M47 122h6M45 114h6M27 100h6M40 96h6M64 133h6M38 74h6M62 131h6M30 76h6M50 72h6M29 100h6M19 97h6M38 108h6M34 93h6M61 86h6M74 69h6M48 86h6M43 76h6M80 76h6M57 93h6M57 119h6M69 90h6M69 117h6M68 117h6M63 117h6M34 84h6M12 95h6M78 70h6M32 77h6M39 115h6M74 94h6M33 112h6M26 110h6M22 134h6M70 88h6M41 137h6M39 95h6M59 93h6M25 85h6M13 138h6M39 87h6M72 115h6M65 90h6M37 96h6M56 70h6M85 70h6M24 79h6M65 75h6M23 66h6M30 78h6M39 66h6M97 67h6M33 121h6M20 103h6M42 122h6M41 158h6M52 116h6M53 123h6M44 94h6M43 98h6M37 119h6M35 142h6M40 87h6M50 50h6M82 122h6M52 117h6M58 74h6M52 82h6M65 89h6M35 106h6M33 68h6M58 98h6M69 110h6M19 83h6M61 35h6M45 76h6M60 81h6M79 99h6M44 93h6M35 78h6M14 126h6M44 85h6M16 64h6M44 100h6M84 95h6M45 82h6M37 81h6M46 100h6M29 109h6M48 118h6M76 114h6M38 75h6M66 99h6M11 88h6M62 113h6M44 110h6M43 84h6M29 107h6M42 124h6M12 120h6M63 82h6M42 79h6M51 64h6M60 95h6M74 82h6M10 120h6M47 101h6M38 66h6M42 104h6M16 105h6M45 66h6M45 76h6M43 95h6M56 77h6M25 87h6M63 57h6M35 114h6M14 59h6M49 89h6M66 95h6M80 128h6M32 101h6M73 72h6M78 119h6M70 82h6M29 93h6M56 89h6M70 114h6M58 79h6M28 59h6M34 77h6M31 123h6M33 109h6M54 86h6M41 61h6M53 102h6M55 117h6M38 95h6M50 69h6M35 57h6M28 80h6M50 106h6M52 79h6M19 136h6M40 121h6M40 64h6M31 109h6M33 92h6M77 123h6M21 76h6M28 142h6M55 77h6M31 116h6M38 124h6M47 115h6M23 110h6M28 109h6M52 61h6M51 142h6M27 88h6M33 89h6M55 94h6M38 59h6M32 93h6M40 85h6M10 70h6M43 86h6M30 70h6M55 52h6M37 73h6M36 75h6M41 157h6M47 84h6M63 100h6M77 99h6M32 75h6M36 99h6M36 109h6M38 76h6M49 56h6M58 70h6M45 68h6M71 112h6M62 143h6M35 71h6M74 98h6M29 82h6M48 124h6M21 75h6M50 73h6M35 124h6M41 127h6M43 103h6M30 84h6M11 114h6M43 71h6M28 88h6M97 97h6M31 69h6M120 201h6M47 229h6M74 269h6M56 259h6M83 302h6M50 237h6M93 263h6M34 260h6M56 217h6M60 246h6M51 272h6M116 268h6M27 241h6M88 238h6M66 203h6M76 199h6M97 233h6M141 283h6M55 228h6M100 263h6M93 197h6M22 196h6M68 241h6M42 219h6M76 237h6M102 227h6M92 252h6M52 242h6M78 220h6M92 189h6M36 299h6M41 225h6M46 262h6M46 203h6M105 258h6M65 208h6M88 264h6M72 240h6M18 237h6M56 289h6M41 235h6M55 241h6M79 225h6M53 264h6M62 234h6M39 297h6M143 249h6M56 267h6M85 231h6M64 250h6M41 241h6M99 287h6M28 238h6M67 220h6M80 226h6M24 238h6M90 275h6M62 277h6M132 246h6M18 230h6M55 248h6M42 254h6M76 230h6M98 270h6M73 255h6M67 275h6M57 239h6M87 212h6M52 284h6M75 249h6M54 263h6M115 188h6M72 217h6M106 240h6M30 208h6M50 211h6M70 254h6M68 252h6M72 263h6M106 298h6M93 187h6M68 208h6M44 259h6M79 237h6M75 244h6M112 257h6M46 218h6M88 243h6M63 274h6M81 224h6M69 220h6M28 272h6M40 251h6M92 211h6M38 196h6M51 255h6M112 193h6M83 243h6M53 286h6M133 242h6M63 198h6M15 239h6M82 259h6M25 284h6M56 288h6M49 206h6M59 226h6M58 233h6M38 262h6M63 264h6M26 255h6M51 265h6M71 218h6M87 275h6M75 224h6M59 258h6M84 233h6M59 232h6M62 247h6M64 260h6M59 251h6M37 259h6M63 257h6M66 265h6M59 275h6M60 250h6M104 227h6M76 284h6M58 192h6M31 251h6M75 200h6M17 224h6M54 238h6M129 228h6M32 256h6M45 243h6M65 228h6M80 279h6M63 220h6M36 220h6M87 289h6M70 300h6M80 257h6M50 235h6M84 249h6M80 182h6M55 214h6M24 228h6M62 259h6M70 269h6M70 199h6M78 214h6M42 229h6M61 253h6M10 216h6M77 270h6M20 254h6M55 268h6M91 227h6M27 255h6M79 246h6M73 228h6M91 234h6M99 211h6M98 246h6M18 269h6M58 255h6M73 270h6M65 219h6M29 267h6M35 231h6M68 233h6M66 209h6M108 234h6M78 249h6M120 285h6M102 228h6M51 276h6M69 234h6M84 228h6M51 211h6M66 252h6M110 235h6M85 296h6M20 264h6M23 230h6M21 250h6M76 200h6M29 179h6M54 198h6M48 231h6M45 238h6M54 276h6M108 211h6M50 268h6M88 233h6M63 233h6M12 280h6M65 196h6M65 262h6M51 198h6M65 198h6M62 255h6M73 205h6M61 203h6M76 253h6M112 272h6M54 271h6M78 257h6M103 262h6M74 258h6M67 206h6M26 234h6M94 290h6M44 253h6M70 253h6M106 175h6M54 242h6M61 291h6M36 254h6M31 223h6M57 223h6M77 233h6M43 281h6M68 272h6M59 256h6M87 215h6M61 199h6M136 272h6M68 207h6M35 240h6M58 273h6M58 256h6M63 280h6M70 259h6M92 228h6M17 219h6M52 187h6M85 238h6M59 213h6M56 234h6M71 264h6M51 199h6M79 239h6M61 229h6M66 232h6M104 215h6M86 207h6M70 285h6M97 221h6M64 262h6M64 221h6M54 233h6M42 189h6M23 302h6M97 247h6M66 225h6M82 268h6M92 246h6M90 207h6M71 241h6M82 273h6M119 209h6M68 273h6M68 237h6M65 228h6M43 241h6M73 236h6M32 249h6M64 273h6M53 170h6M71 240h6M82 228h6M41 242h6M46 247h6M68 260h6M22 232h6M106 232h6M71 271h6M108 276h6M46 251h6M73 230h6M37 260h6M51 207h6M45 204h6M58 276h6M52 252h6M76 252h6M88 258h6M45 203h6M30 254h6M78 239h6M61 267h6M61 303h6M98 243h6M74 257h6M19 269h6M35 218h6M54 275h6M66 250h6M61 248h6M76 202h6M140 227h6M81 191h6M99 246h6M84 224h6M34 228h6M35 227h6M77 244h6M87 219h6M47 246h6M112 245h6M50 283h6M46 278h6M94 194h6M62 216h6M50 200h6M61 270h6M69 231h6M292 149h6M321 135h6M323 119h6M238 126h6M223 111h6M346 115h6M285 138h6M354 108h6M314 142h6M315 124h6M270 94h6M281 120h6M306 82h6M271 171h6M247 143h6M243 118h6M325 134h6M250 117h6M228 170h6M252 159h6M339 156h6M307 126h6M328 132h6M308 156h6M237 136h6M293 158h6M274 124h6M314 123h6M274 132h6M308 134h6M259 92h6M307 157h6M271 160h6M291 157h6M300 150h6M356 118h6M300 106h6M302 137h6M262 117h6M333 136h6M271 146h6M333 143h6M276 138h6M291 173h6M243 119h6M191 123h6M390 133h6M298 129h6M349 124h6M322 153h6M290 126h6M277 132h6M236 166h6M271 95h6M274 141h6M283 149h6M289 92h6M299 127h6M279 111h6M310 125h6M254 123h6M262 143h6M284 112h6M297 120h6M266 161h6M384 142h6M314 122h6M237 113h6M247 139h6M245 144h6M289 124h6M311 142h6M274 154h6M291 137h6M286 159h6M316 130h6M327 176h6M277 138h6M272 137h6M290 147h6M344 136h6M264 135h6M301 162h6M267 181h6M317 124h6M372 121h6M324 120h6M314 97h6M328 149h6M225 175h6M362 94h6M362 118h6M347 123h6M261 136h6M267 137h6M315 158h6M279 146h6M267 147h6M265 145h6M250 108h6M265 160h6M299 87h6M366 119h6M304 154h6M283 136h6M329 131h6M285 93h6M255 133h6M329 130h6M295 159h6M199 146h6M270 130h6M238 155h6M244 127h6M353 164h6M271 116h6M267 123h6M317 169h6M320 147h6M343 154h6M257 169h6M314 159h6M280 136h6M322 159h6M262 154h6M279 120h6M304 143h6M307 156h6M265 140h6M362 168h6M285 149h6M328 143h6M318 158h6M367 142h6M266 136h6M273 157h6M315 153h6M284 159h6M318 139h6M289 154h6M319 124h6M291 121h6M279 143h6M324 147h6M301 155h6M255 109h6M323 152h6M280 146h6M323 152h6M328 149h6M319 105h6M300 118h6M314 153h6M315 110h6M296 137h6M313 130h6M235 153h6M291 144h6M324 133h6M314 126h6M222 130h6M286 132h6M355 144h6M227 123h6M306 158h6M324 140h6M343 147h6M278 120h6M348 139h6M375 115h6M351 143h6M263 129h6M355 134h6M306 173h6M317 127h6M283 124h6M284 159h6M252 117h6M274 103h6M357 173h6M303 125h6M250 143h6M299 158h6M229 140h6M330 107h6M335 150h6M294 178h6M284 108h6M216 133h6M363 144h6M336 123h6M330 148h6M253 101h6M325 128h6M279 144h6M347 166h6M346 134h6M250 139h6M358 118h6M260 141h6M334 117h6M268 139h6M358 153h6M281 120h6M264 151h6M235 124h6M263 155h6M339 158h6M339 155h6M300 148h6M333 116h6M303 167h6M268 155h6M249 149h6M302 151h6M297 136h6M246 158h6M267 122h6M323 131h6M275 141h6M322 135h6M287 142h6M249 127h6M259 153h6M277 134h6M250 104h6M286 130h6M294 151h6M356 132h6M333 109h6M350 136h6M239 139h6M236 137h6M359 136h6M328 147h6M226 155h6M300 107h6M332 110h6M263 144h6M277 122h6M260 98h6M331 144h6M307 151h6M256 168h6M338 144h6M335 151h6M311 123h6M276 153h6M297 176h6M332 157h6M276 124h6M269 134h6M277 109h6M271 137h6M324 119h6M293 127h6M378 148h6M316 154h6M276 118h6M284 158h6M261 109h6M287 132h6M292 154h6M275 133h6M315 124h6M338 159h6M303 151h6M238 113h6M299 163h6M300 147h6M333 118h6M315 152h6M323 112h6M214 109h6M292 143h6M310 177h6M336 111h6M294 133h6M250 166h6M293 157h6M254 123h6M288 121h6M303 150h6M300 116h6M259 137h6M321 116h6M294 135h6M302 107h6M324 94h6M286 170h6M346 150h6M397 154h6M304 121h6M326 121h6M322 138h6M366 160h6M278 125h6M326 153h6M255 129h6M277 126h6M299 130h6M287 155h6M395 139h6M301 142h6M286 130h6M245 122h6M322 124h6M365 125h6M316 93h6M294 104h6M237 158h6M272 176h6M336 156h6M329 163h6M369 125h6M277 105h6M291 121h6M253 145h6M337 160h6M346 133h6M232 169h6M346 146h6M306 122h6M293 165h6M263 129h6M304 141h6M217 169h6M275 136h6M272 135h6M285 184h6M326 187h6M264 134h6M236 135h6M366 116h6M357 163h6M310 138h6M310 142h6M346 149h6M305 151h6M340 181h6M287 156h6M281 123h6M357 117h6M282 131h6M314 122h6M256 143h6M333 133h6M294 127h6M283 99h6M354 129h6M320 150h6M336 84h6M353 170h6M285 138h6M362 165h6M292 136h6M337 129h6M249 155h6M274 157h6M268 160h6M408 146h6M327 121h6M350 133h6M314 122h6M341 98h6M286 78h6M299 147h6M307 161h6M270 163h6M267 153h6M347 142h6M309 119h6M295 108h6M353 156h6M349 148h6M325 149h6M290 138h6M289 114h6M282 134h6M339 161h6M319 122h6M297 118h6M391 144h6M327 175h6M215 105h6M299 103h6M245 171h6M292 152h6M324 143h6M253 155h6M303 111h6M319 124h6M312 157h6M259 124h6M244 149h6M286 163h6M257 161h6M217 145h6M251 151h6M301 122h6M262 173h6M265 161h6M274 166h6M351 137h6M275 129h6M241 112h6M322 137h6M246 157h6M290 119h6M264 139h6M289 144h6M319 174h6M274 122h6M294 183h6M274 177h6M313 103h6M313 146h6M251 138h6M272 159h6M372 140h6M272 152h6M301 136h6M294 167h6M215 130h6M254 129h6M328 122h6M305 158h6M260 144h6M271 149h6M291 124h6M214 135h6M315 142h6M253 157h6M335 148h6M295 164h6M240 86h6M275 139h6M295 115h6M350 189h6M301 119h6M274 159h6M356 116h6M322 118h6M253 149h6M330 160h6M287 110h6M280 138h6M318 83h6M302 138h6M268 105h6M332 72h6M301 168h6M311 143h6M297 112h6M279 148h6M203 156h6M303 152h6M298 155h6M307 153h6M208 107h6M335 129h6M307 115h6M318 137h6M338 150h6M267 136h6M310 149h6M374 143h6M260 157h6M214 151h6M290 133h6M293 133h6M292 131h6M300 115h6M279 100h6M322 77h6M327 132h6M318 141h6M352 154h6M277 121h6M286 89h6M297 142h6M282 137h6M276 135h6M274 114h6M294 138h6M285 151h6M319 160h6M240 127h6M304 118h6M352 135h6M353 136h6M374 141h6M274 139h6M307 126h6M244 136h6M252 149h6M334 120h6M198 95h6M211 183h6M276 150h6M312 103h6M239 163h6M244 132h6M279 161h6M328 152h6M306 105h6M259 153h6M312 97h6M252 163h6M266 99h6M267 108h6M191 137h6M216 141h6M339 84h6M263 151h6M260 142h6M238 165h6M376 166h6M235 127h6M279 101h6M366 128h6M289 178h6M340 107h6M253 132h6M271 149h6M302 148h6M297 141h6M265 123h6M332 128h6M356 149h6M259 114h6M245 166h6M365 152h6M329 148h6M295 112h6M249 148h6M286 145h6M330 133h6M313 133h6M348 149h6M284 138h6M318 167h6M304 140h6M346 139h6M302 134h6M268 138h6M285 114h6M288 119h6M309 131h6M285 127h6M302 122h6M282 135h6M281 132h6M237 163h6M248 151h6M217 176h6M301 151h6M264 159h6M300 152h6M341 130h6M275 149h6M330 126h6M224 192h6M367 104h6M207 185h6M223 220h6M329 149h6M313 110h6M312 203h6M321 234h6M250 87h6M164 147h6M273 190h6M235 151h6M310 196h6M235 212h6M277 177h6M285 178h6M268 103h6M287 173h6M387 151h6M267 90h6M115 179h6M254 75h6M411 104h6M361 184h6M358 186h6M303 147h6M387 105h6M368 178h6M399 98h6M293 105h6M189 165h6M310 125h6M182 131h6M238 153h6M337 119h6M380 146h6M208 121h6M280 214h6M250 99h6M224 90h6M277 113h6M315 114h6M228 113h6M293 126h6M205 216h6M272 89h6M337 158h6M352 126h6M399 132h6M218 141h6M309 162h6M271 127h6M338 226h6M273 145h6M145 31h6M264 139h6M328 141h6M440 172h6M279 168h6M363 82h6M257 249h6M293 220h6M293 157h6M458 176h6M159 214h6M140 189h6M348 280h6M348 126h6M218 209h6M218 234h6M265 124h6M125 107h6M261 143h6M190 122h6M222 252h6M235 135h6M389 222h6M131 104h6M324 249h6M309 156h6M335 155h6M235 62h6M254 80h6M372 193h6M184 206h6M316 97h6" stroke="#000" stroke-width="6" opacity=".72" fill="none"/>
<path d="M380.2 211.6V243.4M360.2 233.5H407.8" stroke="#555" stroke-width=".7" fill="none"/>
<path d="M356.9 211.9l1.7 .9M356.9 219.6l1.7 .9M356.9 227.2l1.7 .9M356.9 234.9l1.7 .9M356.9 242.5l1.7 .9" stroke="#4a4a4a" stroke-width="1.3" stroke-linecap="round" fill="none"/>
<path d="M359.6 246.4l2.4 -.8M371.1 246.4l2.4 -.8M382.6 246.4l2.4 -.8M394.2 246.4l2.4 -.8M405.7 246.4l2.4 -.8" stroke="#888" stroke-width="1.1" stroke-linecap="round" fill="none"/>
<path d="M360.2 211.6V243.4H407.8" stroke="#2a2a2a" stroke-width=".9" fill="none"/>
<text x="404.8" y="223.1" font-size="8.5" font-weight="bold" text-anchor="end" >51</text>
<rect x="415.0" y="211.6" width="48.0" height="31.8" fill="#fff" stroke="#5a5a5a" stroke-width=".7"/>
<clipPath id="c22"><rect x="415.0" y="211.6" width="48.0" height="31.8"/></clipPath><g clip-path="url(#c22)">
<ellipse cx="423.2" cy="227.5" rx="7.9" ry="10.5" fill="url(#g)" opacity="0.14"/>
<ellipse cx="447.6" cy="226.5" rx="8.4" ry="7.0" fill="url(#g)" opacity="0.92"/>
</g>
<path transform="translate(415.0 211.6) scale(.1)" d="M47 130h6M71 126h6M158 204h6M49 179h6M24 134h6M98 188h6M49 95h6M63 163h6M70 141h6M23 174h6M51 118h6M80 82h6M98 70h6M28 200h6M92 146h6M113 159h6M78 160h6M109 147h6M133 120h6M129 111h6M85 146h6M98 148h6M43 89h6M84 185h6M140 214h6M33 251h6M119 103h6M131 125h6M143 66h6M87 137h6M77 162h6M138 200h6M45 201h6M90 131h6M97 198h6M109 194h6M49 171h6M113 170h6M21 191h6M113 142h6M102 227h6M75 195h6M56 237h6M128 183h6M94 196h6M99 186h6M29 141h6M140 145h6M34 171h6M21 142h6M82 134h6M82 159h6M40 107h6M88 118h6M57 115h6M39 87h6M21 206h6M57 120h6M104 211h6M105 238h6M135 233h6M82 154h6M71 288h6M112 46h6M56 235h6M41 178h6M70 136h6M46 90h6M73 73h6M96 47h6M89 179h6M44 96h6M90 252h6M85 172h6M116 200h6M43 113h6M36 208h6M109 67h6M52 125h6M75 145h6M106 51h6M43 151h6M134 162h6M107 226h6M77 114h6M29 169h6M79 129h6M51 271h6M132 101h6M55 94h6M132 168h6M72 167h6M96 113h6M133 203h6M107 90h6M43 115h6M27 233h6M122 167h6M141 137h6M121 197h6M66 162h6M36 112h6M43 222h6M55 89h6M81 202h6M166 134h6M73 97h6M83 201h6M110 171h6M12 164h6M151 72h6M96 89h6M125 215h6M27 172h6M132 278h6M109 189h6M49 100h6M65 155h6M174 200h6M35 173h6M38 175h6M52 214h6M93 153h6M28 85h6M28 138h6M68 108h6M77 133h6M71 153h6M52 92h6M93 148h6M58 161h6M128 224h6M43 168h6M110 126h6M75 227h6M92 102h6M56 105h6M37 128h6M95 199h6M89 170h6M141 207h6M120 179h6M134 131h6M88 171h6M85 194h6M34 149h6M41 137h6M86 231h6M83 230h6M20 115h6M20 147h6M70 147h6M122 191h6M111 193h6M98 98h6M42 205h6M118 169h6M71 118h6M82 178h6M83 263h6M116 91h6M47 126h6M68 202h6M59 74h6M87 248h6M123 139h6M124 161h6M57 152h6M65 117h6M57 110h6M87 242h6M30 167h6M109 181h6M82 117h6M91 135h6M84 237h6M82 123h6M96 145h6M59 183h6M65 139h6M123 189h6M33 123h6M66 145h6M102 27h6M32 163h6M149 114h6M106 178h6M92 125h6M121 243h6M66 116h6M59 170h6M137 104h6M48 97h6M37 153h6M74 76h6M61 201h6M70 144h6M45 178h6M155 216h6M90 132h6M33 204h6M67 211h6M138 100h6M74 168h6M21 113h6M118 91h6M115 185h6M86 157h6M81 223h6M67 193h6M78 205h6M80 119h6M69 270h6M120 191h6M100 135h6M84 122h6M33 230h6M99 164h6M65 103h6M64 155h6M102 94h6M75 147h6M83 171h6M66 219h6M83 181h6M29 130h6M69 128h6M120 161h6M111 232h6M43 253h6M51 133h6M100 123h6M85 157h6M63 133h6M71 184h6M86 70h6M79 164h6M77 220h6M64 129h6M57 62h6M75 204h6M74 128h6M36 196h6M19 139h6M96 93h6M107 199h6M82 166h6M85 164h6M42 204h6M81 159h6M72 201h6M63 80h6M119 194h6M96 173h6M65 163h6M65 163h6M76 98h6M69 176h6M62 181h6M75 134h6M90 127h6M79 154h6M132 202h6M109 139h6M44 132h6M107 149h6M78 139h6M83 190h6M170 187h6M44 197h6M12 163h6M71 196h6M78 94h6M15 170h6M56 174h6M150 109h6M107 93h6M73 235h6M63 221h6M128 122h6M100 202h6M67 209h6M79 178h6M86 145h6M83 138h6M118 141h6M34 279h6M70 159h6M56 147h6M16 251h6M53 103h6M88 192h6M78 156h6M57 212h6M63 171h6M103 224h6M88 140h6M73 158h6M86 110h6M63 150h6M102 122h6M57 106h6M116 185h6M95 175h6M30 153h6M54 166h6M79 161h6M108 154h6M28 249h6M83 136h6M113 199h6M82 121h6M98 132h6M47 124h6M84 175h6M48 158h6M327 154h6M255 163h6M247 124h6M312 137h6M271 109h6M340 136h6M349 134h6M356 165h6M339 133h6M333 199h6M351 202h6M320 168h6M351 129h6M302 178h6M332 162h6M295 70h6M287 150h6M283 174h6M403 175h6M303 172h6M353 147h6M367 155h6M344 145h6M276 91h6M362 162h6M388 117h6M367 197h6M275 80h6M282 161h6M281 164h6M252 155h6M407 151h6M334 183h6M333 158h6M306 132h6M294 156h6M309 187h6M319 165h6M420 161h6M279 188h6M369 165h6M332 120h6M330 169h6M336 184h6M269 108h6M307 164h6M320 117h6M312 63h6M375 99h6M308 132h6M366 126h6M296 170h6M361 143h6M313 137h6M301 194h6M298 129h6M322 175h6M279 143h6M287 143h6M395 122h6M304 117h6M285 168h6M345 116h6M334 160h6M321 90h6M283 117h6M296 125h6M298 161h6M299 160h6M323 166h6M274 169h6M379 116h6M222 140h6M312 132h6M317 151h6M302 181h6M371 193h6M352 195h6M357 160h6M322 148h6M341 189h6M296 171h6M281 190h6M435 171h6M308 165h6M326 139h6M310 131h6M337 105h6M357 152h6M419 130h6M318 143h6M391 185h6M355 154h6M356 160h6M309 156h6M243 167h6M382 187h6M325 166h6M300 162h6M369 173h6M258 175h6M296 132h6M245 169h6M335 106h6M266 126h6M365 126h6M457 182h6M289 134h6M364 101h6M368 163h6M370 163h6M365 133h6M362 154h6M346 163h6M269 182h6M326 185h6M341 152h6M375 110h6M277 196h6M286 133h6M359 196h6M337 165h6M295 218h6M275 154h6M350 196h6M343 142h6M269 171h6M338 193h6M296 176h6M316 141h6M331 176h6M248 153h6M309 128h6M367 156h6M360 125h6M343 110h6M347 239h6M361 182h6M308 165h6M283 126h6M387 173h6M298 147h6M264 126h6M265 151h6M342 157h6M309 219h6M364 154h6M365 114h6M360 192h6M258 190h6M338 116h6M277 142h6M377 188h6M293 137h6M334 156h6M315 74h6M408 155h6M320 115h6M328 108h6M348 134h6M287 143h6M289 141h6M338 148h6M418 187h6M430 196h6M326 126h6M337 148h6M267 138h6M362 184h6M358 179h6M294 166h6M354 128h6M345 176h6M220 171h6M335 188h6M358 191h6M333 137h6M358 158h6M390 103h6M282 105h6M342 155h6M342 187h6M266 144h6M246 129h6M282 121h6M304 110h6M321 204h6M330 219h6M358 202h6M289 238h6M320 147h6M305 178h6M414 156h6M337 119h6M318 146h6M355 166h6M328 155h6M317 155h6M315 147h6M310 148h6M273 190h6M370 98h6M369 151h6M273 156h6M340 163h6M336 110h6M368 159h6M265 134h6M328 174h6M302 145h6M359 154h6M324 124h6M301 177h6M329 131h6M328 124h6M301 180h6M323 136h6M307 146h6M293 95h6M298 185h6M326 176h6M374 213h6M354 110h6M302 149h6M346 121h6M325 163h6M332 130h6M254 180h6M325 150h6M369 167h6M304 120h6M350 152h6M326 165h6M336 138h6M364 160h6M339 132h6M233 168h6M352 189h6M359 185h6M276 124h6M324 178h6M334 144h6M314 96h6M294 168h6M312 172h6M274 100h6M394 175h6M368 124h6M273 187h6M339 171h6M335 138h6M351 213h6M297 123h6M301 179h6M319 144h6M315 164h6M343 131h6M335 191h6M370 164h6M327 149h6M375 156h6M314 167h6M362 162h6M356 108h6M326 162h6M308 151h6M341 228h6M294 143h6M280 159h6M314 160h6M332 177h6M254 143h6M354 187h6M357 119h6M377 118h6M257 152h6M252 160h6M325 191h6M354 124h6M302 117h6M341 118h6M312 126h6M267 155h6M352 181h6M344 161h6M229 169h6M361 138h6M236 136h6M278 213h6M379 150h6M294 223h6M271 144h6M342 113h6M376 196h6M314 120h6M327 155h6M386 140h6M339 113h6M317 155h6M356 176h6M308 161h6M376 155h6M313 139h6M451 182h6M335 179h6M304 139h6M345 162h6M332 154h6M347 188h6M279 150h6M299 128h6M314 170h6M315 168h6M322 144h6M317 198h6M276 141h6M282 117h6M435 104h6M337 142h6M348 171h6M342 206h6M353 142h6M318 155h6M293 153h6M366 159h6M334 139h6M376 234h6M226 192h6M435 140h6M370 170h6M282 137h6M239 165h6M367 134h6M306 159h6M346 141h6M260 205h6M301 140h6M272 221h6M305 199h6M288 136h6M303 122h6M349 80h6M373 215h6M307 176h6M307 160h6M343 165h6M352 159h6M349 145h6M322 158h6M267 204h6M335 160h6M229 199h6M283 112h6M356 123h6M335 159h6M348 78h6M331 166h6M339 158h6M306 94h6M282 51h6M371 135h6M332 151h6M318 138h6M266 191h6M299 133h6M304 130h6M341 123h6M279 143h6M355 134h6M401 142h6M354 168h6M297 108h6M294 153h6M384 89h6M372 127h6M331 103h6M270 143h6M393 174h6M383 95h6M302 176h6M279 142h6M228 181h6M353 149h6M326 109h6M284 79h6M346 130h6M287 172h6M346 143h6M386 142h6M341 197h6M332 201h6M367 138h6M360 155h6M327 150h6M353 157h6M310 148h6M339 85h6M299 127h6M337 133h6M378 112h6M344 138h6M343 193h6M287 77h6M309 102h6M333 171h6M277 152h6M283 177h6M348 147h6M353 123h6M292 134h6M363 172h6M353 174h6M297 160h6M324 142h6M277 163h6M298 143h6M264 203h6M301 164h6M322 151h6M381 111h6M349 151h6M299 144h6M367 144h6M326 124h6M334 113h6M224 178h6M361 134h6M266 176h6M308 118h6M306 160h6M383 196h6M354 179h6M325 163h6M339 190h6M278 181h6M248 149h6M356 155h6M355 131h6M270 147h6M360 125h6M348 175h6M300 60h6M299 169h6M313 122h6M344 199h6M293 191h6M295 110h6M314 144h6M357 157h6M323 206h6M286 164h6M346 170h6M325 107h6M279 121h6M340 144h6M299 139h6M258 220h6M375 142h6M314 191h6M336 137h6M328 163h6M375 133h6M354 168h6M249 161h6M326 153h6M323 201h6M308 180h6M334 122h6M289 86h6M301 203h6M337 114h6M331 163h6M325 88h6M354 152h6M352 127h6M289 93h6M333 193h6M323 197h6M318 117h6M352 120h6M362 184h6M347 123h6M255 186h6M298 140h6M275 159h6M335 148h6M239 134h6M362 79h6M296 211h6M345 122h6M346 140h6M340 167h6M374 153h6M290 167h6M299 163h6M310 109h6M326 166h6M317 106h6M366 160h6M221 167h6M341 145h6M300 157h6M388 122h6M382 194h6M320 95h6M333 99h6M294 154h6M305 134h6M356 135h6M395 109h6M311 126h6M323 185h6M285 164h6M278 163h6M336 163h6M309 212h6M326 169h6M379 156h6M352 148h6M304 114h6M298 167h6M262 171h6M332 142h6M266 97h6M347 159h6M307 139h6M402 149h6M275 164h6M403 170h6M355 187h6M348 157h6M293 196h6M350 184h6M343 159h6M320 157h6M368 162h6M343 139h6M326 210h6M338 197h6M355 160h6M299 139h6M321 150h6M440 191h6M332 169h6M293 145h6M335 254h6M286 174h6M355 171h6M292 153h6M358 159h6M334 157h6M343 124h6M370 152h6M354 189h6M311 150h6M365 161h6M335 182h6M288 143h6M324 149h6M300 132h6M335 153h6M365 189h6M291 144h6M340 147h6M333 116h6M365 131h6M336 205h6M302 185h6M315 173h6M424 142h6M357 113h6M329 72h6M284 197h6M262 140h6M325 164h6M269 150h6M364 121h6M344 208h6M342 176h6M257 122h6M285 135h6M318 163h6M277 123h6M289 157h6M352 104h6M372 124h6M286 150h6M244 124h6M349 169h6M308 201h6M329 141h6M291 188h6M396 175h6M274 146h6M381 186h6M373 178h6M374 166h6M342 163h6M328 156h6M340 155h6M265 175h6M406 232h6M319 258h6M302 237h6M208 154h6M341 271h6M281 127h6M157 211h6M375 223h6M463 193h6M324 143h6M202 167h6M288 193h6M430 129h6M347 147h6M323 136h6M367 156h6M377 120h6M243 99h6M368 27h6M399 125h6M324 159h6M323 187h6M280 205h6M272 87h6M334 200h6M321 234h6M438 119h6M233 181h6M325 174h6M269 110h6M256 163h6M105 148h6M417 221h6M318 212h6M246 188h6M216 79h6M300 136h6M240 98h6M198 201h6M373 213h6M280 224h6M267 112h6M388 281h6M237 251h6M409 169h6M266 254h6M358 74h6M346 134h6M396 160h6M200 110h6M185 147h6M248 220h6M449 172h6M124 216h6M360 270h6M308 126h6M291 149h6M216 144h6M224 151h6M366 234h6M208 231h6M235 191h6M163 269h6M330 177h6M247 123h6M164 252h6M323 85h6M253 84h6M345 140h6M346 238h6M234 117h6M229 109h6M252 191h6M367 85h6M352 203h6M351 79h6M357 137h6M383 164h6M366 162h6M216 180h6M275 240h6M355 185h6M344 131h6M259 227h6M393 202h6M367 162h6M266 159h6M373 174h6M305 196h6M271 138h6M219 125h6M373 127h6M371 197h6M243 108h6M329 172h6M385 150h6M311 184h6M435 263h6M310 22h6M291 126h6M348 115h6M314 159h6M247 128h6M321 174h6M416 72h6M106 163h6M250 130h6M273 264h6M396 145h6" stroke="#000" stroke-width="6" opacity=".72" fill="none"/>
<path d="M434.7 211.6V243.4M415.0 233.5H463.0" stroke="#555" stroke-width=".7" fill="none"/>
<path d="M411.7 211.9l1.7 .9M411.7 219.6l1.7 .9M411.7 227.2l1.7 .9M411.7 234.9l1.7 .9M411.7 242.5l1.7 .9" stroke="#4a4a4a" stroke-width="1.3" stroke-linecap="round" fill="none"/>
<path d="M414.4 246.4l2.4 -.8M426.0 246.4l2.4 -.8M437.6 246.4l2.4 -.8M449.3 246.4l2.4 -.8M460.9 246.4l2.4 -.8" stroke="#888" stroke-width="1.1" stroke-linecap="round" fill="none"/>
<path d="M415.0 211.6V243.4H463.0" stroke="#2a2a2a" stroke-width=".9" fill="none"/>
<text x="460.0" y="223.1" font-size="8.5" font-weight="bold" text-anchor="end" >76</text>
<text transform="translate(237.6 240.3) rotate(-90)" font-size="8.8" textLength="16.2" lengthAdjust="spacingAndGlyphs" stroke="#000" stroke-width=".35">CD5</text>
<path d="M235.8 220V137" stroke="#000" stroke-width="2.1" fill="none"/><path d="M231.7 141L235.8 135.6L239.9 141" stroke="#000" stroke-width="2.1" fill="none"/>
<text x="259.8" y="256.4" font-size="8.8" textLength="17.5" lengthAdjust="spacingAndGlyphs" stroke="#000" stroke-width=".35">IgM</text>
<path d="M281 254.6L457 255.2" stroke="#000" stroke-width="2.4" fill="none"/><path d="M452.8 251.2L458.4 255.1L452.8 259" stroke="#000" stroke-width="2.2" fill="none"/>
<text x="469.7" y="158" font-size="8.5" font-weight="bold" textLength="49.5" lengthAdjust="spacingAndGlyphs" stroke="#000" stroke-width=".25">IRF4<tspan font-size="6.2" dy="-3.3">+</tspan><tspan font-size="7.2" dy="1.3">/</tspan><tspan font-size="6.2" dy="-1.3">+</tspan><tspan dy="3.3">&#160;Vh11</tspan></text>
<text x="469.7" y="193.1" font-size="8.5" font-weight="bold" textLength="49.5" lengthAdjust="spacingAndGlyphs" stroke="#000" stroke-width=".25">IRF4<tspan font-size="6.2" dy="-3.3">+</tspan><tspan font-size="7.2" dy="1.3">/</tspan><tspan font-size="6.2" dy="-1.3">-</tspan><tspan dy="3.3">&#160;Vh11</tspan></text>
<text x="471" y="229.6" font-size="8.5" font-weight="bold" textLength="47" lengthAdjust="spacingAndGlyphs" stroke="#000" stroke-width=".25">IRF4<tspan font-size="6.2" dy="-3.3">-</tspan><tspan font-size="7.2" dy="1.3">/</tspan><tspan font-size="6.2" dy="-1.3">-</tspan><tspan dy="3.3">&#160;Vh11</tspan></text>
</g>
</svg></body></html>
